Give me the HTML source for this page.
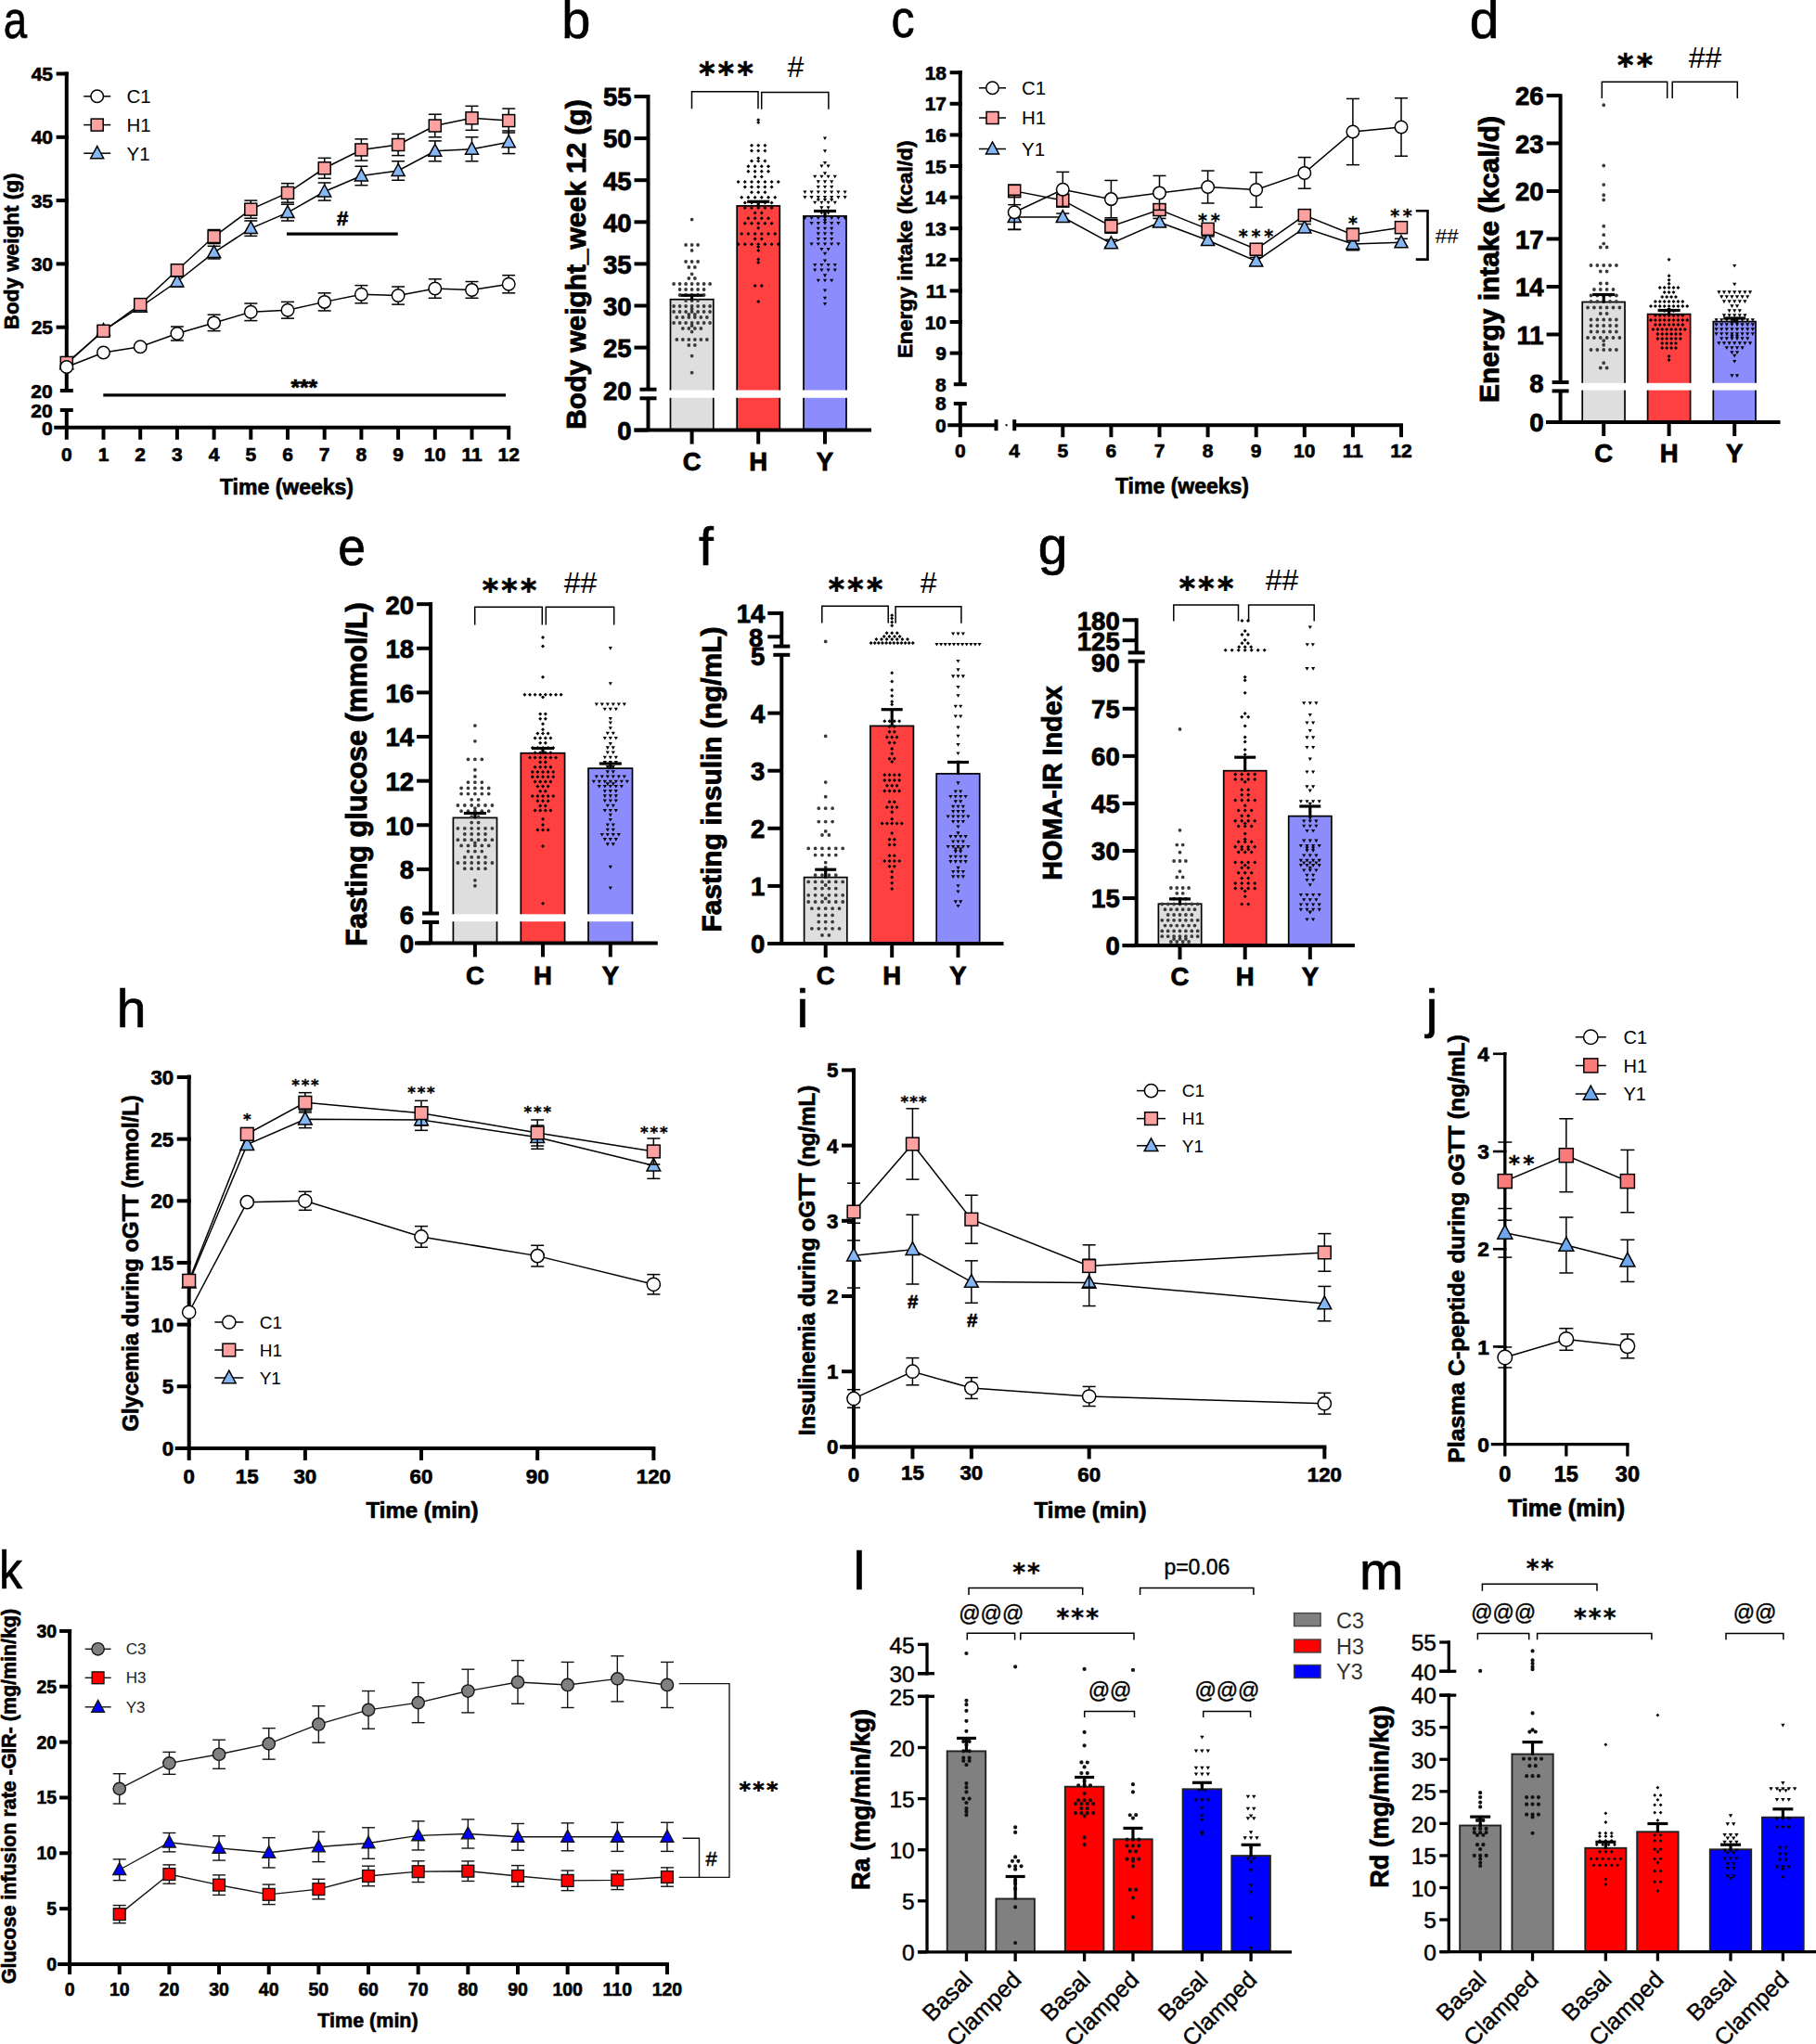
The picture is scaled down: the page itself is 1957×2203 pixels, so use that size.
<!DOCTYPE html>
<html><head><meta charset="utf-8"><title>Figure</title>
<style>html,body{margin:0;padding:0;background:#fff}svg{display:block}text{font-family:"Liberation Sans",sans-serif}</style>
</head><body>
<svg width="1957" height="2203" viewBox="0 0 1957 2203">
<rect width="1957" height="2203" fill="#fff"/>
<g>
<line x1="71.8" y1="77.5" x2="71.8" y2="421" stroke="#000" stroke-width="4"/>
<line x1="60.6" y1="79.5" x2="73.8" y2="79.5" stroke="#000" stroke-width="4"/>
<text x="57" y="87.02" font-size="21" font-weight="bold" stroke="#000" stroke-width="0.63" text-anchor="end">45</text>
<line x1="60.6" y1="147.8" x2="73.8" y2="147.8" stroke="#000" stroke-width="4"/>
<text x="57" y="155.32" font-size="21" font-weight="bold" stroke="#000" stroke-width="0.63" text-anchor="end">40</text>
<line x1="60.6" y1="216.1" x2="73.8" y2="216.1" stroke="#000" stroke-width="4"/>
<text x="57" y="223.62" font-size="21" font-weight="bold" stroke="#000" stroke-width="0.63" text-anchor="end">35</text>
<line x1="60.6" y1="284.4" x2="73.8" y2="284.4" stroke="#000" stroke-width="4"/>
<text x="57" y="291.92" font-size="21" font-weight="bold" stroke="#000" stroke-width="0.63" text-anchor="end">30</text>
<line x1="60.6" y1="352.7" x2="73.8" y2="352.7" stroke="#000" stroke-width="4"/>
<text x="57" y="360.22" font-size="21" font-weight="bold" stroke="#000" stroke-width="0.63" text-anchor="end">25</text>
<line x1="64.8" y1="421" x2="78.8" y2="421" stroke="#000" stroke-width="4"/>
<text x="56.6" y="429.02" font-size="21" font-weight="bold" stroke="#000" stroke-width="0.63" text-anchor="end">20</text>
<line x1="64.8" y1="442" x2="78.8" y2="442" stroke="#000" stroke-width="4"/>
<text x="56.6" y="450.02" font-size="21" font-weight="bold" stroke="#000" stroke-width="0.63" text-anchor="end">20</text>
<line x1="71.8" y1="440" x2="71.8" y2="460.8" stroke="#000" stroke-width="4"/>
<text x="56.6" y="469.32" font-size="21" font-weight="bold" stroke="#000" stroke-width="0.63" text-anchor="end">0</text>
<line x1="58.3" y1="460.8" x2="550.2" y2="460.8" stroke="#000" stroke-width="4"/>
<line x1="71.8" y1="460.8" x2="71.8" y2="473.8" stroke="#000" stroke-width="4"/>
<text x="71.8" y="496.82" font-size="21" font-weight="bold" stroke="#000" stroke-width="0.63" text-anchor="middle">0</text>
<line x1="111.5" y1="460.8" x2="111.5" y2="473.8" stroke="#000" stroke-width="4"/>
<text x="111.5" y="496.82" font-size="21" font-weight="bold" stroke="#000" stroke-width="0.63" text-anchor="middle">1</text>
<line x1="151.2" y1="460.8" x2="151.2" y2="473.8" stroke="#000" stroke-width="4"/>
<text x="151.2" y="496.82" font-size="21" font-weight="bold" stroke="#000" stroke-width="0.63" text-anchor="middle">2</text>
<line x1="190.9" y1="460.8" x2="190.9" y2="473.8" stroke="#000" stroke-width="4"/>
<text x="190.9" y="496.82" font-size="21" font-weight="bold" stroke="#000" stroke-width="0.63" text-anchor="middle">3</text>
<line x1="230.6" y1="460.8" x2="230.6" y2="473.8" stroke="#000" stroke-width="4"/>
<text x="230.6" y="496.82" font-size="21" font-weight="bold" stroke="#000" stroke-width="0.63" text-anchor="middle">4</text>
<line x1="270.3" y1="460.8" x2="270.3" y2="473.8" stroke="#000" stroke-width="4"/>
<text x="270.3" y="496.82" font-size="21" font-weight="bold" stroke="#000" stroke-width="0.63" text-anchor="middle">5</text>
<line x1="310" y1="460.8" x2="310" y2="473.8" stroke="#000" stroke-width="4"/>
<text x="310" y="496.82" font-size="21" font-weight="bold" stroke="#000" stroke-width="0.63" text-anchor="middle">6</text>
<line x1="349.7" y1="460.8" x2="349.7" y2="473.8" stroke="#000" stroke-width="4"/>
<text x="349.7" y="496.82" font-size="21" font-weight="bold" stroke="#000" stroke-width="0.63" text-anchor="middle">7</text>
<line x1="389.4" y1="460.8" x2="389.4" y2="473.8" stroke="#000" stroke-width="4"/>
<text x="389.4" y="496.82" font-size="21" font-weight="bold" stroke="#000" stroke-width="0.63" text-anchor="middle">8</text>
<line x1="429.1" y1="460.8" x2="429.1" y2="473.8" stroke="#000" stroke-width="4"/>
<text x="429.1" y="496.82" font-size="21" font-weight="bold" stroke="#000" stroke-width="0.63" text-anchor="middle">9</text>
<line x1="468.8" y1="460.8" x2="468.8" y2="473.8" stroke="#000" stroke-width="4"/>
<text x="468.8" y="496.82" font-size="21" font-weight="bold" stroke="#000" stroke-width="0.63" text-anchor="middle">10</text>
<line x1="508.5" y1="460.8" x2="508.5" y2="473.8" stroke="#000" stroke-width="4"/>
<text x="508.5" y="496.82" font-size="21" font-weight="bold" stroke="#000" stroke-width="0.63" text-anchor="middle">11</text>
<line x1="548.2" y1="460.8" x2="548.2" y2="473.8" stroke="#000" stroke-width="4"/>
<text x="548.2" y="496.82" font-size="21" font-weight="bold" stroke="#000" stroke-width="0.63" text-anchor="middle">12</text>
<text x="309" y="533.23" font-size="23" font-weight="bold" stroke="#000" stroke-width="0.69" text-anchor="middle">Time (weeks)</text>
<text transform="translate(11.5 271) rotate(-90)" x="0" y="8.05" font-size="22.5" font-weight="bold" stroke="#000" stroke-width="0.67" text-anchor="middle">Body weight (g)</text>
<line x1="111.5" y1="352.02" x2="111.5" y2="360.21" stroke="#000" stroke-width="1.5"/>
<line x1="104.5" y1="352.02" x2="118.5" y2="352.02" stroke="#000" stroke-width="1.5"/>
<line x1="104.5" y1="360.21" x2="118.5" y2="360.21" stroke="#000" stroke-width="1.5"/>
<line x1="151.2" y1="326.06" x2="151.2" y2="335.62" stroke="#000" stroke-width="1.5"/>
<line x1="144.2" y1="326.06" x2="158.2" y2="326.06" stroke="#000" stroke-width="1.5"/>
<line x1="144.2" y1="335.62" x2="158.2" y2="335.62" stroke="#000" stroke-width="1.5"/>
<line x1="190.9" y1="298.06" x2="190.9" y2="308.99" stroke="#000" stroke-width="1.5"/>
<line x1="183.9" y1="298.06" x2="197.9" y2="298.06" stroke="#000" stroke-width="1.5"/>
<line x1="183.9" y1="308.99" x2="197.9" y2="308.99" stroke="#000" stroke-width="1.5"/>
<line x1="230.6" y1="265.28" x2="230.6" y2="278.94" stroke="#000" stroke-width="1.5"/>
<line x1="223.6" y1="265.28" x2="237.6" y2="265.28" stroke="#000" stroke-width="1.5"/>
<line x1="223.6" y1="278.94" x2="237.6" y2="278.94" stroke="#000" stroke-width="1.5"/>
<line x1="270.3" y1="237.96" x2="270.3" y2="254.35" stroke="#000" stroke-width="1.5"/>
<line x1="263.3" y1="237.96" x2="277.3" y2="237.96" stroke="#000" stroke-width="1.5"/>
<line x1="263.3" y1="254.35" x2="277.3" y2="254.35" stroke="#000" stroke-width="1.5"/>
<line x1="310" y1="220.2" x2="310" y2="237.96" stroke="#000" stroke-width="1.5"/>
<line x1="303" y1="220.2" x2="317" y2="220.2" stroke="#000" stroke-width="1.5"/>
<line x1="303" y1="237.96" x2="317" y2="237.96" stroke="#000" stroke-width="1.5"/>
<line x1="349.7" y1="196.98" x2="349.7" y2="216.1" stroke="#000" stroke-width="1.5"/>
<line x1="342.7" y1="196.98" x2="356.7" y2="196.98" stroke="#000" stroke-width="1.5"/>
<line x1="342.7" y1="216.1" x2="356.7" y2="216.1" stroke="#000" stroke-width="1.5"/>
<line x1="389.4" y1="179.22" x2="389.4" y2="199.71" stroke="#000" stroke-width="1.5"/>
<line x1="382.4" y1="179.22" x2="396.4" y2="179.22" stroke="#000" stroke-width="1.5"/>
<line x1="382.4" y1="199.71" x2="396.4" y2="199.71" stroke="#000" stroke-width="1.5"/>
<line x1="429.1" y1="173.75" x2="429.1" y2="194.24" stroke="#000" stroke-width="1.5"/>
<line x1="422.1" y1="173.75" x2="436.1" y2="173.75" stroke="#000" stroke-width="1.5"/>
<line x1="422.1" y1="194.24" x2="436.1" y2="194.24" stroke="#000" stroke-width="1.5"/>
<line x1="468.8" y1="151.9" x2="468.8" y2="173.75" stroke="#000" stroke-width="1.5"/>
<line x1="461.8" y1="151.9" x2="475.8" y2="151.9" stroke="#000" stroke-width="1.5"/>
<line x1="461.8" y1="173.75" x2="475.8" y2="173.75" stroke="#000" stroke-width="1.5"/>
<line x1="508.5" y1="147.8" x2="508.5" y2="173.75" stroke="#000" stroke-width="1.5"/>
<line x1="501.5" y1="147.8" x2="515.5" y2="147.8" stroke="#000" stroke-width="1.5"/>
<line x1="501.5" y1="173.75" x2="515.5" y2="173.75" stroke="#000" stroke-width="1.5"/>
<line x1="548.2" y1="140.97" x2="548.2" y2="165.56" stroke="#000" stroke-width="1.5"/>
<line x1="541.2" y1="140.97" x2="555.2" y2="140.97" stroke="#000" stroke-width="1.5"/>
<line x1="541.2" y1="165.56" x2="555.2" y2="165.56" stroke="#000" stroke-width="1.5"/>
<polyline points="71.8,392.31 111.5,356.12 151.2,330.84 190.9,303.52 230.6,272.11 270.3,246.15 310,229.08 349.7,206.54 389.4,189.46 429.1,184 468.8,162.83 508.5,160.78 548.2,153.26" fill="none" stroke="#000" stroke-width="1.5" stroke-linejoin="miter"/>
<polygon points="71.8,384.77 78.8,397.77 64.8,397.77" fill="#86b7f5" stroke="#000" stroke-width="1.5" stroke-linejoin="miter"/>
<polygon points="111.5,348.57 118.5,361.57 104.5,361.57" fill="#86b7f5" stroke="#000" stroke-width="1.5" stroke-linejoin="miter"/>
<polygon points="151.2,323.3 158.2,336.3 144.2,336.3" fill="#86b7f5" stroke="#000" stroke-width="1.5" stroke-linejoin="miter"/>
<polygon points="190.9,295.98 197.9,308.98 183.9,308.98" fill="#86b7f5" stroke="#000" stroke-width="1.5" stroke-linejoin="miter"/>
<polygon points="230.6,264.57 237.6,277.57 223.6,277.57" fill="#86b7f5" stroke="#000" stroke-width="1.5" stroke-linejoin="miter"/>
<polygon points="270.3,238.61 277.3,251.61 263.3,251.61" fill="#86b7f5" stroke="#000" stroke-width="1.5" stroke-linejoin="miter"/>
<polygon points="310,221.54 317,234.54 303,234.54" fill="#86b7f5" stroke="#000" stroke-width="1.5" stroke-linejoin="miter"/>
<polygon points="349.7,199 356.7,212 342.7,212" fill="#86b7f5" stroke="#000" stroke-width="1.5" stroke-linejoin="miter"/>
<polygon points="389.4,181.92 396.4,194.92 382.4,194.92" fill="#86b7f5" stroke="#000" stroke-width="1.5" stroke-linejoin="miter"/>
<polygon points="429.1,176.46 436.1,189.46 422.1,189.46" fill="#86b7f5" stroke="#000" stroke-width="1.5" stroke-linejoin="miter"/>
<polygon points="468.8,155.29 475.8,168.29 461.8,168.29" fill="#86b7f5" stroke="#000" stroke-width="1.5" stroke-linejoin="miter"/>
<polygon points="508.5,153.24 515.5,166.24 501.5,166.24" fill="#86b7f5" stroke="#000" stroke-width="1.5" stroke-linejoin="miter"/>
<polygon points="548.2,145.72 555.2,158.72 541.2,158.72" fill="#86b7f5" stroke="#000" stroke-width="1.5" stroke-linejoin="miter"/>
<line x1="190.9" y1="285.77" x2="190.9" y2="296.69" stroke="#000" stroke-width="1.5"/>
<line x1="183.9" y1="285.77" x2="197.9" y2="285.77" stroke="#000" stroke-width="1.5"/>
<line x1="183.9" y1="296.69" x2="197.9" y2="296.69" stroke="#000" stroke-width="1.5"/>
<line x1="230.6" y1="247.52" x2="230.6" y2="262.54" stroke="#000" stroke-width="1.5"/>
<line x1="223.6" y1="247.52" x2="237.6" y2="247.52" stroke="#000" stroke-width="1.5"/>
<line x1="223.6" y1="262.54" x2="237.6" y2="262.54" stroke="#000" stroke-width="1.5"/>
<line x1="270.3" y1="216.1" x2="270.3" y2="235.22" stroke="#000" stroke-width="1.5"/>
<line x1="263.3" y1="216.1" x2="277.3" y2="216.1" stroke="#000" stroke-width="1.5"/>
<line x1="263.3" y1="235.22" x2="277.3" y2="235.22" stroke="#000" stroke-width="1.5"/>
<line x1="310" y1="197.66" x2="310" y2="218.15" stroke="#000" stroke-width="1.5"/>
<line x1="303" y1="197.66" x2="317" y2="197.66" stroke="#000" stroke-width="1.5"/>
<line x1="303" y1="218.15" x2="317" y2="218.15" stroke="#000" stroke-width="1.5"/>
<line x1="349.7" y1="170.34" x2="349.7" y2="192.19" stroke="#000" stroke-width="1.5"/>
<line x1="342.7" y1="170.34" x2="356.7" y2="170.34" stroke="#000" stroke-width="1.5"/>
<line x1="342.7" y1="192.19" x2="356.7" y2="192.19" stroke="#000" stroke-width="1.5"/>
<line x1="389.4" y1="149.85" x2="389.4" y2="173.07" stroke="#000" stroke-width="1.5"/>
<line x1="382.4" y1="149.85" x2="396.4" y2="149.85" stroke="#000" stroke-width="1.5"/>
<line x1="382.4" y1="173.07" x2="396.4" y2="173.07" stroke="#000" stroke-width="1.5"/>
<line x1="429.1" y1="144.38" x2="429.1" y2="167.61" stroke="#000" stroke-width="1.5"/>
<line x1="422.1" y1="144.38" x2="436.1" y2="144.38" stroke="#000" stroke-width="1.5"/>
<line x1="422.1" y1="167.61" x2="436.1" y2="167.61" stroke="#000" stroke-width="1.5"/>
<line x1="468.8" y1="123.21" x2="468.8" y2="147.8" stroke="#000" stroke-width="1.5"/>
<line x1="461.8" y1="123.21" x2="475.8" y2="123.21" stroke="#000" stroke-width="1.5"/>
<line x1="461.8" y1="147.8" x2="475.8" y2="147.8" stroke="#000" stroke-width="1.5"/>
<line x1="508.5" y1="114.33" x2="508.5" y2="140.29" stroke="#000" stroke-width="1.5"/>
<line x1="501.5" y1="114.33" x2="515.5" y2="114.33" stroke="#000" stroke-width="1.5"/>
<line x1="501.5" y1="140.29" x2="515.5" y2="140.29" stroke="#000" stroke-width="1.5"/>
<line x1="548.2" y1="117.06" x2="548.2" y2="143.02" stroke="#000" stroke-width="1.5"/>
<line x1="541.2" y1="117.06" x2="555.2" y2="117.06" stroke="#000" stroke-width="1.5"/>
<line x1="541.2" y1="143.02" x2="555.2" y2="143.02" stroke="#000" stroke-width="1.5"/>
<polyline points="71.8,390.95 111.5,356.8 151.2,328.11 190.9,291.23 230.6,255.03 270.3,225.66 310,207.9 349.7,181.27 389.4,161.46 429.1,156 468.8,135.51 508.5,127.31 548.2,130.04" fill="none" stroke="#000" stroke-width="1.5" stroke-linejoin="miter"/>
<rect x="65.3" y="384.45" width="13" height="13" fill="#fca0a0" stroke="#000" stroke-width="1.5"/>
<rect x="105" y="350.3" width="13" height="13" fill="#fca0a0" stroke="#000" stroke-width="1.5"/>
<rect x="144.7" y="321.61" width="13" height="13" fill="#fca0a0" stroke="#000" stroke-width="1.5"/>
<rect x="184.4" y="284.73" width="13" height="13" fill="#fca0a0" stroke="#000" stroke-width="1.5"/>
<rect x="224.1" y="248.53" width="13" height="13" fill="#fca0a0" stroke="#000" stroke-width="1.5"/>
<rect x="263.8" y="219.16" width="13" height="13" fill="#fca0a0" stroke="#000" stroke-width="1.5"/>
<rect x="303.5" y="201.4" width="13" height="13" fill="#fca0a0" stroke="#000" stroke-width="1.5"/>
<rect x="343.2" y="174.77" width="13" height="13" fill="#fca0a0" stroke="#000" stroke-width="1.5"/>
<rect x="382.9" y="154.96" width="13" height="13" fill="#fca0a0" stroke="#000" stroke-width="1.5"/>
<rect x="422.6" y="149.5" width="13" height="13" fill="#fca0a0" stroke="#000" stroke-width="1.5"/>
<rect x="462.3" y="129.01" width="13" height="13" fill="#fca0a0" stroke="#000" stroke-width="1.5"/>
<rect x="502" y="120.81" width="13" height="13" fill="#fca0a0" stroke="#000" stroke-width="1.5"/>
<rect x="541.7" y="123.54" width="13" height="13" fill="#fca0a0" stroke="#000" stroke-width="1.5"/>
<line x1="190.9" y1="352.02" x2="190.9" y2="367.04" stroke="#000" stroke-width="1.5"/>
<line x1="183.9" y1="352.02" x2="197.9" y2="352.02" stroke="#000" stroke-width="1.5"/>
<line x1="183.9" y1="367.04" x2="197.9" y2="367.04" stroke="#000" stroke-width="1.5"/>
<line x1="230.6" y1="339.18" x2="230.6" y2="356.66" stroke="#000" stroke-width="1.5"/>
<line x1="223.6" y1="339.18" x2="237.6" y2="339.18" stroke="#000" stroke-width="1.5"/>
<line x1="223.6" y1="356.66" x2="237.6" y2="356.66" stroke="#000" stroke-width="1.5"/>
<line x1="270.3" y1="327.02" x2="270.3" y2="345.6" stroke="#000" stroke-width="1.5"/>
<line x1="263.3" y1="327.02" x2="277.3" y2="327.02" stroke="#000" stroke-width="1.5"/>
<line x1="263.3" y1="345.6" x2="277.3" y2="345.6" stroke="#000" stroke-width="1.5"/>
<line x1="310" y1="325.38" x2="310" y2="343.14" stroke="#000" stroke-width="1.5"/>
<line x1="303" y1="325.38" x2="317" y2="325.38" stroke="#000" stroke-width="1.5"/>
<line x1="303" y1="343.14" x2="317" y2="343.14" stroke="#000" stroke-width="1.5"/>
<line x1="349.7" y1="315.82" x2="349.7" y2="334.94" stroke="#000" stroke-width="1.5"/>
<line x1="342.7" y1="315.82" x2="356.7" y2="315.82" stroke="#000" stroke-width="1.5"/>
<line x1="342.7" y1="334.94" x2="356.7" y2="334.94" stroke="#000" stroke-width="1.5"/>
<line x1="389.4" y1="307.62" x2="389.4" y2="326.75" stroke="#000" stroke-width="1.5"/>
<line x1="382.4" y1="307.62" x2="396.4" y2="307.62" stroke="#000" stroke-width="1.5"/>
<line x1="382.4" y1="326.75" x2="396.4" y2="326.75" stroke="#000" stroke-width="1.5"/>
<line x1="429.1" y1="308.99" x2="429.1" y2="328.11" stroke="#000" stroke-width="1.5"/>
<line x1="422.1" y1="308.99" x2="436.1" y2="308.99" stroke="#000" stroke-width="1.5"/>
<line x1="422.1" y1="328.11" x2="436.1" y2="328.11" stroke="#000" stroke-width="1.5"/>
<line x1="468.8" y1="300.79" x2="468.8" y2="321.28" stroke="#000" stroke-width="1.5"/>
<line x1="461.8" y1="300.79" x2="475.8" y2="300.79" stroke="#000" stroke-width="1.5"/>
<line x1="461.8" y1="321.28" x2="475.8" y2="321.28" stroke="#000" stroke-width="1.5"/>
<line x1="508.5" y1="303.52" x2="508.5" y2="321.28" stroke="#000" stroke-width="1.5"/>
<line x1="501.5" y1="303.52" x2="515.5" y2="303.52" stroke="#000" stroke-width="1.5"/>
<line x1="501.5" y1="321.28" x2="515.5" y2="321.28" stroke="#000" stroke-width="1.5"/>
<line x1="548.2" y1="296.69" x2="548.2" y2="315.82" stroke="#000" stroke-width="1.5"/>
<line x1="541.2" y1="296.69" x2="555.2" y2="296.69" stroke="#000" stroke-width="1.5"/>
<line x1="541.2" y1="315.82" x2="555.2" y2="315.82" stroke="#000" stroke-width="1.5"/>
<polyline points="71.8,395.46 111.5,380.02 151.2,373.74 190.9,359.53 230.6,347.92 270.3,336.31 310,334.26 349.7,325.38 389.4,317.18 429.1,318.55 468.8,311.04 508.5,312.4 548.2,306.26" fill="none" stroke="#000" stroke-width="1.5" stroke-linejoin="miter"/>
<circle cx="71.8" cy="395.46" r="6.75" fill="#fff" stroke="#000" stroke-width="1.5"/>
<circle cx="111.5" cy="380.02" r="6.75" fill="#fff" stroke="#000" stroke-width="1.5"/>
<circle cx="151.2" cy="373.74" r="6.75" fill="#fff" stroke="#000" stroke-width="1.5"/>
<circle cx="190.9" cy="359.53" r="6.75" fill="#fff" stroke="#000" stroke-width="1.5"/>
<circle cx="230.6" cy="347.92" r="6.75" fill="#fff" stroke="#000" stroke-width="1.5"/>
<circle cx="270.3" cy="336.31" r="6.75" fill="#fff" stroke="#000" stroke-width="1.5"/>
<circle cx="310" cy="334.26" r="6.75" fill="#fff" stroke="#000" stroke-width="1.5"/>
<circle cx="349.7" cy="325.38" r="6.75" fill="#fff" stroke="#000" stroke-width="1.5"/>
<circle cx="389.4" cy="317.18" r="6.75" fill="#fff" stroke="#000" stroke-width="1.5"/>
<circle cx="429.1" cy="318.55" r="6.75" fill="#fff" stroke="#000" stroke-width="1.5"/>
<circle cx="468.8" cy="311.04" r="6.75" fill="#fff" stroke="#000" stroke-width="1.5"/>
<circle cx="508.5" cy="312.4" r="6.75" fill="#fff" stroke="#000" stroke-width="1.5"/>
<circle cx="548.2" cy="306.26" r="6.75" fill="#fff" stroke="#000" stroke-width="1.5"/>
<line x1="90.2" y1="103.8" x2="119.2" y2="103.8" stroke="#000" stroke-width="1.5"/>
<circle cx="104.7" cy="103.8" r="6.75" fill="#fff" stroke="#000" stroke-width="1.5"/>
<text x="136.5" y="111.14" font-size="20.5">C1</text>
<line x1="90.2" y1="134.6" x2="119.2" y2="134.6" stroke="#000" stroke-width="1.5"/>
<rect x="98.2" y="128.1" width="13" height="13" fill="#fca0a0" stroke="#000" stroke-width="1.5"/>
<text x="136.5" y="141.94" font-size="20.5">H1</text>
<line x1="90.2" y1="165.2" x2="119.2" y2="165.2" stroke="#000" stroke-width="1.5"/>
<polygon points="104.7,157.66 111.7,170.66 97.7,170.66" fill="#86b7f5" stroke="#000" stroke-width="1.5" stroke-linejoin="miter"/>
<text x="136.5" y="172.54" font-size="20.5">Y1</text>
<line x1="309" y1="252.2" x2="428.7" y2="252.2" stroke="#000" stroke-width="3.2"/>
<text x="369" y="242.58" font-size="22" font-weight="bold" stroke="#000" stroke-width="0.66" text-anchor="middle">#</text>
<line x1="111.3" y1="425.8" x2="545" y2="425.8" stroke="#000" stroke-width="3.2"/>
<text x="327.7" y="426.27" font-size="24.5" font-weight="bold" stroke="#000" stroke-width="0.73" text-anchor="middle">***</text>
<text transform="translate(3.74 40.5) scale(0.8 1)" font-size="57" stroke="#000" stroke-width="0.7">a</text>
</g>
<g>
<rect x="722.5" y="322.7" width="46.3" height="140.9" fill="#dedede" stroke="#000" stroke-width="1.7"/>
<rect x="794.2" y="221.9" width="46.1" height="241.7" fill="#fe4040" stroke="#000" stroke-width="1.7"/>
<rect x="866" y="232.9" width="46" height="230.7" fill="#8c8cfc" stroke="#000" stroke-width="1.7"/>
<rect x="683.5" y="420.5" width="255.5" height="8.3" fill="#fff" stroke="none" stroke-width="1"/>
<path d="M743.7 236.59a1.9 1.9 0 1 0 3.8 0a1.9 1.9 0 1 0 -3.8 0M737.2 264a1.9 1.9 0 1 0 3.8 0a1.9 1.9 0 1 0 -3.8 0M743.7 264a1.9 1.9 0 1 0 3.8 0a1.9 1.9 0 1 0 -3.8 0M750.2 264a1.9 1.9 0 1 0 3.8 0a1.9 1.9 0 1 0 -3.8 0M743.7 269.97a1.9 1.9 0 1 0 3.8 0a1.9 1.9 0 1 0 -3.8 0M737.2 282a1.9 1.9 0 1 0 3.8 0a1.9 1.9 0 1 0 -3.8 0M743.7 282a1.9 1.9 0 1 0 3.8 0a1.9 1.9 0 1 0 -3.8 0M750.2 282a1.9 1.9 0 1 0 3.8 0a1.9 1.9 0 1 0 -3.8 0M740.45 288a1.9 1.9 0 1 0 3.8 0a1.9 1.9 0 1 0 -3.8 0M746.95 288a1.9 1.9 0 1 0 3.8 0a1.9 1.9 0 1 0 -3.8 0M743.7 295.37a1.9 1.9 0 1 0 3.8 0a1.9 1.9 0 1 0 -3.8 0M740.45 300a1.9 1.9 0 1 0 3.8 0a1.9 1.9 0 1 0 -3.8 0M746.95 300a1.9 1.9 0 1 0 3.8 0a1.9 1.9 0 1 0 -3.8 0M724.2 306a1.9 1.9 0 1 0 3.8 0a1.9 1.9 0 1 0 -3.8 0M730.7 306a1.9 1.9 0 1 0 3.8 0a1.9 1.9 0 1 0 -3.8 0M737.2 306a1.9 1.9 0 1 0 3.8 0a1.9 1.9 0 1 0 -3.8 0M743.7 306a1.9 1.9 0 1 0 3.8 0a1.9 1.9 0 1 0 -3.8 0M750.2 306a1.9 1.9 0 1 0 3.8 0a1.9 1.9 0 1 0 -3.8 0M756.7 306a1.9 1.9 0 1 0 3.8 0a1.9 1.9 0 1 0 -3.8 0M763.2 306a1.9 1.9 0 1 0 3.8 0a1.9 1.9 0 1 0 -3.8 0M730.7 312a1.9 1.9 0 1 0 3.8 0a1.9 1.9 0 1 0 -3.8 0M737.2 312a1.9 1.9 0 1 0 3.8 0a1.9 1.9 0 1 0 -3.8 0M743.7 312a1.9 1.9 0 1 0 3.8 0a1.9 1.9 0 1 0 -3.8 0M750.2 312a1.9 1.9 0 1 0 3.8 0a1.9 1.9 0 1 0 -3.8 0M756.7 312a1.9 1.9 0 1 0 3.8 0a1.9 1.9 0 1 0 -3.8 0M730.7 318a1.9 1.9 0 1 0 3.8 0a1.9 1.9 0 1 0 -3.8 0M737.2 318a1.9 1.9 0 1 0 3.8 0a1.9 1.9 0 1 0 -3.8 0M743.7 318a1.9 1.9 0 1 0 3.8 0a1.9 1.9 0 1 0 -3.8 0M750.2 318a1.9 1.9 0 1 0 3.8 0a1.9 1.9 0 1 0 -3.8 0M756.7 318a1.9 1.9 0 1 0 3.8 0a1.9 1.9 0 1 0 -3.8 0M737.2 324a1.9 1.9 0 1 0 3.8 0a1.9 1.9 0 1 0 -3.8 0M743.7 324a1.9 1.9 0 1 0 3.8 0a1.9 1.9 0 1 0 -3.8 0M750.2 324a1.9 1.9 0 1 0 3.8 0a1.9 1.9 0 1 0 -3.8 0M724.2 330a1.9 1.9 0 1 0 3.8 0a1.9 1.9 0 1 0 -3.8 0M730.7 330a1.9 1.9 0 1 0 3.8 0a1.9 1.9 0 1 0 -3.8 0M737.2 330a1.9 1.9 0 1 0 3.8 0a1.9 1.9 0 1 0 -3.8 0M743.7 330a1.9 1.9 0 1 0 3.8 0a1.9 1.9 0 1 0 -3.8 0M750.2 330a1.9 1.9 0 1 0 3.8 0a1.9 1.9 0 1 0 -3.8 0M756.7 330a1.9 1.9 0 1 0 3.8 0a1.9 1.9 0 1 0 -3.8 0M763.2 330a1.9 1.9 0 1 0 3.8 0a1.9 1.9 0 1 0 -3.8 0M743.7 333a1.9 1.9 0 1 0 3.8 0a1.9 1.9 0 1 0 -3.8 0M724.2 336a1.9 1.9 0 1 0 3.8 0a1.9 1.9 0 1 0 -3.8 0M730.7 336a1.9 1.9 0 1 0 3.8 0a1.9 1.9 0 1 0 -3.8 0M737.2 336a1.9 1.9 0 1 0 3.8 0a1.9 1.9 0 1 0 -3.8 0M743.7 336a1.9 1.9 0 1 0 3.8 0a1.9 1.9 0 1 0 -3.8 0M750.2 336a1.9 1.9 0 1 0 3.8 0a1.9 1.9 0 1 0 -3.8 0M756.7 336a1.9 1.9 0 1 0 3.8 0a1.9 1.9 0 1 0 -3.8 0M763.2 336a1.9 1.9 0 1 0 3.8 0a1.9 1.9 0 1 0 -3.8 0M740.45 339a1.9 1.9 0 1 0 3.8 0a1.9 1.9 0 1 0 -3.8 0M746.95 339a1.9 1.9 0 1 0 3.8 0a1.9 1.9 0 1 0 -3.8 0M727.45 342a1.9 1.9 0 1 0 3.8 0a1.9 1.9 0 1 0 -3.8 0M733.95 342a1.9 1.9 0 1 0 3.8 0a1.9 1.9 0 1 0 -3.8 0M740.45 342a1.9 1.9 0 1 0 3.8 0a1.9 1.9 0 1 0 -3.8 0M746.95 342a1.9 1.9 0 1 0 3.8 0a1.9 1.9 0 1 0 -3.8 0M753.45 342a1.9 1.9 0 1 0 3.8 0a1.9 1.9 0 1 0 -3.8 0M759.95 342a1.9 1.9 0 1 0 3.8 0a1.9 1.9 0 1 0 -3.8 0M724.2 348a1.9 1.9 0 1 0 3.8 0a1.9 1.9 0 1 0 -3.8 0M730.7 348a1.9 1.9 0 1 0 3.8 0a1.9 1.9 0 1 0 -3.8 0M737.2 348a1.9 1.9 0 1 0 3.8 0a1.9 1.9 0 1 0 -3.8 0M743.7 348a1.9 1.9 0 1 0 3.8 0a1.9 1.9 0 1 0 -3.8 0M750.2 348a1.9 1.9 0 1 0 3.8 0a1.9 1.9 0 1 0 -3.8 0M756.7 348a1.9 1.9 0 1 0 3.8 0a1.9 1.9 0 1 0 -3.8 0M763.2 348a1.9 1.9 0 1 0 3.8 0a1.9 1.9 0 1 0 -3.8 0M743.7 351a1.9 1.9 0 1 0 3.8 0a1.9 1.9 0 1 0 -3.8 0M733.95 354a1.9 1.9 0 1 0 3.8 0a1.9 1.9 0 1 0 -3.8 0M740.45 354a1.9 1.9 0 1 0 3.8 0a1.9 1.9 0 1 0 -3.8 0M746.95 354a1.9 1.9 0 1 0 3.8 0a1.9 1.9 0 1 0 -3.8 0M753.45 354a1.9 1.9 0 1 0 3.8 0a1.9 1.9 0 1 0 -3.8 0M743.7 357.57a1.9 1.9 0 1 0 3.8 0a1.9 1.9 0 1 0 -3.8 0M727.45 366a1.9 1.9 0 1 0 3.8 0a1.9 1.9 0 1 0 -3.8 0M733.95 366a1.9 1.9 0 1 0 3.8 0a1.9 1.9 0 1 0 -3.8 0M740.45 366a1.9 1.9 0 1 0 3.8 0a1.9 1.9 0 1 0 -3.8 0M746.95 366a1.9 1.9 0 1 0 3.8 0a1.9 1.9 0 1 0 -3.8 0M753.45 366a1.9 1.9 0 1 0 3.8 0a1.9 1.9 0 1 0 -3.8 0M759.95 366a1.9 1.9 0 1 0 3.8 0a1.9 1.9 0 1 0 -3.8 0M740.45 372a1.9 1.9 0 1 0 3.8 0a1.9 1.9 0 1 0 -3.8 0M746.95 372a1.9 1.9 0 1 0 3.8 0a1.9 1.9 0 1 0 -3.8 0M743.7 383.62a1.9 1.9 0 1 0 3.8 0a1.9 1.9 0 1 0 -3.8 0M743.7 401.66a1.9 1.9 0 1 0 3.8 0a1.9 1.9 0 1 0 -3.8 0" fill="#3a3a3a"/>
<path d="M817.2 127.26l2 2l-2 2l-2 -2zM817.2 129.96l2 2l-2 2l-2 -2zM810 154.8l2 2l-2 2l-2 -2zM817.2 154.8l2 2l-2 2l-2 -2zM824.4 154.8l2 2l-2 2l-2 -2zM810 160.4l2 2l-2 2l-2 -2zM817.2 160.4l2 2l-2 2l-2 -2zM824.4 160.4l2 2l-2 2l-2 -2zM817.2 168.54l2 2l-2 2l-2 -2zM810 171.6l2 2l-2 2l-2 -2zM817.2 171.6l2 2l-2 2l-2 -2zM824.4 171.6l2 2l-2 2l-2 -2zM806.4 177.2l2 2l-2 2l-2 -2zM813.6 177.2l2 2l-2 2l-2 -2zM820.8 177.2l2 2l-2 2l-2 -2zM828 177.2l2 2l-2 2l-2 -2zM806.4 182.8l2 2l-2 2l-2 -2zM813.6 182.8l2 2l-2 2l-2 -2zM820.8 182.8l2 2l-2 2l-2 -2zM828 182.8l2 2l-2 2l-2 -2zM813.6 188.4l2 2l-2 2l-2 -2zM820.8 188.4l2 2l-2 2l-2 -2zM795.6 194l2 2l-2 2l-2 -2zM802.8 194l2 2l-2 2l-2 -2zM810 194l2 2l-2 2l-2 -2zM817.2 194l2 2l-2 2l-2 -2zM824.4 194l2 2l-2 2l-2 -2zM831.6 194l2 2l-2 2l-2 -2zM838.8 194l2 2l-2 2l-2 -2zM802.8 199.6l2 2l-2 2l-2 -2zM810 199.6l2 2l-2 2l-2 -2zM817.2 199.6l2 2l-2 2l-2 -2zM824.4 199.6l2 2l-2 2l-2 -2zM831.6 199.6l2 2l-2 2l-2 -2zM810 205.2l2 2l-2 2l-2 -2zM817.2 205.2l2 2l-2 2l-2 -2zM824.4 205.2l2 2l-2 2l-2 -2zM799.2 210.8l2 2l-2 2l-2 -2zM806.4 210.8l2 2l-2 2l-2 -2zM813.6 210.8l2 2l-2 2l-2 -2zM820.8 210.8l2 2l-2 2l-2 -2zM828 210.8l2 2l-2 2l-2 -2zM835.2 210.8l2 2l-2 2l-2 -2zM802.8 216.4l2 2l-2 2l-2 -2zM810 216.4l2 2l-2 2l-2 -2zM817.2 216.4l2 2l-2 2l-2 -2zM824.4 216.4l2 2l-2 2l-2 -2zM831.6 216.4l2 2l-2 2l-2 -2zM802.8 222l2 2l-2 2l-2 -2zM810 222l2 2l-2 2l-2 -2zM817.2 222l2 2l-2 2l-2 -2zM824.4 222l2 2l-2 2l-2 -2zM831.6 222l2 2l-2 2l-2 -2zM813.6 227.6l2 2l-2 2l-2 -2zM820.8 227.6l2 2l-2 2l-2 -2zM806.4 233.2l2 2l-2 2l-2 -2zM813.6 233.2l2 2l-2 2l-2 -2zM820.8 233.2l2 2l-2 2l-2 -2zM828 233.2l2 2l-2 2l-2 -2zM802.8 238.8l2 2l-2 2l-2 -2zM810 238.8l2 2l-2 2l-2 -2zM817.2 238.8l2 2l-2 2l-2 -2zM824.4 238.8l2 2l-2 2l-2 -2zM831.6 238.8l2 2l-2 2l-2 -2zM817.2 243.7l2 2l-2 2l-2 -2zM799.2 250l2 2l-2 2l-2 -2zM806.4 250l2 2l-2 2l-2 -2zM813.6 250l2 2l-2 2l-2 -2zM820.8 250l2 2l-2 2l-2 -2zM828 250l2 2l-2 2l-2 -2zM835.2 250l2 2l-2 2l-2 -2zM813.6 255.6l2 2l-2 2l-2 -2zM820.8 255.6l2 2l-2 2l-2 -2zM795.6 261.2l2 2l-2 2l-2 -2zM802.8 261.2l2 2l-2 2l-2 -2zM810 261.2l2 2l-2 2l-2 -2zM817.2 261.2l2 2l-2 2l-2 -2zM824.4 261.2l2 2l-2 2l-2 -2zM831.6 261.2l2 2l-2 2l-2 -2zM838.8 261.2l2 2l-2 2l-2 -2zM817.2 264l2 2l-2 2l-2 -2zM817.2 268.01l2 2l-2 2l-2 -2zM817.2 277.46l2 2l-2 2l-2 -2zM817.2 280.89l2 2l-2 2l-2 -2zM813.6 306l2 2l-2 2l-2 -2zM820.8 306l2 2l-2 2l-2 -2zM817.2 322.99l2 2l-2 2l-2 -2z" fill="#000"/>
<path d="M886.9 147.42h4.2l-2.1 3.57zM886.9 161.21h4.2l-2.1 3.57zM886.9 174h4.2l-2.1 3.57zM883.3 177.52h4.2l-2.1 3.57zM890.5 177.52h4.2l-2.1 3.57zM886.9 185.35h4.2l-2.1 3.57zM876.1 188.72h4.2l-2.1 3.57zM883.3 188.72h4.2l-2.1 3.57zM890.5 188.72h4.2l-2.1 3.57zM897.7 188.72h4.2l-2.1 3.57zM879.7 194.32h4.2l-2.1 3.57zM886.9 194.32h4.2l-2.1 3.57zM894.1 194.32h4.2l-2.1 3.57zM879.7 199.92h4.2l-2.1 3.57zM886.9 199.92h4.2l-2.1 3.57zM894.1 199.92h4.2l-2.1 3.57zM865.3 205.52h4.2l-2.1 3.57zM872.5 205.52h4.2l-2.1 3.57zM879.7 205.52h4.2l-2.1 3.57zM886.9 205.52h4.2l-2.1 3.57zM894.1 205.52h4.2l-2.1 3.57zM901.3 205.52h4.2l-2.1 3.57zM908.5 205.52h4.2l-2.1 3.57zM865.3 211.12h4.2l-2.1 3.57zM872.5 211.12h4.2l-2.1 3.57zM879.7 211.12h4.2l-2.1 3.57zM886.9 211.12h4.2l-2.1 3.57zM894.1 211.12h4.2l-2.1 3.57zM901.3 211.12h4.2l-2.1 3.57zM908.5 211.12h4.2l-2.1 3.57zM879.7 213.92h4.2l-2.1 3.57zM886.9 213.92h4.2l-2.1 3.57zM894.1 213.92h4.2l-2.1 3.57zM876.1 216.72h4.2l-2.1 3.57zM883.3 216.72h4.2l-2.1 3.57zM890.5 216.72h4.2l-2.1 3.57zM897.7 216.72h4.2l-2.1 3.57zM883.3 222.32h4.2l-2.1 3.57zM890.5 222.32h4.2l-2.1 3.57zM883.3 227.92h4.2l-2.1 3.57zM890.5 227.92h4.2l-2.1 3.57zM865.3 233.52h4.2l-2.1 3.57zM872.5 233.52h4.2l-2.1 3.57zM879.7 233.52h4.2l-2.1 3.57zM886.9 233.52h4.2l-2.1 3.57zM894.1 233.52h4.2l-2.1 3.57zM901.3 233.52h4.2l-2.1 3.57zM908.5 233.52h4.2l-2.1 3.57zM886.9 236.32h4.2l-2.1 3.57zM872.5 239.12h4.2l-2.1 3.57zM879.7 239.12h4.2l-2.1 3.57zM886.9 239.12h4.2l-2.1 3.57zM894.1 239.12h4.2l-2.1 3.57zM901.3 239.12h4.2l-2.1 3.57zM879.7 244.72h4.2l-2.1 3.57zM886.9 244.72h4.2l-2.1 3.57zM894.1 244.72h4.2l-2.1 3.57zM879.7 250.32h4.2l-2.1 3.57zM886.9 250.32h4.2l-2.1 3.57zM894.1 250.32h4.2l-2.1 3.57zM879.7 255.92h4.2l-2.1 3.57zM886.9 255.92h4.2l-2.1 3.57zM894.1 255.92h4.2l-2.1 3.57zM872.5 261.52h4.2l-2.1 3.57zM879.7 261.52h4.2l-2.1 3.57zM886.9 261.52h4.2l-2.1 3.57zM894.1 261.52h4.2l-2.1 3.57zM901.3 261.52h4.2l-2.1 3.57zM883.3 267.12h4.2l-2.1 3.57zM890.5 267.12h4.2l-2.1 3.57zM886.9 271.83h4.2l-2.1 3.57zM886.9 279.53h4.2l-2.1 3.57zM876.1 283.92h4.2l-2.1 3.57zM883.3 283.92h4.2l-2.1 3.57zM890.5 283.92h4.2l-2.1 3.57zM897.7 283.92h4.2l-2.1 3.57zM876.1 289.52h4.2l-2.1 3.57zM883.3 289.52h4.2l-2.1 3.57zM890.5 289.52h4.2l-2.1 3.57zM897.7 289.52h4.2l-2.1 3.57zM886.9 295.33h4.2l-2.1 3.57zM879.7 300.72h4.2l-2.1 3.57zM886.9 300.72h4.2l-2.1 3.57zM894.1 300.72h4.2l-2.1 3.57zM886.9 311.4h4.2l-2.1 3.57zM886.9 319.7h4.2l-2.1 3.57zM886.9 326.02h4.2l-2.1 3.57z" fill="#000"/>
<line x1="745.6" y1="318.3" x2="745.6" y2="323.7" stroke="#000" stroke-width="3.2"/>
<line x1="733.6" y1="318.3" x2="757.6" y2="318.3" stroke="#000" stroke-width="3.2"/>
<line x1="817.2" y1="217.3" x2="817.2" y2="222.9" stroke="#000" stroke-width="3.2"/>
<line x1="805.2" y1="217.3" x2="829.2" y2="217.3" stroke="#000" stroke-width="3.2"/>
<line x1="889" y1="227.5" x2="889" y2="233.9" stroke="#000" stroke-width="3.2"/>
<line x1="877" y1="227.5" x2="901" y2="227.5" stroke="#000" stroke-width="3.2"/>
<line x1="698.5" y1="102" x2="698.5" y2="419.7" stroke="#000" stroke-width="4"/>
<line x1="698.5" y1="429.3" x2="698.5" y2="463.6" stroke="#000" stroke-width="4"/>
<line x1="683.5" y1="104" x2="698.5" y2="104" stroke="#000" stroke-width="4"/>
<text x="680.5" y="114.34" font-size="27.5" font-weight="bold" stroke="#000" stroke-width="0.82" text-anchor="end">55</text>
<line x1="683.5" y1="149.1" x2="698.5" y2="149.1" stroke="#000" stroke-width="4"/>
<text x="680.5" y="159.45" font-size="27.5" font-weight="bold" stroke="#000" stroke-width="0.82" text-anchor="end">50</text>
<line x1="683.5" y1="194.2" x2="698.5" y2="194.2" stroke="#000" stroke-width="4"/>
<text x="680.5" y="204.54" font-size="27.5" font-weight="bold" stroke="#000" stroke-width="0.82" text-anchor="end">45</text>
<line x1="683.5" y1="239.3" x2="698.5" y2="239.3" stroke="#000" stroke-width="4"/>
<text x="680.5" y="249.65" font-size="27.5" font-weight="bold" stroke="#000" stroke-width="0.82" text-anchor="end">40</text>
<line x1="683.5" y1="284.4" x2="698.5" y2="284.4" stroke="#000" stroke-width="4"/>
<text x="680.5" y="294.75" font-size="27.5" font-weight="bold" stroke="#000" stroke-width="0.82" text-anchor="end">35</text>
<line x1="683.5" y1="329.5" x2="698.5" y2="329.5" stroke="#000" stroke-width="4"/>
<text x="680.5" y="339.85" font-size="27.5" font-weight="bold" stroke="#000" stroke-width="0.82" text-anchor="end">30</text>
<line x1="683.5" y1="374.6" x2="698.5" y2="374.6" stroke="#000" stroke-width="4"/>
<text x="680.5" y="384.95" font-size="27.5" font-weight="bold" stroke="#000" stroke-width="0.82" text-anchor="end">25</text>
<line x1="683.5" y1="463.6" x2="698.5" y2="463.6" stroke="#000" stroke-width="4"/>
<text x="680.5" y="473.95" font-size="27.5" font-weight="bold" stroke="#000" stroke-width="0.82" text-anchor="end">0</text>
<line x1="689.5" y1="419.7" x2="707.5" y2="419.7" stroke="#000" stroke-width="4"/>
<text x="680.5" y="431.04" font-size="27.5" font-weight="bold" stroke="#000" stroke-width="0.82" text-anchor="end">20</text>
<line x1="689.5" y1="429.3" x2="707.5" y2="429.3" stroke="#000" stroke-width="4"/>
<line x1="683.5" y1="463.6" x2="939" y2="463.6" stroke="#000" stroke-width="4"/>
<line x1="745.6" y1="463.6" x2="745.6" y2="478.6" stroke="#000" stroke-width="4"/>
<text x="745.6" y="506.85" font-size="27.5" font-weight="bold" stroke="#000" stroke-width="0.82" text-anchor="middle">C</text>
<line x1="817.2" y1="463.6" x2="817.2" y2="478.6" stroke="#000" stroke-width="4"/>
<text x="817.2" y="506.85" font-size="27.5" font-weight="bold" stroke="#000" stroke-width="0.82" text-anchor="middle">H</text>
<line x1="889" y1="463.6" x2="889" y2="478.6" stroke="#000" stroke-width="4"/>
<text x="889" y="506.85" font-size="27.5" font-weight="bold" stroke="#000" stroke-width="0.82" text-anchor="middle">Y</text>
<text transform="translate(620.5 285) rotate(-90)" x="0" y="10.7" font-size="29.9" font-weight="bold" stroke="#000" stroke-width="0.9" text-anchor="middle">Body weight_week 12 (g)</text>
<polyline points="745.5,117.3 745.5,98.8 817,98.8 817,117.3" fill="none" stroke="#000" stroke-width="1.5" stroke-linejoin="miter"/>
<polyline points="820.7,117.8 820.7,99.5 892.9,99.5 892.9,117.8" fill="none" stroke="#000" stroke-width="1.5" stroke-linejoin="miter"/>
<text x="784.18" y="91.39" font-size="33.05" font-weight="bold" text-anchor="middle" letter-spacing="3.37" stroke="#000" stroke-width="0.7" style="font-family:'DejaVu Sans',sans-serif">***</text>
<text x="857.5" y="83.46" font-size="32" text-anchor="middle">#</text>
<text transform="translate(605.37 40.5) scale(0.98 1)" font-size="57" stroke="#000" stroke-width="0.7">b</text>
</g>
<g>
<line x1="1034.8" y1="76" x2="1034.8" y2="414.2" stroke="#000" stroke-width="4"/>
<line x1="1023.6" y1="78.2" x2="1036.8" y2="78.2" stroke="#000" stroke-width="4"/>
<text x="1020" y="85.72" font-size="21" font-weight="bold" stroke="#000" stroke-width="0.63" text-anchor="end">18</text>
<line x1="1023.6" y1="111.8" x2="1036.8" y2="111.8" stroke="#000" stroke-width="4"/>
<text x="1020" y="119.32" font-size="21" font-weight="bold" stroke="#000" stroke-width="0.63" text-anchor="end">17</text>
<line x1="1023.6" y1="145.4" x2="1036.8" y2="145.4" stroke="#000" stroke-width="4"/>
<text x="1020" y="152.92" font-size="21" font-weight="bold" stroke="#000" stroke-width="0.63" text-anchor="end">16</text>
<line x1="1023.6" y1="179" x2="1036.8" y2="179" stroke="#000" stroke-width="4"/>
<text x="1020" y="186.52" font-size="21" font-weight="bold" stroke="#000" stroke-width="0.63" text-anchor="end">15</text>
<line x1="1023.6" y1="212.6" x2="1036.8" y2="212.6" stroke="#000" stroke-width="4"/>
<text x="1020" y="220.12" font-size="21" font-weight="bold" stroke="#000" stroke-width="0.63" text-anchor="end">14</text>
<line x1="1023.6" y1="246.2" x2="1036.8" y2="246.2" stroke="#000" stroke-width="4"/>
<text x="1020" y="253.72" font-size="21" font-weight="bold" stroke="#000" stroke-width="0.63" text-anchor="end">13</text>
<line x1="1023.6" y1="279.8" x2="1036.8" y2="279.8" stroke="#000" stroke-width="4"/>
<text x="1020" y="287.32" font-size="21" font-weight="bold" stroke="#000" stroke-width="0.63" text-anchor="end">12</text>
<line x1="1023.6" y1="313.4" x2="1036.8" y2="313.4" stroke="#000" stroke-width="4"/>
<text x="1020" y="320.92" font-size="21" font-weight="bold" stroke="#000" stroke-width="0.63" text-anchor="end">11</text>
<line x1="1023.6" y1="347" x2="1036.8" y2="347" stroke="#000" stroke-width="4"/>
<text x="1020" y="354.52" font-size="21" font-weight="bold" stroke="#000" stroke-width="0.63" text-anchor="end">10</text>
<line x1="1023.6" y1="380.6" x2="1036.8" y2="380.6" stroke="#000" stroke-width="4"/>
<text x="1020" y="388.12" font-size="21" font-weight="bold" stroke="#000" stroke-width="0.63" text-anchor="end">9</text>
<line x1="1027.8" y1="414.2" x2="1041.8" y2="414.2" stroke="#000" stroke-width="4"/>
<text x="1019.6" y="422.22" font-size="21" font-weight="bold" stroke="#000" stroke-width="0.63" text-anchor="end">8</text>
<line x1="1027.8" y1="435" x2="1041.8" y2="435" stroke="#000" stroke-width="4"/>
<text x="1019.6" y="441.92" font-size="21" font-weight="bold" stroke="#000" stroke-width="0.63" text-anchor="end">8</text>
<line x1="1034.8" y1="433" x2="1034.8" y2="458.2" stroke="#000" stroke-width="4"/>
<text x="1019.6" y="465.72" font-size="21" font-weight="bold" stroke="#000" stroke-width="0.63" text-anchor="end">0</text>
<line x1="1021.3" y1="458.2" x2="1073.5" y2="458.2" stroke="#000" stroke-width="4"/>
<line x1="1073.5" y1="452.2" x2="1073.5" y2="464.2" stroke="#000" stroke-width="4"/>
<rect x="1083.6" y="457.2" width="2" height="2" fill="#000" stroke="none" stroke-width="1"/>
<line x1="1093.2" y1="452.2" x2="1093.2" y2="464.2" stroke="#000" stroke-width="4"/>
<line x1="1093.2" y1="458.2" x2="1512" y2="458.2" stroke="#000" stroke-width="4"/>
<line x1="1034.8" y1="458.2" x2="1034.8" y2="471.2" stroke="#000" stroke-width="4"/>
<text x="1034.8" y="493.32" font-size="21" font-weight="bold" stroke="#000" stroke-width="0.63" text-anchor="middle">0</text>
<line x1="1145.3" y1="458.2" x2="1145.3" y2="471.2" stroke="#000" stroke-width="4"/>
<text x="1145.3" y="493.32" font-size="21" font-weight="bold" stroke="#000" stroke-width="0.63" text-anchor="middle">5</text>
<line x1="1197.4" y1="458.2" x2="1197.4" y2="471.2" stroke="#000" stroke-width="4"/>
<text x="1197.4" y="493.32" font-size="21" font-weight="bold" stroke="#000" stroke-width="0.63" text-anchor="middle">6</text>
<line x1="1249.5" y1="458.2" x2="1249.5" y2="471.2" stroke="#000" stroke-width="4"/>
<text x="1249.5" y="493.32" font-size="21" font-weight="bold" stroke="#000" stroke-width="0.63" text-anchor="middle">7</text>
<line x1="1301.6" y1="458.2" x2="1301.6" y2="471.2" stroke="#000" stroke-width="4"/>
<text x="1301.6" y="493.32" font-size="21" font-weight="bold" stroke="#000" stroke-width="0.63" text-anchor="middle">8</text>
<line x1="1353.7" y1="458.2" x2="1353.7" y2="471.2" stroke="#000" stroke-width="4"/>
<text x="1353.7" y="493.32" font-size="21" font-weight="bold" stroke="#000" stroke-width="0.63" text-anchor="middle">9</text>
<line x1="1405.8" y1="458.2" x2="1405.8" y2="471.2" stroke="#000" stroke-width="4"/>
<text x="1405.8" y="493.32" font-size="21" font-weight="bold" stroke="#000" stroke-width="0.63" text-anchor="middle">10</text>
<line x1="1457.9" y1="458.2" x2="1457.9" y2="471.2" stroke="#000" stroke-width="4"/>
<text x="1457.9" y="493.32" font-size="21" font-weight="bold" stroke="#000" stroke-width="0.63" text-anchor="middle">11</text>
<line x1="1510" y1="458.2" x2="1510" y2="471.2" stroke="#000" stroke-width="4"/>
<text x="1510" y="493.32" font-size="21" font-weight="bold" stroke="#000" stroke-width="0.63" text-anchor="middle">12</text>
<text x="1093.2" y="493.32" font-size="21" font-weight="bold" stroke="#000" stroke-width="0.63" text-anchor="middle">4</text>
<text x="1274" y="531.63" font-size="23" font-weight="bold" stroke="#000" stroke-width="0.69" text-anchor="middle">Time (weeks)</text>
<text transform="translate(974.8 268.8) rotate(-90)" x="0" y="8.13" font-size="22.7" font-weight="bold" stroke="#000" stroke-width="0.68" text-anchor="middle">Energy intake (kcal/d)</text>
<line x1="1093.2" y1="220.66" x2="1093.2" y2="247.54" stroke="#000" stroke-width="1.5"/>
<line x1="1086.2" y1="220.66" x2="1100.2" y2="220.66" stroke="#000" stroke-width="1.5"/>
<line x1="1086.2" y1="247.54" x2="1100.2" y2="247.54" stroke="#000" stroke-width="1.5"/>
<line x1="1145.3" y1="230.07" x2="1145.3" y2="238.14" stroke="#000" stroke-width="1.5"/>
<line x1="1138.3" y1="230.07" x2="1152.3" y2="230.07" stroke="#000" stroke-width="1.5"/>
<line x1="1138.3" y1="238.14" x2="1152.3" y2="238.14" stroke="#000" stroke-width="1.5"/>
<line x1="1197.4" y1="258.3" x2="1197.4" y2="266.36" stroke="#000" stroke-width="1.5"/>
<line x1="1190.4" y1="258.3" x2="1204.4" y2="258.3" stroke="#000" stroke-width="1.5"/>
<line x1="1190.4" y1="266.36" x2="1204.4" y2="266.36" stroke="#000" stroke-width="1.5"/>
<line x1="1249.5" y1="235.45" x2="1249.5" y2="243.51" stroke="#000" stroke-width="1.5"/>
<line x1="1242.5" y1="235.45" x2="1256.5" y2="235.45" stroke="#000" stroke-width="1.5"/>
<line x1="1242.5" y1="243.51" x2="1256.5" y2="243.51" stroke="#000" stroke-width="1.5"/>
<line x1="1301.6" y1="254.94" x2="1301.6" y2="263" stroke="#000" stroke-width="1.5"/>
<line x1="1294.6" y1="254.94" x2="1308.6" y2="254.94" stroke="#000" stroke-width="1.5"/>
<line x1="1294.6" y1="263" x2="1308.6" y2="263" stroke="#000" stroke-width="1.5"/>
<line x1="1353.7" y1="277.45" x2="1353.7" y2="285.51" stroke="#000" stroke-width="1.5"/>
<line x1="1346.7" y1="277.45" x2="1360.7" y2="277.45" stroke="#000" stroke-width="1.5"/>
<line x1="1346.7" y1="285.51" x2="1360.7" y2="285.51" stroke="#000" stroke-width="1.5"/>
<line x1="1405.8" y1="241.5" x2="1405.8" y2="249.56" stroke="#000" stroke-width="1.5"/>
<line x1="1398.8" y1="241.5" x2="1412.8" y2="241.5" stroke="#000" stroke-width="1.5"/>
<line x1="1398.8" y1="249.56" x2="1412.8" y2="249.56" stroke="#000" stroke-width="1.5"/>
<line x1="1457.9" y1="256.28" x2="1457.9" y2="269.72" stroke="#000" stroke-width="1.5"/>
<line x1="1450.9" y1="256.28" x2="1464.9" y2="256.28" stroke="#000" stroke-width="1.5"/>
<line x1="1450.9" y1="269.72" x2="1464.9" y2="269.72" stroke="#000" stroke-width="1.5"/>
<line x1="1510" y1="257.29" x2="1510" y2="265.35" stroke="#000" stroke-width="1.5"/>
<line x1="1503" y1="257.29" x2="1517" y2="257.29" stroke="#000" stroke-width="1.5"/>
<line x1="1503" y1="265.35" x2="1517" y2="265.35" stroke="#000" stroke-width="1.5"/>
<polyline points="1093.2,234.1 1145.3,234.1 1197.4,262.33 1249.5,239.48 1301.6,258.97 1353.7,281.48 1405.8,245.53 1457.9,263 1510,261.32" fill="none" stroke="#000" stroke-width="1.5" stroke-linejoin="miter"/>
<polygon points="1093.2,226.56 1100.2,239.56 1086.2,239.56" fill="#86b7f5" stroke="#000" stroke-width="1.5" stroke-linejoin="miter"/>
<polygon points="1145.3,226.56 1152.3,239.56 1138.3,239.56" fill="#86b7f5" stroke="#000" stroke-width="1.5" stroke-linejoin="miter"/>
<polygon points="1197.4,254.79 1204.4,267.79 1190.4,267.79" fill="#86b7f5" stroke="#000" stroke-width="1.5" stroke-linejoin="miter"/>
<polygon points="1249.5,231.94 1256.5,244.94 1242.5,244.94" fill="#86b7f5" stroke="#000" stroke-width="1.5" stroke-linejoin="miter"/>
<polygon points="1301.6,251.43 1308.6,264.43 1294.6,264.43" fill="#86b7f5" stroke="#000" stroke-width="1.5" stroke-linejoin="miter"/>
<polygon points="1353.7,273.94 1360.7,286.94 1346.7,286.94" fill="#86b7f5" stroke="#000" stroke-width="1.5" stroke-linejoin="miter"/>
<polygon points="1405.8,237.99 1412.8,250.99 1398.8,250.99" fill="#86b7f5" stroke="#000" stroke-width="1.5" stroke-linejoin="miter"/>
<polygon points="1457.9,255.46 1464.9,268.46 1450.9,268.46" fill="#86b7f5" stroke="#000" stroke-width="1.5" stroke-linejoin="miter"/>
<polygon points="1510,253.78 1517,266.78 1503,266.78" fill="#86b7f5" stroke="#000" stroke-width="1.5" stroke-linejoin="miter"/>
<line x1="1093.2" y1="199.16" x2="1093.2" y2="212.6" stroke="#000" stroke-width="1.5"/>
<line x1="1086.2" y1="199.16" x2="1100.2" y2="199.16" stroke="#000" stroke-width="1.5"/>
<line x1="1086.2" y1="212.6" x2="1100.2" y2="212.6" stroke="#000" stroke-width="1.5"/>
<line x1="1145.3" y1="209.24" x2="1145.3" y2="222.68" stroke="#000" stroke-width="1.5"/>
<line x1="1138.3" y1="209.24" x2="1152.3" y2="209.24" stroke="#000" stroke-width="1.5"/>
<line x1="1138.3" y1="222.68" x2="1152.3" y2="222.68" stroke="#000" stroke-width="1.5"/>
<line x1="1197.4" y1="236.46" x2="1197.4" y2="251.24" stroke="#000" stroke-width="1.5"/>
<line x1="1190.4" y1="236.46" x2="1204.4" y2="236.46" stroke="#000" stroke-width="1.5"/>
<line x1="1190.4" y1="251.24" x2="1204.4" y2="251.24" stroke="#000" stroke-width="1.5"/>
<line x1="1249.5" y1="219.99" x2="1249.5" y2="232.09" stroke="#000" stroke-width="1.5"/>
<line x1="1242.5" y1="219.99" x2="1256.5" y2="219.99" stroke="#000" stroke-width="1.5"/>
<line x1="1242.5" y1="232.09" x2="1256.5" y2="232.09" stroke="#000" stroke-width="1.5"/>
<line x1="1301.6" y1="242.84" x2="1301.6" y2="250.9" stroke="#000" stroke-width="1.5"/>
<line x1="1294.6" y1="242.84" x2="1308.6" y2="242.84" stroke="#000" stroke-width="1.5"/>
<line x1="1294.6" y1="250.9" x2="1308.6" y2="250.9" stroke="#000" stroke-width="1.5"/>
<line x1="1353.7" y1="264.68" x2="1353.7" y2="272.74" stroke="#000" stroke-width="1.5"/>
<line x1="1346.7" y1="264.68" x2="1360.7" y2="264.68" stroke="#000" stroke-width="1.5"/>
<line x1="1346.7" y1="272.74" x2="1360.7" y2="272.74" stroke="#000" stroke-width="1.5"/>
<line x1="1405.8" y1="228.06" x2="1405.8" y2="236.12" stroke="#000" stroke-width="1.5"/>
<line x1="1398.8" y1="228.06" x2="1412.8" y2="228.06" stroke="#000" stroke-width="1.5"/>
<line x1="1398.8" y1="236.12" x2="1412.8" y2="236.12" stroke="#000" stroke-width="1.5"/>
<line x1="1457.9" y1="246.2" x2="1457.9" y2="259.64" stroke="#000" stroke-width="1.5"/>
<line x1="1450.9" y1="246.2" x2="1464.9" y2="246.2" stroke="#000" stroke-width="1.5"/>
<line x1="1450.9" y1="259.64" x2="1464.9" y2="259.64" stroke="#000" stroke-width="1.5"/>
<line x1="1510" y1="241.16" x2="1510" y2="249.22" stroke="#000" stroke-width="1.5"/>
<line x1="1503" y1="241.16" x2="1517" y2="241.16" stroke="#000" stroke-width="1.5"/>
<line x1="1503" y1="249.22" x2="1517" y2="249.22" stroke="#000" stroke-width="1.5"/>
<polyline points="1093.2,205.88 1145.3,215.96 1197.4,243.85 1249.5,226.04 1301.6,246.87 1353.7,268.71 1405.8,232.09 1457.9,252.92 1510,245.19" fill="none" stroke="#000" stroke-width="1.5" stroke-linejoin="miter"/>
<rect x="1086.7" y="199.38" width="13" height="13" fill="#fca0a0" stroke="#000" stroke-width="1.5"/>
<rect x="1138.8" y="209.46" width="13" height="13" fill="#fca0a0" stroke="#000" stroke-width="1.5"/>
<rect x="1190.9" y="237.35" width="13" height="13" fill="#fca0a0" stroke="#000" stroke-width="1.5"/>
<rect x="1243" y="219.54" width="13" height="13" fill="#fca0a0" stroke="#000" stroke-width="1.5"/>
<rect x="1295.1" y="240.37" width="13" height="13" fill="#fca0a0" stroke="#000" stroke-width="1.5"/>
<rect x="1347.2" y="262.21" width="13" height="13" fill="#fca0a0" stroke="#000" stroke-width="1.5"/>
<rect x="1399.3" y="225.59" width="13" height="13" fill="#fca0a0" stroke="#000" stroke-width="1.5"/>
<rect x="1451.4" y="246.42" width="13" height="13" fill="#fca0a0" stroke="#000" stroke-width="1.5"/>
<rect x="1503.5" y="238.69" width="13" height="13" fill="#fca0a0" stroke="#000" stroke-width="1.5"/>
<line x1="1093.2" y1="210.25" x2="1093.2" y2="247.21" stroke="#000" stroke-width="1.5"/>
<line x1="1086.2" y1="210.25" x2="1100.2" y2="210.25" stroke="#000" stroke-width="1.5"/>
<line x1="1086.2" y1="247.21" x2="1100.2" y2="247.21" stroke="#000" stroke-width="1.5"/>
<line x1="1145.3" y1="185.38" x2="1145.3" y2="223.02" stroke="#000" stroke-width="1.5"/>
<line x1="1138.3" y1="185.38" x2="1152.3" y2="185.38" stroke="#000" stroke-width="1.5"/>
<line x1="1138.3" y1="223.02" x2="1152.3" y2="223.02" stroke="#000" stroke-width="1.5"/>
<line x1="1197.4" y1="194.46" x2="1197.4" y2="234.78" stroke="#000" stroke-width="1.5"/>
<line x1="1190.4" y1="194.46" x2="1204.4" y2="194.46" stroke="#000" stroke-width="1.5"/>
<line x1="1190.4" y1="234.78" x2="1204.4" y2="234.78" stroke="#000" stroke-width="1.5"/>
<line x1="1249.5" y1="189.42" x2="1249.5" y2="226.38" stroke="#000" stroke-width="1.5"/>
<line x1="1242.5" y1="189.42" x2="1256.5" y2="189.42" stroke="#000" stroke-width="1.5"/>
<line x1="1242.5" y1="226.38" x2="1256.5" y2="226.38" stroke="#000" stroke-width="1.5"/>
<line x1="1301.6" y1="184.04" x2="1301.6" y2="218.98" stroke="#000" stroke-width="1.5"/>
<line x1="1294.6" y1="184.04" x2="1308.6" y2="184.04" stroke="#000" stroke-width="1.5"/>
<line x1="1294.6" y1="218.98" x2="1308.6" y2="218.98" stroke="#000" stroke-width="1.5"/>
<line x1="1353.7" y1="185.72" x2="1353.7" y2="223.35" stroke="#000" stroke-width="1.5"/>
<line x1="1346.7" y1="185.72" x2="1360.7" y2="185.72" stroke="#000" stroke-width="1.5"/>
<line x1="1346.7" y1="223.35" x2="1360.7" y2="223.35" stroke="#000" stroke-width="1.5"/>
<line x1="1405.8" y1="169.59" x2="1405.8" y2="203.19" stroke="#000" stroke-width="1.5"/>
<line x1="1398.8" y1="169.59" x2="1412.8" y2="169.59" stroke="#000" stroke-width="1.5"/>
<line x1="1398.8" y1="203.19" x2="1412.8" y2="203.19" stroke="#000" stroke-width="1.5"/>
<line x1="1457.9" y1="106.42" x2="1457.9" y2="177.66" stroke="#000" stroke-width="1.5"/>
<line x1="1450.9" y1="106.42" x2="1464.9" y2="106.42" stroke="#000" stroke-width="1.5"/>
<line x1="1450.9" y1="177.66" x2="1464.9" y2="177.66" stroke="#000" stroke-width="1.5"/>
<line x1="1510" y1="105.75" x2="1510" y2="168.25" stroke="#000" stroke-width="1.5"/>
<line x1="1503" y1="105.75" x2="1517" y2="105.75" stroke="#000" stroke-width="1.5"/>
<line x1="1503" y1="168.25" x2="1517" y2="168.25" stroke="#000" stroke-width="1.5"/>
<polyline points="1093.2,228.73 1145.3,204.2 1197.4,214.62 1249.5,207.9 1301.6,201.51 1353.7,204.54 1405.8,186.39 1457.9,142.04 1510,137" fill="none" stroke="#000" stroke-width="1.5" stroke-linejoin="miter"/>
<circle cx="1093.2" cy="228.73" r="6.75" fill="#fff" stroke="#000" stroke-width="1.5"/>
<circle cx="1145.3" cy="204.2" r="6.75" fill="#fff" stroke="#000" stroke-width="1.5"/>
<circle cx="1197.4" cy="214.62" r="6.75" fill="#fff" stroke="#000" stroke-width="1.5"/>
<circle cx="1249.5" cy="207.9" r="6.75" fill="#fff" stroke="#000" stroke-width="1.5"/>
<circle cx="1301.6" cy="201.51" r="6.75" fill="#fff" stroke="#000" stroke-width="1.5"/>
<circle cx="1353.7" cy="204.54" r="6.75" fill="#fff" stroke="#000" stroke-width="1.5"/>
<circle cx="1405.8" cy="186.39" r="6.75" fill="#fff" stroke="#000" stroke-width="1.5"/>
<circle cx="1457.9" cy="142.04" r="6.75" fill="#fff" stroke="#000" stroke-width="1.5"/>
<circle cx="1510" cy="137" r="6.75" fill="#fff" stroke="#000" stroke-width="1.5"/>
<line x1="1055" y1="94.8" x2="1084" y2="94.8" stroke="#000" stroke-width="1.5"/>
<circle cx="1069.5" cy="94.8" r="6.75" fill="#fff" stroke="#000" stroke-width="1.5"/>
<text x="1101" y="102.14" font-size="20.5">C1</text>
<line x1="1055" y1="127" x2="1084" y2="127" stroke="#000" stroke-width="1.5"/>
<rect x="1063" y="120.5" width="13" height="13" fill="#fca0a0" stroke="#000" stroke-width="1.5"/>
<text x="1101" y="134.34" font-size="20.5">H1</text>
<line x1="1055" y1="160.5" x2="1084" y2="160.5" stroke="#000" stroke-width="1.5"/>
<polygon points="1069.5,152.96 1076.5,165.96 1062.5,165.96" fill="#86b7f5" stroke="#000" stroke-width="1.5" stroke-linejoin="miter"/>
<text x="1101" y="167.84" font-size="20.5">Y1</text>
<text x="1304.78" y="243.51" font-size="19.01" font-weight="bold" text-anchor="middle" letter-spacing="3.76" stroke="#000" stroke-width="0.35" style="font-family:'DejaVu Sans',sans-serif">**</text>
<text x="1355.38" y="260.81" font-size="19.01" font-weight="bold" text-anchor="middle" letter-spacing="3.76" stroke="#000" stroke-width="0.35" style="font-family:'DejaVu Sans',sans-serif">***</text>
<text x="1459.88" y="246.71" font-size="19.01" font-weight="bold" text-anchor="middle" letter-spacing="3.76" stroke="#000" stroke-width="0.35" style="font-family:'DejaVu Sans',sans-serif">*</text>
<text x="1511.88" y="239.11" font-size="19.01" font-weight="bold" text-anchor="middle" letter-spacing="3.76" stroke="#000" stroke-width="0.35" style="font-family:'DejaVu Sans',sans-serif">**</text>
<polyline points="1525.8,227.3 1538.5,227.3 1538.5,279.6 1525.8,279.6" fill="none" stroke="#000" stroke-width="2.6" stroke-linejoin="miter"/>
<text x="1559.3" y="261.75" font-size="22.5" text-anchor="middle">##</text>
<text transform="translate(960.4 39.6) scale(0.88 1)" font-size="57" stroke="#000" stroke-width="0.7">c</text>
</g>
<g>
<rect x="1705.2" y="325.5" width="45.8" height="129.5" fill="#dedede" stroke="#000" stroke-width="1.7"/>
<rect x="1775.6" y="338.6" width="46" height="116.4" fill="#fe4040" stroke="#000" stroke-width="1.7"/>
<rect x="1846.3" y="346.6" width="45.7" height="108.4" fill="#8c8cfc" stroke="#000" stroke-width="1.7"/>
<rect x="1666" y="412.8" width="252.5" height="7.8" fill="#fff" stroke="none" stroke-width="1"/>
<path d="M1726.3 113.24a1.9 1.9 0 1 0 3.8 0a1.9 1.9 0 1 0 -3.8 0M1726.3 178.49a1.9 1.9 0 1 0 3.8 0a1.9 1.9 0 1 0 -3.8 0M1726.3 199.09a1.9 1.9 0 1 0 3.8 0a1.9 1.9 0 1 0 -3.8 0M1726.3 210.25a1.9 1.9 0 1 0 3.8 0a1.9 1.9 0 1 0 -3.8 0M1726.3 215.4a1.9 1.9 0 1 0 3.8 0a1.9 1.9 0 1 0 -3.8 0M1726.3 243.73a1.9 1.9 0 1 0 3.8 0a1.9 1.9 0 1 0 -3.8 0M1726.3 253.18a1.9 1.9 0 1 0 3.8 0a1.9 1.9 0 1 0 -3.8 0M1726.3 262.62a1.9 1.9 0 1 0 3.8 0a1.9 1.9 0 1 0 -3.8 0M1722.88 266.5a1.9 1.9 0 1 0 3.8 0a1.9 1.9 0 1 0 -3.8 0M1729.72 266.5a1.9 1.9 0 1 0 3.8 0a1.9 1.9 0 1 0 -3.8 0M1712.6 286a1.9 1.9 0 1 0 3.8 0a1.9 1.9 0 1 0 -3.8 0M1719.45 286a1.9 1.9 0 1 0 3.8 0a1.9 1.9 0 1 0 -3.8 0M1726.3 286a1.9 1.9 0 1 0 3.8 0a1.9 1.9 0 1 0 -3.8 0M1733.15 286a1.9 1.9 0 1 0 3.8 0a1.9 1.9 0 1 0 -3.8 0M1740 286a1.9 1.9 0 1 0 3.8 0a1.9 1.9 0 1 0 -3.8 0M1722.88 292.5a1.9 1.9 0 1 0 3.8 0a1.9 1.9 0 1 0 -3.8 0M1729.72 292.5a1.9 1.9 0 1 0 3.8 0a1.9 1.9 0 1 0 -3.8 0M1722.88 305.5a1.9 1.9 0 1 0 3.8 0a1.9 1.9 0 1 0 -3.8 0M1729.72 305.5a1.9 1.9 0 1 0 3.8 0a1.9 1.9 0 1 0 -3.8 0M1716.02 312a1.9 1.9 0 1 0 3.8 0a1.9 1.9 0 1 0 -3.8 0M1722.88 312a1.9 1.9 0 1 0 3.8 0a1.9 1.9 0 1 0 -3.8 0M1729.72 312a1.9 1.9 0 1 0 3.8 0a1.9 1.9 0 1 0 -3.8 0M1736.58 312a1.9 1.9 0 1 0 3.8 0a1.9 1.9 0 1 0 -3.8 0M1712.6 318.5a1.9 1.9 0 1 0 3.8 0a1.9 1.9 0 1 0 -3.8 0M1719.45 318.5a1.9 1.9 0 1 0 3.8 0a1.9 1.9 0 1 0 -3.8 0M1726.3 318.5a1.9 1.9 0 1 0 3.8 0a1.9 1.9 0 1 0 -3.8 0M1733.15 318.5a1.9 1.9 0 1 0 3.8 0a1.9 1.9 0 1 0 -3.8 0M1740 318.5a1.9 1.9 0 1 0 3.8 0a1.9 1.9 0 1 0 -3.8 0M1712.6 325a1.9 1.9 0 1 0 3.8 0a1.9 1.9 0 1 0 -3.8 0M1719.45 325a1.9 1.9 0 1 0 3.8 0a1.9 1.9 0 1 0 -3.8 0M1726.3 325a1.9 1.9 0 1 0 3.8 0a1.9 1.9 0 1 0 -3.8 0M1733.15 325a1.9 1.9 0 1 0 3.8 0a1.9 1.9 0 1 0 -3.8 0M1740 325a1.9 1.9 0 1 0 3.8 0a1.9 1.9 0 1 0 -3.8 0M1709.17 331.5a1.9 1.9 0 1 0 3.8 0a1.9 1.9 0 1 0 -3.8 0M1716.02 331.5a1.9 1.9 0 1 0 3.8 0a1.9 1.9 0 1 0 -3.8 0M1722.88 331.5a1.9 1.9 0 1 0 3.8 0a1.9 1.9 0 1 0 -3.8 0M1729.72 331.5a1.9 1.9 0 1 0 3.8 0a1.9 1.9 0 1 0 -3.8 0M1736.58 331.5a1.9 1.9 0 1 0 3.8 0a1.9 1.9 0 1 0 -3.8 0M1743.42 331.5a1.9 1.9 0 1 0 3.8 0a1.9 1.9 0 1 0 -3.8 0M1722.88 338a1.9 1.9 0 1 0 3.8 0a1.9 1.9 0 1 0 -3.8 0M1729.72 338a1.9 1.9 0 1 0 3.8 0a1.9 1.9 0 1 0 -3.8 0M1712.6 344.5a1.9 1.9 0 1 0 3.8 0a1.9 1.9 0 1 0 -3.8 0M1719.45 344.5a1.9 1.9 0 1 0 3.8 0a1.9 1.9 0 1 0 -3.8 0M1726.3 344.5a1.9 1.9 0 1 0 3.8 0a1.9 1.9 0 1 0 -3.8 0M1733.15 344.5a1.9 1.9 0 1 0 3.8 0a1.9 1.9 0 1 0 -3.8 0M1740 344.5a1.9 1.9 0 1 0 3.8 0a1.9 1.9 0 1 0 -3.8 0M1712.6 351a1.9 1.9 0 1 0 3.8 0a1.9 1.9 0 1 0 -3.8 0M1719.45 351a1.9 1.9 0 1 0 3.8 0a1.9 1.9 0 1 0 -3.8 0M1726.3 351a1.9 1.9 0 1 0 3.8 0a1.9 1.9 0 1 0 -3.8 0M1733.15 351a1.9 1.9 0 1 0 3.8 0a1.9 1.9 0 1 0 -3.8 0M1740 351a1.9 1.9 0 1 0 3.8 0a1.9 1.9 0 1 0 -3.8 0M1712.6 357.5a1.9 1.9 0 1 0 3.8 0a1.9 1.9 0 1 0 -3.8 0M1719.45 357.5a1.9 1.9 0 1 0 3.8 0a1.9 1.9 0 1 0 -3.8 0M1726.3 357.5a1.9 1.9 0 1 0 3.8 0a1.9 1.9 0 1 0 -3.8 0M1733.15 357.5a1.9 1.9 0 1 0 3.8 0a1.9 1.9 0 1 0 -3.8 0M1740 357.5a1.9 1.9 0 1 0 3.8 0a1.9 1.9 0 1 0 -3.8 0M1709.17 364a1.9 1.9 0 1 0 3.8 0a1.9 1.9 0 1 0 -3.8 0M1716.02 364a1.9 1.9 0 1 0 3.8 0a1.9 1.9 0 1 0 -3.8 0M1722.88 364a1.9 1.9 0 1 0 3.8 0a1.9 1.9 0 1 0 -3.8 0M1729.72 364a1.9 1.9 0 1 0 3.8 0a1.9 1.9 0 1 0 -3.8 0M1736.58 364a1.9 1.9 0 1 0 3.8 0a1.9 1.9 0 1 0 -3.8 0M1743.42 364a1.9 1.9 0 1 0 3.8 0a1.9 1.9 0 1 0 -3.8 0M1726.3 367.25a1.9 1.9 0 1 0 3.8 0a1.9 1.9 0 1 0 -3.8 0M1726.3 371.76a1.9 1.9 0 1 0 3.8 0a1.9 1.9 0 1 0 -3.8 0M1712.6 377a1.9 1.9 0 1 0 3.8 0a1.9 1.9 0 1 0 -3.8 0M1719.45 377a1.9 1.9 0 1 0 3.8 0a1.9 1.9 0 1 0 -3.8 0M1726.3 377a1.9 1.9 0 1 0 3.8 0a1.9 1.9 0 1 0 -3.8 0M1733.15 377a1.9 1.9 0 1 0 3.8 0a1.9 1.9 0 1 0 -3.8 0M1740 377a1.9 1.9 0 1 0 3.8 0a1.9 1.9 0 1 0 -3.8 0M1726.3 391.17a1.9 1.9 0 1 0 3.8 0a1.9 1.9 0 1 0 -3.8 0M1722.88 396.5a1.9 1.9 0 1 0 3.8 0a1.9 1.9 0 1 0 -3.8 0M1729.72 396.5a1.9 1.9 0 1 0 3.8 0a1.9 1.9 0 1 0 -3.8 0" fill="#3a3a3a"/>
<path d="M1798.6 277.79l2 2l-2 2l-2 -2zM1798.6 295.25l2 2l-2 2l-2 -2zM1798.6 299.72l2 2l-2 2l-2 -2zM1798.6 303.68l2 2l-2 2l-2 -2zM1788.8 308l2 2l-2 2l-2 -2zM1793.7 308l2 2l-2 2l-2 -2zM1798.6 308l2 2l-2 2l-2 -2zM1803.5 308l2 2l-2 2l-2 -2zM1808.4 308l2 2l-2 2l-2 -2zM1793.7 313l2 2l-2 2l-2 -2zM1798.6 313l2 2l-2 2l-2 -2zM1803.5 313l2 2l-2 2l-2 -2zM1791.25 318l2 2l-2 2l-2 -2zM1796.15 318l2 2l-2 2l-2 -2zM1801.05 318l2 2l-2 2l-2 -2zM1805.95 318l2 2l-2 2l-2 -2zM1783.9 323l2 2l-2 2l-2 -2zM1788.8 323l2 2l-2 2l-2 -2zM1793.7 323l2 2l-2 2l-2 -2zM1798.6 323l2 2l-2 2l-2 -2zM1803.5 323l2 2l-2 2l-2 -2zM1808.4 323l2 2l-2 2l-2 -2zM1813.3 323l2 2l-2 2l-2 -2zM1779 328l2 2l-2 2l-2 -2zM1783.9 328l2 2l-2 2l-2 -2zM1788.8 328l2 2l-2 2l-2 -2zM1793.7 328l2 2l-2 2l-2 -2zM1798.6 328l2 2l-2 2l-2 -2zM1803.5 328l2 2l-2 2l-2 -2zM1808.4 328l2 2l-2 2l-2 -2zM1813.3 328l2 2l-2 2l-2 -2zM1818.2 328l2 2l-2 2l-2 -2zM1798.6 330.5l2 2l-2 2l-2 -2zM1793.7 333l2 2l-2 2l-2 -2zM1798.6 333l2 2l-2 2l-2 -2zM1803.5 333l2 2l-2 2l-2 -2zM1783.9 338l2 2l-2 2l-2 -2zM1788.8 338l2 2l-2 2l-2 -2zM1793.7 338l2 2l-2 2l-2 -2zM1798.6 338l2 2l-2 2l-2 -2zM1803.5 338l2 2l-2 2l-2 -2zM1808.4 338l2 2l-2 2l-2 -2zM1813.3 338l2 2l-2 2l-2 -2zM1779 343l2 2l-2 2l-2 -2zM1783.9 343l2 2l-2 2l-2 -2zM1788.8 343l2 2l-2 2l-2 -2zM1793.7 343l2 2l-2 2l-2 -2zM1798.6 343l2 2l-2 2l-2 -2zM1803.5 343l2 2l-2 2l-2 -2zM1808.4 343l2 2l-2 2l-2 -2zM1813.3 343l2 2l-2 2l-2 -2zM1818.2 343l2 2l-2 2l-2 -2zM1783.9 348l2 2l-2 2l-2 -2zM1788.8 348l2 2l-2 2l-2 -2zM1793.7 348l2 2l-2 2l-2 -2zM1798.6 348l2 2l-2 2l-2 -2zM1803.5 348l2 2l-2 2l-2 -2zM1808.4 348l2 2l-2 2l-2 -2zM1813.3 348l2 2l-2 2l-2 -2zM1781.45 353l2 2l-2 2l-2 -2zM1786.35 353l2 2l-2 2l-2 -2zM1791.25 353l2 2l-2 2l-2 -2zM1796.15 353l2 2l-2 2l-2 -2zM1801.05 353l2 2l-2 2l-2 -2zM1805.95 353l2 2l-2 2l-2 -2zM1810.85 353l2 2l-2 2l-2 -2zM1815.75 353l2 2l-2 2l-2 -2zM1786.35 358l2 2l-2 2l-2 -2zM1791.25 358l2 2l-2 2l-2 -2zM1796.15 358l2 2l-2 2l-2 -2zM1801.05 358l2 2l-2 2l-2 -2zM1805.95 358l2 2l-2 2l-2 -2zM1810.85 358l2 2l-2 2l-2 -2zM1786.35 363l2 2l-2 2l-2 -2zM1791.25 363l2 2l-2 2l-2 -2zM1796.15 363l2 2l-2 2l-2 -2zM1801.05 363l2 2l-2 2l-2 -2zM1805.95 363l2 2l-2 2l-2 -2zM1810.85 363l2 2l-2 2l-2 -2zM1791.25 368l2 2l-2 2l-2 -2zM1796.15 368l2 2l-2 2l-2 -2zM1801.05 368l2 2l-2 2l-2 -2zM1805.95 368l2 2l-2 2l-2 -2zM1791.25 373l2 2l-2 2l-2 -2zM1796.15 373l2 2l-2 2l-2 -2zM1801.05 373l2 2l-2 2l-2 -2zM1805.95 373l2 2l-2 2l-2 -2zM1798.6 381.99l2 2l-2 2l-2 -2zM1798.6 386l2 2l-2 2l-2 -2z" fill="#000"/>
<path d="M1867.1 284.98h4.2l-2.1 3.57zM1867.1 304.83h4.2l-2.1 3.57zM1850.3 313.32h4.2l-2.1 3.57zM1855.9 313.32h4.2l-2.1 3.57zM1861.5 313.32h4.2l-2.1 3.57zM1867.1 313.32h4.2l-2.1 3.57zM1872.7 313.32h4.2l-2.1 3.57zM1878.3 313.32h4.2l-2.1 3.57zM1883.9 313.32h4.2l-2.1 3.57zM1853.1 318.32h4.2l-2.1 3.57zM1858.7 318.32h4.2l-2.1 3.57zM1864.3 318.32h4.2l-2.1 3.57zM1869.9 318.32h4.2l-2.1 3.57zM1875.5 318.32h4.2l-2.1 3.57zM1881.1 318.32h4.2l-2.1 3.57zM1855.9 323.32h4.2l-2.1 3.57zM1861.5 323.32h4.2l-2.1 3.57zM1867.1 323.32h4.2l-2.1 3.57zM1872.7 323.32h4.2l-2.1 3.57zM1878.3 323.32h4.2l-2.1 3.57zM1864.3 328.32h4.2l-2.1 3.57zM1869.9 328.32h4.2l-2.1 3.57zM1861.5 333.32h4.2l-2.1 3.57zM1867.1 333.32h4.2l-2.1 3.57zM1872.7 333.32h4.2l-2.1 3.57zM1855.9 338.32h4.2l-2.1 3.57zM1861.5 338.32h4.2l-2.1 3.57zM1867.1 338.32h4.2l-2.1 3.57zM1872.7 338.32h4.2l-2.1 3.57zM1878.3 338.32h4.2l-2.1 3.57zM1847.5 343.32h4.2l-2.1 3.57zM1853.1 343.32h4.2l-2.1 3.57zM1858.7 343.32h4.2l-2.1 3.57zM1864.3 343.32h4.2l-2.1 3.57zM1869.9 343.32h4.2l-2.1 3.57zM1875.5 343.32h4.2l-2.1 3.57zM1881.1 343.32h4.2l-2.1 3.57zM1886.7 343.32h4.2l-2.1 3.57zM1864.3 345.82h4.2l-2.1 3.57zM1869.9 345.82h4.2l-2.1 3.57zM1847.5 348.32h4.2l-2.1 3.57zM1853.1 348.32h4.2l-2.1 3.57zM1858.7 348.32h4.2l-2.1 3.57zM1864.3 348.32h4.2l-2.1 3.57zM1869.9 348.32h4.2l-2.1 3.57zM1875.5 348.32h4.2l-2.1 3.57zM1881.1 348.32h4.2l-2.1 3.57zM1886.7 348.32h4.2l-2.1 3.57zM1847.5 353.32h4.2l-2.1 3.57zM1853.1 353.32h4.2l-2.1 3.57zM1858.7 353.32h4.2l-2.1 3.57zM1864.3 353.32h4.2l-2.1 3.57zM1869.9 353.32h4.2l-2.1 3.57zM1875.5 353.32h4.2l-2.1 3.57zM1881.1 353.32h4.2l-2.1 3.57zM1886.7 353.32h4.2l-2.1 3.57zM1847.5 358.32h4.2l-2.1 3.57zM1853.1 358.32h4.2l-2.1 3.57zM1858.7 358.32h4.2l-2.1 3.57zM1864.3 358.32h4.2l-2.1 3.57zM1869.9 358.32h4.2l-2.1 3.57zM1875.5 358.32h4.2l-2.1 3.57zM1881.1 358.32h4.2l-2.1 3.57zM1886.7 358.32h4.2l-2.1 3.57zM1864.3 360.82h4.2l-2.1 3.57zM1869.9 360.82h4.2l-2.1 3.57zM1853.1 363.32h4.2l-2.1 3.57zM1858.7 363.32h4.2l-2.1 3.57zM1864.3 363.32h4.2l-2.1 3.57zM1869.9 363.32h4.2l-2.1 3.57zM1875.5 363.32h4.2l-2.1 3.57zM1881.1 363.32h4.2l-2.1 3.57zM1850.3 368.32h4.2l-2.1 3.57zM1855.9 368.32h4.2l-2.1 3.57zM1861.5 368.32h4.2l-2.1 3.57zM1867.1 368.32h4.2l-2.1 3.57zM1872.7 368.32h4.2l-2.1 3.57zM1878.3 368.32h4.2l-2.1 3.57zM1883.9 368.32h4.2l-2.1 3.57zM1858.7 373.32h4.2l-2.1 3.57zM1864.3 373.32h4.2l-2.1 3.57zM1869.9 373.32h4.2l-2.1 3.57zM1875.5 373.32h4.2l-2.1 3.57zM1864.3 378.32h4.2l-2.1 3.57zM1869.9 378.32h4.2l-2.1 3.57zM1867.1 381.81h4.2l-2.1 3.57zM1867.1 387.96h4.2l-2.1 3.57zM1864.3 403.32h4.2l-2.1 3.57zM1869.9 403.32h4.2l-2.1 3.57z" fill="#000"/>
<line x1="1728.2" y1="317.5" x2="1728.2" y2="326.5" stroke="#000" stroke-width="3.2"/>
<line x1="1716.2" y1="317.5" x2="1740.2" y2="317.5" stroke="#000" stroke-width="3.2"/>
<line x1="1798.6" y1="334.5" x2="1798.6" y2="339.6" stroke="#000" stroke-width="3.2"/>
<line x1="1786.6" y1="334.5" x2="1810.6" y2="334.5" stroke="#000" stroke-width="3.2"/>
<line x1="1869.2" y1="343" x2="1869.2" y2="347.6" stroke="#000" stroke-width="3.2"/>
<line x1="1857.2" y1="343" x2="1881.2" y2="343" stroke="#000" stroke-width="3.2"/>
<line x1="1681.6" y1="101.3" x2="1681.6" y2="412" stroke="#000" stroke-width="4"/>
<line x1="1681.6" y1="421.4" x2="1681.6" y2="455" stroke="#000" stroke-width="4"/>
<line x1="1666.6" y1="102.94" x2="1681.6" y2="102.94" stroke="#000" stroke-width="4"/>
<text x="1663.6" y="113.28" font-size="27.5" font-weight="bold" stroke="#000" stroke-width="0.82" text-anchor="end">26</text>
<line x1="1666.6" y1="154.45" x2="1681.6" y2="154.45" stroke="#000" stroke-width="4"/>
<text x="1663.6" y="164.79" font-size="27.5" font-weight="bold" stroke="#000" stroke-width="0.82" text-anchor="end">23</text>
<line x1="1666.6" y1="205.96" x2="1681.6" y2="205.96" stroke="#000" stroke-width="4"/>
<text x="1663.6" y="216.3" font-size="27.5" font-weight="bold" stroke="#000" stroke-width="0.82" text-anchor="end">20</text>
<line x1="1666.6" y1="257.47" x2="1681.6" y2="257.47" stroke="#000" stroke-width="4"/>
<text x="1663.6" y="267.81" font-size="27.5" font-weight="bold" stroke="#000" stroke-width="0.82" text-anchor="end">17</text>
<line x1="1666.6" y1="308.98" x2="1681.6" y2="308.98" stroke="#000" stroke-width="4"/>
<text x="1663.6" y="319.33" font-size="27.5" font-weight="bold" stroke="#000" stroke-width="0.82" text-anchor="end">14</text>
<line x1="1666.6" y1="360.49" x2="1681.6" y2="360.49" stroke="#000" stroke-width="4"/>
<text x="1663.6" y="370.84" font-size="27.5" font-weight="bold" stroke="#000" stroke-width="0.82" text-anchor="end">11</text>
<line x1="1666.6" y1="455" x2="1681.6" y2="455" stroke="#000" stroke-width="4"/>
<text x="1663.6" y="465.35" font-size="27.5" font-weight="bold" stroke="#000" stroke-width="0.82" text-anchor="end">0</text>
<line x1="1672.6" y1="412" x2="1690.6" y2="412" stroke="#000" stroke-width="4"/>
<text x="1663.6" y="423.35" font-size="27.5" font-weight="bold" stroke="#000" stroke-width="0.82" text-anchor="end">8</text>
<line x1="1672.6" y1="421.4" x2="1690.6" y2="421.4" stroke="#000" stroke-width="4"/>
<line x1="1666" y1="455" x2="1918.5" y2="455" stroke="#000" stroke-width="4"/>
<line x1="1728.2" y1="455" x2="1728.2" y2="470" stroke="#000" stroke-width="4"/>
<text x="1728.2" y="498.35" font-size="27.5" font-weight="bold" stroke="#000" stroke-width="0.82" text-anchor="middle">C</text>
<line x1="1798.6" y1="455" x2="1798.6" y2="470" stroke="#000" stroke-width="4"/>
<text x="1798.6" y="498.35" font-size="27.5" font-weight="bold" stroke="#000" stroke-width="0.82" text-anchor="middle">H</text>
<line x1="1869.2" y1="455" x2="1869.2" y2="470" stroke="#000" stroke-width="4"/>
<text x="1869.2" y="498.35" font-size="27.5" font-weight="bold" stroke="#000" stroke-width="0.82" text-anchor="middle">Y</text>
<text transform="translate(1604.5 279.5) rotate(-90)" x="0" y="10.7" font-size="29.9" font-weight="bold" stroke="#000" stroke-width="0.9" text-anchor="middle">Energy intake (kcal/d)</text>
<polyline points="1726.3,106 1726.3,88.2 1796.7,88.2 1796.7,106" fill="none" stroke="#000" stroke-width="1.5" stroke-linejoin="miter"/>
<polyline points="1802.2,106 1802.2,88.2 1872.3,88.2 1872.3,106" fill="none" stroke="#000" stroke-width="1.5" stroke-linejoin="miter"/>
<text x="1763.68" y="82.39" font-size="33.05" font-weight="bold" text-anchor="middle" letter-spacing="3.37" stroke="#000" stroke-width="0.7" style="font-family:'DejaVu Sans',sans-serif">**</text>
<text x="1837.5" y="73.46" font-size="32" text-anchor="middle">##</text>
<text transform="translate(1583.71 40.8) scale(1 1)" font-size="57" stroke="#000" stroke-width="0.7">d</text>
</g>
<g>
<rect x="488.4" y="881.4" width="47.1" height="135" fill="#dedede" stroke="#000" stroke-width="1.7"/>
<rect x="561.3" y="811.7" width="47.3" height="204.7" fill="#fe4040" stroke="#000" stroke-width="1.7"/>
<rect x="634" y="828.1" width="47.5" height="188.3" fill="#8c8cfc" stroke="#000" stroke-width="1.7"/>
<rect x="447" y="985.3" width="261.8" height="7.9" fill="#fff" stroke="none" stroke-width="1"/>
<path d="M510 782.12a1.9 1.9 0 1 0 3.8 0a1.9 1.9 0 1 0 -3.8 0M510 798.78a1.9 1.9 0 1 0 3.8 0a1.9 1.9 0 1 0 -3.8 0M502.6 818.4a1.9 1.9 0 1 0 3.8 0a1.9 1.9 0 1 0 -3.8 0M510 818.4a1.9 1.9 0 1 0 3.8 0a1.9 1.9 0 1 0 -3.8 0M517.4 818.4a1.9 1.9 0 1 0 3.8 0a1.9 1.9 0 1 0 -3.8 0M510 829.74a1.9 1.9 0 1 0 3.8 0a1.9 1.9 0 1 0 -3.8 0M510 836.88a1.9 1.9 0 1 0 3.8 0a1.9 1.9 0 1 0 -3.8 0M502.6 843.2a1.9 1.9 0 1 0 3.8 0a1.9 1.9 0 1 0 -3.8 0M510 843.2a1.9 1.9 0 1 0 3.8 0a1.9 1.9 0 1 0 -3.8 0M517.4 843.2a1.9 1.9 0 1 0 3.8 0a1.9 1.9 0 1 0 -3.8 0M495.2 849.4a1.9 1.9 0 1 0 3.8 0a1.9 1.9 0 1 0 -3.8 0M502.6 849.4a1.9 1.9 0 1 0 3.8 0a1.9 1.9 0 1 0 -3.8 0M510 849.4a1.9 1.9 0 1 0 3.8 0a1.9 1.9 0 1 0 -3.8 0M517.4 849.4a1.9 1.9 0 1 0 3.8 0a1.9 1.9 0 1 0 -3.8 0M524.8 849.4a1.9 1.9 0 1 0 3.8 0a1.9 1.9 0 1 0 -3.8 0M495.2 855.6a1.9 1.9 0 1 0 3.8 0a1.9 1.9 0 1 0 -3.8 0M502.6 855.6a1.9 1.9 0 1 0 3.8 0a1.9 1.9 0 1 0 -3.8 0M510 855.6a1.9 1.9 0 1 0 3.8 0a1.9 1.9 0 1 0 -3.8 0M517.4 855.6a1.9 1.9 0 1 0 3.8 0a1.9 1.9 0 1 0 -3.8 0M524.8 855.6a1.9 1.9 0 1 0 3.8 0a1.9 1.9 0 1 0 -3.8 0M506.3 861.8a1.9 1.9 0 1 0 3.8 0a1.9 1.9 0 1 0 -3.8 0M513.7 861.8a1.9 1.9 0 1 0 3.8 0a1.9 1.9 0 1 0 -3.8 0M491.5 868a1.9 1.9 0 1 0 3.8 0a1.9 1.9 0 1 0 -3.8 0M498.9 868a1.9 1.9 0 1 0 3.8 0a1.9 1.9 0 1 0 -3.8 0M506.3 868a1.9 1.9 0 1 0 3.8 0a1.9 1.9 0 1 0 -3.8 0M513.7 868a1.9 1.9 0 1 0 3.8 0a1.9 1.9 0 1 0 -3.8 0M521.1 868a1.9 1.9 0 1 0 3.8 0a1.9 1.9 0 1 0 -3.8 0M528.5 868a1.9 1.9 0 1 0 3.8 0a1.9 1.9 0 1 0 -3.8 0M510 871.1a1.9 1.9 0 1 0 3.8 0a1.9 1.9 0 1 0 -3.8 0M495.2 874.2a1.9 1.9 0 1 0 3.8 0a1.9 1.9 0 1 0 -3.8 0M502.6 874.2a1.9 1.9 0 1 0 3.8 0a1.9 1.9 0 1 0 -3.8 0M510 874.2a1.9 1.9 0 1 0 3.8 0a1.9 1.9 0 1 0 -3.8 0M517.4 874.2a1.9 1.9 0 1 0 3.8 0a1.9 1.9 0 1 0 -3.8 0M524.8 874.2a1.9 1.9 0 1 0 3.8 0a1.9 1.9 0 1 0 -3.8 0M506.3 880.4a1.9 1.9 0 1 0 3.8 0a1.9 1.9 0 1 0 -3.8 0M513.7 880.4a1.9 1.9 0 1 0 3.8 0a1.9 1.9 0 1 0 -3.8 0M506.3 886.6a1.9 1.9 0 1 0 3.8 0a1.9 1.9 0 1 0 -3.8 0M513.7 886.6a1.9 1.9 0 1 0 3.8 0a1.9 1.9 0 1 0 -3.8 0M491.5 892.8a1.9 1.9 0 1 0 3.8 0a1.9 1.9 0 1 0 -3.8 0M498.9 892.8a1.9 1.9 0 1 0 3.8 0a1.9 1.9 0 1 0 -3.8 0M506.3 892.8a1.9 1.9 0 1 0 3.8 0a1.9 1.9 0 1 0 -3.8 0M513.7 892.8a1.9 1.9 0 1 0 3.8 0a1.9 1.9 0 1 0 -3.8 0M521.1 892.8a1.9 1.9 0 1 0 3.8 0a1.9 1.9 0 1 0 -3.8 0M528.5 892.8a1.9 1.9 0 1 0 3.8 0a1.9 1.9 0 1 0 -3.8 0M498.9 899a1.9 1.9 0 1 0 3.8 0a1.9 1.9 0 1 0 -3.8 0M506.3 899a1.9 1.9 0 1 0 3.8 0a1.9 1.9 0 1 0 -3.8 0M513.7 899a1.9 1.9 0 1 0 3.8 0a1.9 1.9 0 1 0 -3.8 0M521.1 899a1.9 1.9 0 1 0 3.8 0a1.9 1.9 0 1 0 -3.8 0M491.5 905.2a1.9 1.9 0 1 0 3.8 0a1.9 1.9 0 1 0 -3.8 0M498.9 905.2a1.9 1.9 0 1 0 3.8 0a1.9 1.9 0 1 0 -3.8 0M506.3 905.2a1.9 1.9 0 1 0 3.8 0a1.9 1.9 0 1 0 -3.8 0M513.7 905.2a1.9 1.9 0 1 0 3.8 0a1.9 1.9 0 1 0 -3.8 0M521.1 905.2a1.9 1.9 0 1 0 3.8 0a1.9 1.9 0 1 0 -3.8 0M528.5 905.2a1.9 1.9 0 1 0 3.8 0a1.9 1.9 0 1 0 -3.8 0M510 908.3a1.9 1.9 0 1 0 3.8 0a1.9 1.9 0 1 0 -3.8 0M495.2 911.4a1.9 1.9 0 1 0 3.8 0a1.9 1.9 0 1 0 -3.8 0M502.6 911.4a1.9 1.9 0 1 0 3.8 0a1.9 1.9 0 1 0 -3.8 0M510 911.4a1.9 1.9 0 1 0 3.8 0a1.9 1.9 0 1 0 -3.8 0M517.4 911.4a1.9 1.9 0 1 0 3.8 0a1.9 1.9 0 1 0 -3.8 0M524.8 911.4a1.9 1.9 0 1 0 3.8 0a1.9 1.9 0 1 0 -3.8 0M502.6 917.6a1.9 1.9 0 1 0 3.8 0a1.9 1.9 0 1 0 -3.8 0M510 917.6a1.9 1.9 0 1 0 3.8 0a1.9 1.9 0 1 0 -3.8 0M517.4 917.6a1.9 1.9 0 1 0 3.8 0a1.9 1.9 0 1 0 -3.8 0M498.9 923.8a1.9 1.9 0 1 0 3.8 0a1.9 1.9 0 1 0 -3.8 0M506.3 923.8a1.9 1.9 0 1 0 3.8 0a1.9 1.9 0 1 0 -3.8 0M513.7 923.8a1.9 1.9 0 1 0 3.8 0a1.9 1.9 0 1 0 -3.8 0M521.1 923.8a1.9 1.9 0 1 0 3.8 0a1.9 1.9 0 1 0 -3.8 0M491.5 930a1.9 1.9 0 1 0 3.8 0a1.9 1.9 0 1 0 -3.8 0M498.9 930a1.9 1.9 0 1 0 3.8 0a1.9 1.9 0 1 0 -3.8 0M506.3 930a1.9 1.9 0 1 0 3.8 0a1.9 1.9 0 1 0 -3.8 0M513.7 930a1.9 1.9 0 1 0 3.8 0a1.9 1.9 0 1 0 -3.8 0M521.1 930a1.9 1.9 0 1 0 3.8 0a1.9 1.9 0 1 0 -3.8 0M528.5 930a1.9 1.9 0 1 0 3.8 0a1.9 1.9 0 1 0 -3.8 0M498.9 936.2a1.9 1.9 0 1 0 3.8 0a1.9 1.9 0 1 0 -3.8 0M506.3 936.2a1.9 1.9 0 1 0 3.8 0a1.9 1.9 0 1 0 -3.8 0M513.7 936.2a1.9 1.9 0 1 0 3.8 0a1.9 1.9 0 1 0 -3.8 0M521.1 936.2a1.9 1.9 0 1 0 3.8 0a1.9 1.9 0 1 0 -3.8 0M510 948.78a1.9 1.9 0 1 0 3.8 0a1.9 1.9 0 1 0 -3.8 0M510 954.74a1.9 1.9 0 1 0 3.8 0a1.9 1.9 0 1 0 -3.8 0" fill="#3a3a3a"/>
<path d="M585 684.88l2 2l-2 2l-2 -2zM585 694.4l2 2l-2 2l-2 -2zM585 727.73l2 2l-2 2l-2 -2zM565.4 746.8l2 2l-2 2l-2 -2zM571 746.8l2 2l-2 2l-2 -2zM576.6 746.8l2 2l-2 2l-2 -2zM582.2 746.8l2 2l-2 2l-2 -2zM587.8 746.8l2 2l-2 2l-2 -2zM593.4 746.8l2 2l-2 2l-2 -2zM599 746.8l2 2l-2 2l-2 -2zM604.6 746.8l2 2l-2 2l-2 -2zM585 749.4l2 2l-2 2l-2 -2zM582.2 767.6l2 2l-2 2l-2 -2zM587.8 767.6l2 2l-2 2l-2 -2zM582.2 772.8l2 2l-2 2l-2 -2zM587.8 772.8l2 2l-2 2l-2 -2zM585 778.17l2 2l-2 2l-2 -2zM585 784.2l2 2l-2 2l-2 -2zM579.4 788.4l2 2l-2 2l-2 -2zM585 788.4l2 2l-2 2l-2 -2zM590.6 788.4l2 2l-2 2l-2 -2zM576.6 793.6l2 2l-2 2l-2 -2zM582.2 793.6l2 2l-2 2l-2 -2zM587.8 793.6l2 2l-2 2l-2 -2zM593.4 793.6l2 2l-2 2l-2 -2zM582.2 798.8l2 2l-2 2l-2 -2zM587.8 798.8l2 2l-2 2l-2 -2zM573.8 804l2 2l-2 2l-2 -2zM579.4 804l2 2l-2 2l-2 -2zM585 804l2 2l-2 2l-2 -2zM590.6 804l2 2l-2 2l-2 -2zM596.2 804l2 2l-2 2l-2 -2zM576.6 809.2l2 2l-2 2l-2 -2zM582.2 809.2l2 2l-2 2l-2 -2zM587.8 809.2l2 2l-2 2l-2 -2zM593.4 809.2l2 2l-2 2l-2 -2zM571 814.4l2 2l-2 2l-2 -2zM576.6 814.4l2 2l-2 2l-2 -2zM582.2 814.4l2 2l-2 2l-2 -2zM587.8 814.4l2 2l-2 2l-2 -2zM593.4 814.4l2 2l-2 2l-2 -2zM599 814.4l2 2l-2 2l-2 -2zM582.2 819.6l2 2l-2 2l-2 -2zM587.8 819.6l2 2l-2 2l-2 -2zM576.6 824.8l2 2l-2 2l-2 -2zM582.2 824.8l2 2l-2 2l-2 -2zM587.8 824.8l2 2l-2 2l-2 -2zM593.4 824.8l2 2l-2 2l-2 -2zM573.8 830l2 2l-2 2l-2 -2zM579.4 830l2 2l-2 2l-2 -2zM585 830l2 2l-2 2l-2 -2zM590.6 830l2 2l-2 2l-2 -2zM596.2 830l2 2l-2 2l-2 -2zM573.8 835.2l2 2l-2 2l-2 -2zM579.4 835.2l2 2l-2 2l-2 -2zM585 835.2l2 2l-2 2l-2 -2zM590.6 835.2l2 2l-2 2l-2 -2zM596.2 835.2l2 2l-2 2l-2 -2zM576.6 840.4l2 2l-2 2l-2 -2zM582.2 840.4l2 2l-2 2l-2 -2zM587.8 840.4l2 2l-2 2l-2 -2zM593.4 840.4l2 2l-2 2l-2 -2zM579.4 845.6l2 2l-2 2l-2 -2zM585 845.6l2 2l-2 2l-2 -2zM590.6 845.6l2 2l-2 2l-2 -2zM582.2 850.8l2 2l-2 2l-2 -2zM587.8 850.8l2 2l-2 2l-2 -2zM573.8 856l2 2l-2 2l-2 -2zM579.4 856l2 2l-2 2l-2 -2zM585 856l2 2l-2 2l-2 -2zM590.6 856l2 2l-2 2l-2 -2zM596.2 856l2 2l-2 2l-2 -2zM579.4 861.2l2 2l-2 2l-2 -2zM585 861.2l2 2l-2 2l-2 -2zM590.6 861.2l2 2l-2 2l-2 -2zM582.2 866.4l2 2l-2 2l-2 -2zM587.8 866.4l2 2l-2 2l-2 -2zM576.6 871.6l2 2l-2 2l-2 -2zM582.2 871.6l2 2l-2 2l-2 -2zM587.8 871.6l2 2l-2 2l-2 -2zM593.4 871.6l2 2l-2 2l-2 -2zM585 880.78l2 2l-2 2l-2 -2zM585 887.03l2 2l-2 2l-2 -2zM579.4 892.4l2 2l-2 2l-2 -2zM585 892.4l2 2l-2 2l-2 -2zM590.6 892.4l2 2l-2 2l-2 -2zM585 909.88l2 2l-2 2l-2 -2zM585 971.79l2 2l-2 2l-2 -2z" fill="#000"/>
<path d="M655.7 697.1h4.2l-2.1 3.57zM655.7 735.2h4.2l-2.1 3.57zM640.7 757.52h4.2l-2.1 3.57zM646.7 757.52h4.2l-2.1 3.57zM652.7 757.52h4.2l-2.1 3.57zM658.7 757.52h4.2l-2.1 3.57zM664.7 757.52h4.2l-2.1 3.57zM670.7 757.52h4.2l-2.1 3.57zM649.7 762.72h4.2l-2.1 3.57zM655.7 762.72h4.2l-2.1 3.57zM661.7 762.72h4.2l-2.1 3.57zM655.7 772.97h4.2l-2.1 3.57zM655.7 777.47h4.2l-2.1 3.57zM655.7 783.14h4.2l-2.1 3.57zM652.7 788.72h4.2l-2.1 3.57zM658.7 788.72h4.2l-2.1 3.57zM649.7 793.92h4.2l-2.1 3.57zM655.7 793.92h4.2l-2.1 3.57zM661.7 793.92h4.2l-2.1 3.57zM655.7 800.11h4.2l-2.1 3.57zM652.7 804.32h4.2l-2.1 3.57zM658.7 804.32h4.2l-2.1 3.57zM652.7 809.52h4.2l-2.1 3.57zM658.7 809.52h4.2l-2.1 3.57zM649.7 814.72h4.2l-2.1 3.57zM655.7 814.72h4.2l-2.1 3.57zM661.7 814.72h4.2l-2.1 3.57zM649.7 819.92h4.2l-2.1 3.57zM655.7 819.92h4.2l-2.1 3.57zM661.7 819.92h4.2l-2.1 3.57zM652.7 825.12h4.2l-2.1 3.57zM658.7 825.12h4.2l-2.1 3.57zM652.7 830.32h4.2l-2.1 3.57zM658.7 830.32h4.2l-2.1 3.57zM640.7 835.52h4.2l-2.1 3.57zM646.7 835.52h4.2l-2.1 3.57zM652.7 835.52h4.2l-2.1 3.57zM658.7 835.52h4.2l-2.1 3.57zM664.7 835.52h4.2l-2.1 3.57zM670.7 835.52h4.2l-2.1 3.57zM637.7 840.72h4.2l-2.1 3.57zM643.7 840.72h4.2l-2.1 3.57zM649.7 840.72h4.2l-2.1 3.57zM655.7 840.72h4.2l-2.1 3.57zM661.7 840.72h4.2l-2.1 3.57zM667.7 840.72h4.2l-2.1 3.57zM673.7 840.72h4.2l-2.1 3.57zM652.7 843.32h4.2l-2.1 3.57zM658.7 843.32h4.2l-2.1 3.57zM643.7 845.92h4.2l-2.1 3.57zM649.7 845.92h4.2l-2.1 3.57zM655.7 845.92h4.2l-2.1 3.57zM661.7 845.92h4.2l-2.1 3.57zM667.7 845.92h4.2l-2.1 3.57zM649.7 851.12h4.2l-2.1 3.57zM655.7 851.12h4.2l-2.1 3.57zM661.7 851.12h4.2l-2.1 3.57zM649.7 856.32h4.2l-2.1 3.57zM655.7 856.32h4.2l-2.1 3.57zM661.7 856.32h4.2l-2.1 3.57zM649.7 861.52h4.2l-2.1 3.57zM655.7 861.52h4.2l-2.1 3.57zM661.7 861.52h4.2l-2.1 3.57zM652.7 866.72h4.2l-2.1 3.57zM658.7 866.72h4.2l-2.1 3.57zM649.7 871.92h4.2l-2.1 3.57zM655.7 871.92h4.2l-2.1 3.57zM661.7 871.92h4.2l-2.1 3.57zM655.7 876.86h4.2l-2.1 3.57zM655.7 881.98h4.2l-2.1 3.57zM652.7 887.52h4.2l-2.1 3.57zM658.7 887.52h4.2l-2.1 3.57zM652.7 892.72h4.2l-2.1 3.57zM658.7 892.72h4.2l-2.1 3.57zM646.7 897.92h4.2l-2.1 3.57zM652.7 897.92h4.2l-2.1 3.57zM658.7 897.92h4.2l-2.1 3.57zM664.7 897.92h4.2l-2.1 3.57zM649.7 903.12h4.2l-2.1 3.57zM655.7 903.12h4.2l-2.1 3.57zM661.7 903.12h4.2l-2.1 3.57zM652.7 908.32h4.2l-2.1 3.57zM658.7 908.32h4.2l-2.1 3.57zM655.7 932.82h4.2l-2.1 3.57zM655.7 955.44h4.2l-2.1 3.57z" fill="#000"/>
<line x1="511.9" y1="876.5" x2="511.9" y2="882.4" stroke="#000" stroke-width="3.2"/>
<line x1="499.9" y1="876.5" x2="523.9" y2="876.5" stroke="#000" stroke-width="3.2"/>
<line x1="585" y1="806.5" x2="585" y2="812.7" stroke="#000" stroke-width="3.2"/>
<line x1="573" y1="806.5" x2="597" y2="806.5" stroke="#000" stroke-width="3.2"/>
<line x1="657.8" y1="823" x2="657.8" y2="829.1" stroke="#000" stroke-width="3.2"/>
<line x1="645.8" y1="823" x2="669.8" y2="823" stroke="#000" stroke-width="3.2"/>
<line x1="464.1" y1="649.1" x2="464.1" y2="984.5" stroke="#000" stroke-width="4"/>
<line x1="464.1" y1="994" x2="464.1" y2="1016.4" stroke="#000" stroke-width="4"/>
<line x1="449.1" y1="651.16" x2="464.1" y2="651.16" stroke="#000" stroke-width="4"/>
<text x="446.1" y="661.51" font-size="27.5" font-weight="bold" stroke="#000" stroke-width="0.82" text-anchor="end">20</text>
<line x1="449.1" y1="698.78" x2="464.1" y2="698.78" stroke="#000" stroke-width="4"/>
<text x="446.1" y="709.12" font-size="27.5" font-weight="bold" stroke="#000" stroke-width="0.82" text-anchor="end">18</text>
<line x1="449.1" y1="746.4" x2="464.1" y2="746.4" stroke="#000" stroke-width="4"/>
<text x="446.1" y="756.75" font-size="27.5" font-weight="bold" stroke="#000" stroke-width="0.82" text-anchor="end">16</text>
<line x1="449.1" y1="794.02" x2="464.1" y2="794.02" stroke="#000" stroke-width="4"/>
<text x="446.1" y="804.37" font-size="27.5" font-weight="bold" stroke="#000" stroke-width="0.82" text-anchor="end">14</text>
<line x1="449.1" y1="841.64" x2="464.1" y2="841.64" stroke="#000" stroke-width="4"/>
<text x="446.1" y="851.99" font-size="27.5" font-weight="bold" stroke="#000" stroke-width="0.82" text-anchor="end">12</text>
<line x1="449.1" y1="889.26" x2="464.1" y2="889.26" stroke="#000" stroke-width="4"/>
<text x="446.1" y="899.61" font-size="27.5" font-weight="bold" stroke="#000" stroke-width="0.82" text-anchor="end">10</text>
<line x1="449.1" y1="936.88" x2="464.1" y2="936.88" stroke="#000" stroke-width="4"/>
<text x="446.1" y="947.23" font-size="27.5" font-weight="bold" stroke="#000" stroke-width="0.82" text-anchor="end">8</text>
<line x1="449.1" y1="1016.4" x2="464.1" y2="1016.4" stroke="#000" stroke-width="4"/>
<text x="446.1" y="1026.74" font-size="27.5" font-weight="bold" stroke="#000" stroke-width="0.82" text-anchor="end">0</text>
<line x1="455.1" y1="984.5" x2="473.1" y2="984.5" stroke="#000" stroke-width="4"/>
<text x="446.1" y="995.85" font-size="27.5" font-weight="bold" stroke="#000" stroke-width="0.82" text-anchor="end">6</text>
<line x1="455.1" y1="994" x2="473.1" y2="994" stroke="#000" stroke-width="4"/>
<line x1="447" y1="1016.4" x2="708.8" y2="1016.4" stroke="#000" stroke-width="4"/>
<line x1="511.9" y1="1016.4" x2="511.9" y2="1031.4" stroke="#000" stroke-width="4"/>
<text x="511.9" y="1060.85" font-size="27.5" font-weight="bold" stroke="#000" stroke-width="0.82" text-anchor="middle">C</text>
<line x1="585" y1="1016.4" x2="585" y2="1031.4" stroke="#000" stroke-width="4"/>
<text x="585" y="1060.85" font-size="27.5" font-weight="bold" stroke="#000" stroke-width="0.82" text-anchor="middle">H</text>
<line x1="657.8" y1="1016.4" x2="657.8" y2="1031.4" stroke="#000" stroke-width="4"/>
<text x="657.8" y="1060.85" font-size="27.5" font-weight="bold" stroke="#000" stroke-width="0.82" text-anchor="middle">Y</text>
<text transform="translate(384 834.5) rotate(-90)" x="0" y="10.95" font-size="30.6" font-weight="bold" stroke="#000" stroke-width="0.92" text-anchor="middle">Fasting glucose (mmol/L)</text>
<polyline points="511.7,673.6 511.7,654.3 584.3,654.3 584.3,673.6" fill="none" stroke="#000" stroke-width="1.5" stroke-linejoin="miter"/>
<polyline points="588.3,673.6 588.3,654.3 661.7,654.3 661.7,673.6" fill="none" stroke="#000" stroke-width="1.5" stroke-linejoin="miter"/>
<text x="550.68" y="647.89" font-size="33.05" font-weight="bold" text-anchor="middle" letter-spacing="3.37" stroke="#000" stroke-width="0.7" style="font-family:'DejaVu Sans',sans-serif">***</text>
<text x="625.5" y="638.96" font-size="32" text-anchor="middle">##</text>
<text transform="translate(364.15 608.9) scale(0.94 1)" font-size="57" stroke="#000" stroke-width="0.7">e</text>
</g>
<g>
<rect x="866.6" y="945.6" width="46.2" height="71.4" fill="#dedede" stroke="#000" stroke-width="1.7"/>
<rect x="937.9" y="782.4" width="46.5" height="234.6" fill="#fe4040" stroke="#000" stroke-width="1.7"/>
<rect x="1009.2" y="833.9" width="46.5" height="183.1" fill="#8c8cfc" stroke="#000" stroke-width="1.7"/>
<path d="M887.8 793.44a1.9 1.9 0 1 0 3.8 0a1.9 1.9 0 1 0 -3.8 0M887.8 843.12a1.9 1.9 0 1 0 3.8 0a1.9 1.9 0 1 0 -3.8 0M887.8 858.64a1.9 1.9 0 1 0 3.8 0a1.9 1.9 0 1 0 -3.8 0M880.4 871.2a1.9 1.9 0 1 0 3.8 0a1.9 1.9 0 1 0 -3.8 0M887.8 871.2a1.9 1.9 0 1 0 3.8 0a1.9 1.9 0 1 0 -3.8 0M895.2 871.2a1.9 1.9 0 1 0 3.8 0a1.9 1.9 0 1 0 -3.8 0M880.4 885.6a1.9 1.9 0 1 0 3.8 0a1.9 1.9 0 1 0 -3.8 0M887.8 885.6a1.9 1.9 0 1 0 3.8 0a1.9 1.9 0 1 0 -3.8 0M895.2 885.6a1.9 1.9 0 1 0 3.8 0a1.9 1.9 0 1 0 -3.8 0M887.8 895.9a1.9 1.9 0 1 0 3.8 0a1.9 1.9 0 1 0 -3.8 0M884.1 900a1.9 1.9 0 1 0 3.8 0a1.9 1.9 0 1 0 -3.8 0M891.5 900a1.9 1.9 0 1 0 3.8 0a1.9 1.9 0 1 0 -3.8 0M869.3 914.4a1.9 1.9 0 1 0 3.8 0a1.9 1.9 0 1 0 -3.8 0M876.7 914.4a1.9 1.9 0 1 0 3.8 0a1.9 1.9 0 1 0 -3.8 0M884.1 914.4a1.9 1.9 0 1 0 3.8 0a1.9 1.9 0 1 0 -3.8 0M891.5 914.4a1.9 1.9 0 1 0 3.8 0a1.9 1.9 0 1 0 -3.8 0M898.9 914.4a1.9 1.9 0 1 0 3.8 0a1.9 1.9 0 1 0 -3.8 0M906.3 914.4a1.9 1.9 0 1 0 3.8 0a1.9 1.9 0 1 0 -3.8 0M876.7 921.6a1.9 1.9 0 1 0 3.8 0a1.9 1.9 0 1 0 -3.8 0M884.1 921.6a1.9 1.9 0 1 0 3.8 0a1.9 1.9 0 1 0 -3.8 0M891.5 921.6a1.9 1.9 0 1 0 3.8 0a1.9 1.9 0 1 0 -3.8 0M898.9 921.6a1.9 1.9 0 1 0 3.8 0a1.9 1.9 0 1 0 -3.8 0M887.8 929.57a1.9 1.9 0 1 0 3.8 0a1.9 1.9 0 1 0 -3.8 0M887.8 934.82a1.9 1.9 0 1 0 3.8 0a1.9 1.9 0 1 0 -3.8 0M876.7 943.2a1.9 1.9 0 1 0 3.8 0a1.9 1.9 0 1 0 -3.8 0M884.1 943.2a1.9 1.9 0 1 0 3.8 0a1.9 1.9 0 1 0 -3.8 0M891.5 943.2a1.9 1.9 0 1 0 3.8 0a1.9 1.9 0 1 0 -3.8 0M898.9 943.2a1.9 1.9 0 1 0 3.8 0a1.9 1.9 0 1 0 -3.8 0M869.3 950.4a1.9 1.9 0 1 0 3.8 0a1.9 1.9 0 1 0 -3.8 0M876.7 950.4a1.9 1.9 0 1 0 3.8 0a1.9 1.9 0 1 0 -3.8 0M884.1 950.4a1.9 1.9 0 1 0 3.8 0a1.9 1.9 0 1 0 -3.8 0M891.5 950.4a1.9 1.9 0 1 0 3.8 0a1.9 1.9 0 1 0 -3.8 0M898.9 950.4a1.9 1.9 0 1 0 3.8 0a1.9 1.9 0 1 0 -3.8 0M906.3 950.4a1.9 1.9 0 1 0 3.8 0a1.9 1.9 0 1 0 -3.8 0M887.8 954a1.9 1.9 0 1 0 3.8 0a1.9 1.9 0 1 0 -3.8 0M876.7 957.6a1.9 1.9 0 1 0 3.8 0a1.9 1.9 0 1 0 -3.8 0M884.1 957.6a1.9 1.9 0 1 0 3.8 0a1.9 1.9 0 1 0 -3.8 0M891.5 957.6a1.9 1.9 0 1 0 3.8 0a1.9 1.9 0 1 0 -3.8 0M898.9 957.6a1.9 1.9 0 1 0 3.8 0a1.9 1.9 0 1 0 -3.8 0M869.3 964.8a1.9 1.9 0 1 0 3.8 0a1.9 1.9 0 1 0 -3.8 0M876.7 964.8a1.9 1.9 0 1 0 3.8 0a1.9 1.9 0 1 0 -3.8 0M884.1 964.8a1.9 1.9 0 1 0 3.8 0a1.9 1.9 0 1 0 -3.8 0M891.5 964.8a1.9 1.9 0 1 0 3.8 0a1.9 1.9 0 1 0 -3.8 0M898.9 964.8a1.9 1.9 0 1 0 3.8 0a1.9 1.9 0 1 0 -3.8 0M906.3 964.8a1.9 1.9 0 1 0 3.8 0a1.9 1.9 0 1 0 -3.8 0M887.8 968.4a1.9 1.9 0 1 0 3.8 0a1.9 1.9 0 1 0 -3.8 0M869.3 972a1.9 1.9 0 1 0 3.8 0a1.9 1.9 0 1 0 -3.8 0M876.7 972a1.9 1.9 0 1 0 3.8 0a1.9 1.9 0 1 0 -3.8 0M884.1 972a1.9 1.9 0 1 0 3.8 0a1.9 1.9 0 1 0 -3.8 0M891.5 972a1.9 1.9 0 1 0 3.8 0a1.9 1.9 0 1 0 -3.8 0M898.9 972a1.9 1.9 0 1 0 3.8 0a1.9 1.9 0 1 0 -3.8 0M906.3 972a1.9 1.9 0 1 0 3.8 0a1.9 1.9 0 1 0 -3.8 0M873 979.2a1.9 1.9 0 1 0 3.8 0a1.9 1.9 0 1 0 -3.8 0M880.4 979.2a1.9 1.9 0 1 0 3.8 0a1.9 1.9 0 1 0 -3.8 0M887.8 979.2a1.9 1.9 0 1 0 3.8 0a1.9 1.9 0 1 0 -3.8 0M895.2 979.2a1.9 1.9 0 1 0 3.8 0a1.9 1.9 0 1 0 -3.8 0M902.6 979.2a1.9 1.9 0 1 0 3.8 0a1.9 1.9 0 1 0 -3.8 0M880.4 986.4a1.9 1.9 0 1 0 3.8 0a1.9 1.9 0 1 0 -3.8 0M887.8 986.4a1.9 1.9 0 1 0 3.8 0a1.9 1.9 0 1 0 -3.8 0M895.2 986.4a1.9 1.9 0 1 0 3.8 0a1.9 1.9 0 1 0 -3.8 0M880.4 993.6a1.9 1.9 0 1 0 3.8 0a1.9 1.9 0 1 0 -3.8 0M887.8 993.6a1.9 1.9 0 1 0 3.8 0a1.9 1.9 0 1 0 -3.8 0M895.2 993.6a1.9 1.9 0 1 0 3.8 0a1.9 1.9 0 1 0 -3.8 0M873 1000.8a1.9 1.9 0 1 0 3.8 0a1.9 1.9 0 1 0 -3.8 0M880.4 1000.8a1.9 1.9 0 1 0 3.8 0a1.9 1.9 0 1 0 -3.8 0M887.8 1000.8a1.9 1.9 0 1 0 3.8 0a1.9 1.9 0 1 0 -3.8 0M895.2 1000.8a1.9 1.9 0 1 0 3.8 0a1.9 1.9 0 1 0 -3.8 0M902.6 1000.8a1.9 1.9 0 1 0 3.8 0a1.9 1.9 0 1 0 -3.8 0M884.1 1008a1.9 1.9 0 1 0 3.8 0a1.9 1.9 0 1 0 -3.8 0M891.5 1008a1.9 1.9 0 1 0 3.8 0a1.9 1.9 0 1 0 -3.8 0M887.8 691.44a1.9 1.9 0 1 0 3.8 0a1.9 1.9 0 1 0 -3.8 0" fill="#3a3a3a"/>
<path d="M961.2 723.13l2 2l-2 2l-2 -2zM961.2 732.44l2 2l-2 2l-2 -2zM961.2 741.76l2 2l-2 2l-2 -2zM961.2 747.97l2 2l-2 2l-2 -2zM961.2 754.18l2 2l-2 2l-2 -2zM961.2 757.28l2 2l-2 2l-2 -2zM961.2 763.5l2 2l-2 2l-2 -2zM953.25 775.2l2 2l-2 2l-2 -2zM958.55 775.2l2 2l-2 2l-2 -2zM963.85 775.2l2 2l-2 2l-2 -2zM969.15 775.2l2 2l-2 2l-2 -2zM958.55 781l2 2l-2 2l-2 -2zM963.85 781l2 2l-2 2l-2 -2zM958.55 786.8l2 2l-2 2l-2 -2zM963.85 786.8l2 2l-2 2l-2 -2zM955.9 792.6l2 2l-2 2l-2 -2zM961.2 792.6l2 2l-2 2l-2 -2zM966.5 792.6l2 2l-2 2l-2 -2zM958.55 798.4l2 2l-2 2l-2 -2zM963.85 798.4l2 2l-2 2l-2 -2zM961.2 805.01l2 2l-2 2l-2 -2zM961.2 810.14l2 2l-2 2l-2 -2zM958.55 815.8l2 2l-2 2l-2 -2zM963.85 815.8l2 2l-2 2l-2 -2zM961.2 819.02l2 2l-2 2l-2 -2zM953.25 833.2l2 2l-2 2l-2 -2zM958.55 833.2l2 2l-2 2l-2 -2zM963.85 833.2l2 2l-2 2l-2 -2zM969.15 833.2l2 2l-2 2l-2 -2zM953.25 839l2 2l-2 2l-2 -2zM958.55 839l2 2l-2 2l-2 -2zM963.85 839l2 2l-2 2l-2 -2zM969.15 839l2 2l-2 2l-2 -2zM955.9 844.8l2 2l-2 2l-2 -2zM961.2 844.8l2 2l-2 2l-2 -2zM966.5 844.8l2 2l-2 2l-2 -2zM953.25 850.6l2 2l-2 2l-2 -2zM958.55 850.6l2 2l-2 2l-2 -2zM963.85 850.6l2 2l-2 2l-2 -2zM969.15 850.6l2 2l-2 2l-2 -2zM958.55 862.2l2 2l-2 2l-2 -2zM963.85 862.2l2 2l-2 2l-2 -2zM955.9 868l2 2l-2 2l-2 -2zM961.2 868l2 2l-2 2l-2 -2zM966.5 868l2 2l-2 2l-2 -2zM961.2 873.27l2 2l-2 2l-2 -2zM961.2 880.83l2 2l-2 2l-2 -2zM950.6 885.4l2 2l-2 2l-2 -2zM955.9 885.4l2 2l-2 2l-2 -2zM961.2 885.4l2 2l-2 2l-2 -2zM966.5 885.4l2 2l-2 2l-2 -2zM971.8 885.4l2 2l-2 2l-2 -2zM961.2 895.9l2 2l-2 2l-2 -2zM958.55 902.8l2 2l-2 2l-2 -2zM963.85 902.8l2 2l-2 2l-2 -2zM958.55 908.6l2 2l-2 2l-2 -2zM963.85 908.6l2 2l-2 2l-2 -2zM958.55 920.2l2 2l-2 2l-2 -2zM963.85 920.2l2 2l-2 2l-2 -2zM953.25 926l2 2l-2 2l-2 -2zM958.55 926l2 2l-2 2l-2 -2zM963.85 926l2 2l-2 2l-2 -2zM969.15 926l2 2l-2 2l-2 -2zM958.55 931.8l2 2l-2 2l-2 -2zM963.85 931.8l2 2l-2 2l-2 -2zM961.2 937.38l2 2l-2 2l-2 -2zM961.2 943.59l2 2l-2 2l-2 -2zM961.2 949.79l2 2l-2 2l-2 -2zM961.2 956l2 2l-2 2l-2 -2zM961.2 661.25l2 2l-2 2l-2 -2zM961.2 664.43l2 2l-2 2l-2 -2zM961.2 668.4l2 2l-2 2l-2 -2zM961.2 672.37l2 2l-2 2l-2 -2zM955.6 680.31l2 2l-2 2l-2 -2zM961.2 680.31l2 2l-2 2l-2 -2zM966.8 680.31l2 2l-2 2l-2 -2zM952.8 683.88l2 2l-2 2l-2 -2zM958.4 683.88l2 2l-2 2l-2 -2zM964 683.88l2 2l-2 2l-2 -2zM969.6 683.88l2 2l-2 2l-2 -2zM944.4 687.06l2 2l-2 2l-2 -2zM950 687.06l2 2l-2 2l-2 -2zM955.6 687.06l2 2l-2 2l-2 -2zM961.2 687.06l2 2l-2 2l-2 -2zM966.8 687.06l2 2l-2 2l-2 -2zM972.4 687.06l2 2l-2 2l-2 -2zM978 687.06l2 2l-2 2l-2 -2zM938.65 691.03l2 2l-2 2l-2 -2zM942.75 691.03l2 2l-2 2l-2 -2zM946.85 691.03l2 2l-2 2l-2 -2zM950.95 691.03l2 2l-2 2l-2 -2zM955.05 691.03l2 2l-2 2l-2 -2zM959.15 691.03l2 2l-2 2l-2 -2zM963.25 691.03l2 2l-2 2l-2 -2zM967.35 691.03l2 2l-2 2l-2 -2zM971.45 691.03l2 2l-2 2l-2 -2zM975.55 691.03l2 2l-2 2l-2 -2zM979.65 691.03l2 2l-2 2l-2 -2zM983.75 691.03l2 2l-2 2l-2 -2z" fill="#000"/>
<path d="M1030.4 711.03h4.2l-2.1 3.57zM1030.4 720.35h4.2l-2.1 3.57zM1025 727.32h4.2l-2.1 3.57zM1030.4 727.32h4.2l-2.1 3.57zM1035.8 727.32h4.2l-2.1 3.57zM1030.4 738.98h4.2l-2.1 3.57zM1030.4 748.29h4.2l-2.1 3.57zM1027.7 759.72h4.2l-2.1 3.57zM1033.1 759.72h4.2l-2.1 3.57zM1027.7 770.52h4.2l-2.1 3.57zM1033.1 770.52h4.2l-2.1 3.57zM1030.4 782.45h4.2l-2.1 3.57zM1030.4 791.76h4.2l-2.1 3.57zM1030.4 801.08h4.2l-2.1 3.57zM1030.4 810.39h4.2l-2.1 3.57zM1030.4 819.71h4.2l-2.1 3.57zM1030.4 842.32h4.2l-2.1 3.57zM1027.7 851.52h4.2l-2.1 3.57zM1033.1 851.52h4.2l-2.1 3.57zM1022.3 856.92h4.2l-2.1 3.57zM1027.7 856.92h4.2l-2.1 3.57zM1033.1 856.92h4.2l-2.1 3.57zM1038.5 856.92h4.2l-2.1 3.57zM1027.7 862.32h4.2l-2.1 3.57zM1033.1 862.32h4.2l-2.1 3.57zM1025 867.72h4.2l-2.1 3.57zM1030.4 867.72h4.2l-2.1 3.57zM1035.8 867.72h4.2l-2.1 3.57zM1025 873.12h4.2l-2.1 3.57zM1030.4 873.12h4.2l-2.1 3.57zM1035.8 873.12h4.2l-2.1 3.57zM1019.6 878.52h4.2l-2.1 3.57zM1025 878.52h4.2l-2.1 3.57zM1030.4 878.52h4.2l-2.1 3.57zM1035.8 878.52h4.2l-2.1 3.57zM1041.2 878.52h4.2l-2.1 3.57zM1025 883.92h4.2l-2.1 3.57zM1030.4 883.92h4.2l-2.1 3.57zM1035.8 883.92h4.2l-2.1 3.57zM1030.4 889.45h4.2l-2.1 3.57zM1030.4 896.34h4.2l-2.1 3.57zM1022.3 900.12h4.2l-2.1 3.57zM1027.7 900.12h4.2l-2.1 3.57zM1033.1 900.12h4.2l-2.1 3.57zM1038.5 900.12h4.2l-2.1 3.57zM1025 905.52h4.2l-2.1 3.57zM1030.4 905.52h4.2l-2.1 3.57zM1035.8 905.52h4.2l-2.1 3.57zM1019.6 910.92h4.2l-2.1 3.57zM1025 910.92h4.2l-2.1 3.57zM1030.4 910.92h4.2l-2.1 3.57zM1035.8 910.92h4.2l-2.1 3.57zM1041.2 910.92h4.2l-2.1 3.57zM1027.7 913.62h4.2l-2.1 3.57zM1033.1 913.62h4.2l-2.1 3.57zM1027.7 916.32h4.2l-2.1 3.57zM1033.1 916.32h4.2l-2.1 3.57zM1022.3 921.72h4.2l-2.1 3.57zM1027.7 921.72h4.2l-2.1 3.57zM1033.1 921.72h4.2l-2.1 3.57zM1038.5 921.72h4.2l-2.1 3.57zM1022.3 927.12h4.2l-2.1 3.57zM1027.7 927.12h4.2l-2.1 3.57zM1033.1 927.12h4.2l-2.1 3.57zM1038.5 927.12h4.2l-2.1 3.57zM1030.4 933.87h4.2l-2.1 3.57zM1025 937.92h4.2l-2.1 3.57zM1030.4 937.92h4.2l-2.1 3.57zM1035.8 937.92h4.2l-2.1 3.57zM1025 943.32h4.2l-2.1 3.57zM1030.4 943.32h4.2l-2.1 3.57zM1035.8 943.32h4.2l-2.1 3.57zM1030.4 953.22h4.2l-2.1 3.57zM1030.4 959.43h4.2l-2.1 3.57zM1027.7 970.32h4.2l-2.1 3.57zM1033.1 970.32h4.2l-2.1 3.57zM1030.4 974.96h4.2l-2.1 3.57zM1025 681.42h4.2l-2.1 3.57zM1030.4 681.42h4.2l-2.1 3.57zM1035.8 681.42h4.2l-2.1 3.57zM1007.4 692.94h4.2l-2.1 3.57zM1012 692.94h4.2l-2.1 3.57zM1016.6 692.94h4.2l-2.1 3.57zM1021.2 692.94h4.2l-2.1 3.57zM1025.8 692.94h4.2l-2.1 3.57zM1030.4 692.94h4.2l-2.1 3.57zM1035 692.94h4.2l-2.1 3.57zM1039.6 692.94h4.2l-2.1 3.57zM1044.2 692.94h4.2l-2.1 3.57zM1048.8 692.94h4.2l-2.1 3.57zM1053.4 692.94h4.2l-2.1 3.57z" fill="#000"/>
<line x1="889.7" y1="937.2" x2="889.7" y2="946.6" stroke="#000" stroke-width="3.2"/>
<line x1="878.2" y1="937.2" x2="901.2" y2="937.2" stroke="#000" stroke-width="3.2"/>
<line x1="961.2" y1="764.7" x2="961.2" y2="783.4" stroke="#000" stroke-width="3.2"/>
<line x1="949.7" y1="764.7" x2="972.7" y2="764.7" stroke="#000" stroke-width="3.2"/>
<line x1="1032.5" y1="821.5" x2="1032.5" y2="834.9" stroke="#000" stroke-width="3.2"/>
<line x1="1021" y1="821.5" x2="1044" y2="821.5" stroke="#000" stroke-width="3.2"/>
<line x1="842.3" y1="658.9" x2="842.3" y2="696.6" stroke="#000" stroke-width="4"/>
<line x1="842.3" y1="705.8" x2="842.3" y2="1017" stroke="#000" stroke-width="4"/>
<line x1="827.3" y1="768.6" x2="842.3" y2="768.6" stroke="#000" stroke-width="4"/>
<text x="824.3" y="778.95" font-size="27.5" font-weight="bold" stroke="#000" stroke-width="0.82" text-anchor="end">4</text>
<line x1="827.3" y1="830.7" x2="842.3" y2="830.7" stroke="#000" stroke-width="4"/>
<text x="824.3" y="841.05" font-size="27.5" font-weight="bold" stroke="#000" stroke-width="0.82" text-anchor="end">3</text>
<line x1="827.3" y1="892.8" x2="842.3" y2="892.8" stroke="#000" stroke-width="4"/>
<text x="824.3" y="903.14" font-size="27.5" font-weight="bold" stroke="#000" stroke-width="0.82" text-anchor="end">2</text>
<line x1="827.3" y1="954.9" x2="842.3" y2="954.9" stroke="#000" stroke-width="4"/>
<text x="824.3" y="965.25" font-size="27.5" font-weight="bold" stroke="#000" stroke-width="0.82" text-anchor="end">1</text>
<line x1="827.3" y1="1017" x2="842.3" y2="1017" stroke="#000" stroke-width="4"/>
<text x="824.3" y="1027.35" font-size="27.5" font-weight="bold" stroke="#000" stroke-width="0.82" text-anchor="end">0</text>
<line x1="827.3" y1="660.9" x2="842.3" y2="660.9" stroke="#000" stroke-width="4"/>
<text x="824.3" y="671.25" font-size="27.5" font-weight="bold" stroke="#000" stroke-width="0.82" text-anchor="end">14</text>
<line x1="827.3" y1="686.3" x2="842.3" y2="686.3" stroke="#000" stroke-width="4"/>
<line x1="833.3" y1="696.6" x2="851.3" y2="696.6" stroke="#000" stroke-width="4"/>
<line x1="833.3" y1="705.8" x2="851.3" y2="705.8" stroke="#000" stroke-width="4"/>
<text x="824.3" y="717.14" font-size="27.5" font-weight="bold" stroke="#000" stroke-width="0.82" text-anchor="end">5</text>
<line x1="827.2" y1="1017" x2="1081.5" y2="1017" stroke="#000" stroke-width="4"/>
<line x1="889.7" y1="1017" x2="889.7" y2="1032" stroke="#000" stroke-width="4"/>
<text x="889.7" y="1060.85" font-size="27.5" font-weight="bold" stroke="#000" stroke-width="0.82" text-anchor="middle">C</text>
<line x1="961.2" y1="1017" x2="961.2" y2="1032" stroke="#000" stroke-width="4"/>
<text x="961.2" y="1060.85" font-size="27.5" font-weight="bold" stroke="#000" stroke-width="0.82" text-anchor="middle">H</text>
<line x1="1032.5" y1="1017" x2="1032.5" y2="1032" stroke="#000" stroke-width="4"/>
<text x="1032.5" y="1060.85" font-size="27.5" font-weight="bold" stroke="#000" stroke-width="0.82" text-anchor="middle">Y</text>
<text transform="translate(766 840) rotate(-90)" x="0" y="10.7" font-size="29.9" font-weight="bold" stroke="#000" stroke-width="0.9" text-anchor="middle">Fasting insulin (ng/mL)</text>
<polyline points="885.8,671.5 885.8,653.2 957.2,653.2 957.2,671.5" fill="none" stroke="#000" stroke-width="1.5" stroke-linejoin="miter"/>
<polyline points="965.1,671.8 965.1,653.8 1035.9,653.8 1035.9,671.8" fill="none" stroke="#000" stroke-width="1.5" stroke-linejoin="miter"/>
<text x="923.68" y="646.89" font-size="33.05" font-weight="bold" text-anchor="middle" letter-spacing="3.37" stroke="#000" stroke-width="0.7" style="font-family:'DejaVu Sans',sans-serif">***</text>
<text x="1000.7" y="638.96" font-size="32" text-anchor="middle">#</text>
<text x="822.3" y="697.35" font-size="27.5" font-weight="bold" stroke="#000" stroke-width="0.82" text-anchor="end">8</text>
<text transform="translate(753.08 608.9) scale(1 1)" font-size="57" stroke="#000" stroke-width="0.7">f</text>
</g>
<g>
<rect x="1248.4" y="974.2" width="46.3" height="44.9" fill="#dedede" stroke="#000" stroke-width="1.7"/>
<rect x="1318.7" y="830.7" width="46" height="188.4" fill="#fe4040" stroke="#000" stroke-width="1.7"/>
<rect x="1388.7" y="879.6" width="46.2" height="139.5" fill="#8c8cfc" stroke="#000" stroke-width="1.7"/>
<path d="M1269.6 785.93a1.9 1.9 0 1 0 3.8 0a1.9 1.9 0 1 0 -3.8 0M1269.6 894.85a1.9 1.9 0 1 0 3.8 0a1.9 1.9 0 1 0 -3.8 0M1266.4 910.6a1.9 1.9 0 1 0 3.8 0a1.9 1.9 0 1 0 -3.8 0M1272.8 910.6a1.9 1.9 0 1 0 3.8 0a1.9 1.9 0 1 0 -3.8 0M1269.6 918.68a1.9 1.9 0 1 0 3.8 0a1.9 1.9 0 1 0 -3.8 0M1263.2 928a1.9 1.9 0 1 0 3.8 0a1.9 1.9 0 1 0 -3.8 0M1269.6 928a1.9 1.9 0 1 0 3.8 0a1.9 1.9 0 1 0 -3.8 0M1276 928a1.9 1.9 0 1 0 3.8 0a1.9 1.9 0 1 0 -3.8 0M1269.6 939.11a1.9 1.9 0 1 0 3.8 0a1.9 1.9 0 1 0 -3.8 0M1266.4 945.4a1.9 1.9 0 1 0 3.8 0a1.9 1.9 0 1 0 -3.8 0M1272.8 945.4a1.9 1.9 0 1 0 3.8 0a1.9 1.9 0 1 0 -3.8 0M1260 957a1.9 1.9 0 1 0 3.8 0a1.9 1.9 0 1 0 -3.8 0M1266.4 957a1.9 1.9 0 1 0 3.8 0a1.9 1.9 0 1 0 -3.8 0M1272.8 957a1.9 1.9 0 1 0 3.8 0a1.9 1.9 0 1 0 -3.8 0M1279.2 957a1.9 1.9 0 1 0 3.8 0a1.9 1.9 0 1 0 -3.8 0M1266.4 962.8a1.9 1.9 0 1 0 3.8 0a1.9 1.9 0 1 0 -3.8 0M1272.8 962.8a1.9 1.9 0 1 0 3.8 0a1.9 1.9 0 1 0 -3.8 0M1263.2 968.6a1.9 1.9 0 1 0 3.8 0a1.9 1.9 0 1 0 -3.8 0M1269.6 968.6a1.9 1.9 0 1 0 3.8 0a1.9 1.9 0 1 0 -3.8 0M1276 968.6a1.9 1.9 0 1 0 3.8 0a1.9 1.9 0 1 0 -3.8 0M1250.4 974.4a1.9 1.9 0 1 0 3.8 0a1.9 1.9 0 1 0 -3.8 0M1256.8 974.4a1.9 1.9 0 1 0 3.8 0a1.9 1.9 0 1 0 -3.8 0M1263.2 974.4a1.9 1.9 0 1 0 3.8 0a1.9 1.9 0 1 0 -3.8 0M1269.6 974.4a1.9 1.9 0 1 0 3.8 0a1.9 1.9 0 1 0 -3.8 0M1276 974.4a1.9 1.9 0 1 0 3.8 0a1.9 1.9 0 1 0 -3.8 0M1282.4 974.4a1.9 1.9 0 1 0 3.8 0a1.9 1.9 0 1 0 -3.8 0M1288.8 974.4a1.9 1.9 0 1 0 3.8 0a1.9 1.9 0 1 0 -3.8 0M1253.6 980.2a1.9 1.9 0 1 0 3.8 0a1.9 1.9 0 1 0 -3.8 0M1260 980.2a1.9 1.9 0 1 0 3.8 0a1.9 1.9 0 1 0 -3.8 0M1266.4 980.2a1.9 1.9 0 1 0 3.8 0a1.9 1.9 0 1 0 -3.8 0M1272.8 980.2a1.9 1.9 0 1 0 3.8 0a1.9 1.9 0 1 0 -3.8 0M1279.2 980.2a1.9 1.9 0 1 0 3.8 0a1.9 1.9 0 1 0 -3.8 0M1285.6 980.2a1.9 1.9 0 1 0 3.8 0a1.9 1.9 0 1 0 -3.8 0M1256.8 986a1.9 1.9 0 1 0 3.8 0a1.9 1.9 0 1 0 -3.8 0M1263.2 986a1.9 1.9 0 1 0 3.8 0a1.9 1.9 0 1 0 -3.8 0M1269.6 986a1.9 1.9 0 1 0 3.8 0a1.9 1.9 0 1 0 -3.8 0M1276 986a1.9 1.9 0 1 0 3.8 0a1.9 1.9 0 1 0 -3.8 0M1282.4 986a1.9 1.9 0 1 0 3.8 0a1.9 1.9 0 1 0 -3.8 0M1250.4 991.8a1.9 1.9 0 1 0 3.8 0a1.9 1.9 0 1 0 -3.8 0M1256.8 991.8a1.9 1.9 0 1 0 3.8 0a1.9 1.9 0 1 0 -3.8 0M1263.2 991.8a1.9 1.9 0 1 0 3.8 0a1.9 1.9 0 1 0 -3.8 0M1269.6 991.8a1.9 1.9 0 1 0 3.8 0a1.9 1.9 0 1 0 -3.8 0M1276 991.8a1.9 1.9 0 1 0 3.8 0a1.9 1.9 0 1 0 -3.8 0M1282.4 991.8a1.9 1.9 0 1 0 3.8 0a1.9 1.9 0 1 0 -3.8 0M1288.8 991.8a1.9 1.9 0 1 0 3.8 0a1.9 1.9 0 1 0 -3.8 0M1253.6 997.6a1.9 1.9 0 1 0 3.8 0a1.9 1.9 0 1 0 -3.8 0M1260 997.6a1.9 1.9 0 1 0 3.8 0a1.9 1.9 0 1 0 -3.8 0M1266.4 997.6a1.9 1.9 0 1 0 3.8 0a1.9 1.9 0 1 0 -3.8 0M1272.8 997.6a1.9 1.9 0 1 0 3.8 0a1.9 1.9 0 1 0 -3.8 0M1279.2 997.6a1.9 1.9 0 1 0 3.8 0a1.9 1.9 0 1 0 -3.8 0M1285.6 997.6a1.9 1.9 0 1 0 3.8 0a1.9 1.9 0 1 0 -3.8 0M1250.4 1003.4a1.9 1.9 0 1 0 3.8 0a1.9 1.9 0 1 0 -3.8 0M1256.8 1003.4a1.9 1.9 0 1 0 3.8 0a1.9 1.9 0 1 0 -3.8 0M1263.2 1003.4a1.9 1.9 0 1 0 3.8 0a1.9 1.9 0 1 0 -3.8 0M1269.6 1003.4a1.9 1.9 0 1 0 3.8 0a1.9 1.9 0 1 0 -3.8 0M1276 1003.4a1.9 1.9 0 1 0 3.8 0a1.9 1.9 0 1 0 -3.8 0M1282.4 1003.4a1.9 1.9 0 1 0 3.8 0a1.9 1.9 0 1 0 -3.8 0M1288.8 1003.4a1.9 1.9 0 1 0 3.8 0a1.9 1.9 0 1 0 -3.8 0M1250.4 1009.2a1.9 1.9 0 1 0 3.8 0a1.9 1.9 0 1 0 -3.8 0M1256.8 1009.2a1.9 1.9 0 1 0 3.8 0a1.9 1.9 0 1 0 -3.8 0M1263.2 1009.2a1.9 1.9 0 1 0 3.8 0a1.9 1.9 0 1 0 -3.8 0M1269.6 1009.2a1.9 1.9 0 1 0 3.8 0a1.9 1.9 0 1 0 -3.8 0M1276 1009.2a1.9 1.9 0 1 0 3.8 0a1.9 1.9 0 1 0 -3.8 0M1282.4 1009.2a1.9 1.9 0 1 0 3.8 0a1.9 1.9 0 1 0 -3.8 0M1288.8 1009.2a1.9 1.9 0 1 0 3.8 0a1.9 1.9 0 1 0 -3.8 0M1263.2 1012.1a1.9 1.9 0 1 0 3.8 0a1.9 1.9 0 1 0 -3.8 0M1269.6 1012.1a1.9 1.9 0 1 0 3.8 0a1.9 1.9 0 1 0 -3.8 0M1276 1012.1a1.9 1.9 0 1 0 3.8 0a1.9 1.9 0 1 0 -3.8 0M1260 1015a1.9 1.9 0 1 0 3.8 0a1.9 1.9 0 1 0 -3.8 0M1266.4 1015a1.9 1.9 0 1 0 3.8 0a1.9 1.9 0 1 0 -3.8 0M1272.8 1015a1.9 1.9 0 1 0 3.8 0a1.9 1.9 0 1 0 -3.8 0M1279.2 1015a1.9 1.9 0 1 0 3.8 0a1.9 1.9 0 1 0 -3.8 0" fill="#3a3a3a"/>
<path d="M1341.7 727.76l2 2l-2 2l-2 -2zM1341.7 731.16l2 2l-2 2l-2 -2zM1341.7 744.78l2 2l-2 2l-2 -2zM1341.7 766.91l2 2l-2 2l-2 -2zM1338.2 770.8l2 2l-2 2l-2 -2zM1345.2 770.8l2 2l-2 2l-2 -2zM1341.7 780.52l2 2l-2 2l-2 -2zM1341.7 792.44l2 2l-2 2l-2 -2zM1341.7 797.54l2 2l-2 2l-2 -2zM1341.7 806.05l2 2l-2 2l-2 -2zM1341.7 811.16l2 2l-2 2l-2 -2zM1331.2 832.4l2 2l-2 2l-2 -2zM1338.2 832.4l2 2l-2 2l-2 -2zM1345.2 832.4l2 2l-2 2l-2 -2zM1352.2 832.4l2 2l-2 2l-2 -2zM1331.2 838l2 2l-2 2l-2 -2zM1338.2 838l2 2l-2 2l-2 -2zM1345.2 838l2 2l-2 2l-2 -2zM1352.2 838l2 2l-2 2l-2 -2zM1341.7 840.8l2 2l-2 2l-2 -2zM1338.2 849.2l2 2l-2 2l-2 -2zM1345.2 849.2l2 2l-2 2l-2 -2zM1338.2 854.8l2 2l-2 2l-2 -2zM1345.2 854.8l2 2l-2 2l-2 -2zM1331.2 860.4l2 2l-2 2l-2 -2zM1338.2 860.4l2 2l-2 2l-2 -2zM1345.2 860.4l2 2l-2 2l-2 -2zM1352.2 860.4l2 2l-2 2l-2 -2zM1341.7 866.33l2 2l-2 2l-2 -2zM1334.7 871.6l2 2l-2 2l-2 -2zM1341.7 871.6l2 2l-2 2l-2 -2zM1348.7 871.6l2 2l-2 2l-2 -2zM1338.2 877.2l2 2l-2 2l-2 -2zM1345.2 877.2l2 2l-2 2l-2 -2zM1331.2 882.8l2 2l-2 2l-2 -2zM1338.2 882.8l2 2l-2 2l-2 -2zM1345.2 882.8l2 2l-2 2l-2 -2zM1352.2 882.8l2 2l-2 2l-2 -2zM1341.7 885.6l2 2l-2 2l-2 -2zM1334.7 888.4l2 2l-2 2l-2 -2zM1341.7 888.4l2 2l-2 2l-2 -2zM1348.7 888.4l2 2l-2 2l-2 -2zM1341.7 896.59l2 2l-2 2l-2 -2zM1341.7 902.39l2 2l-2 2l-2 -2zM1334.7 905.2l2 2l-2 2l-2 -2zM1341.7 905.2l2 2l-2 2l-2 -2zM1348.7 905.2l2 2l-2 2l-2 -2zM1331.2 910.8l2 2l-2 2l-2 -2zM1338.2 910.8l2 2l-2 2l-2 -2zM1345.2 910.8l2 2l-2 2l-2 -2zM1352.2 910.8l2 2l-2 2l-2 -2zM1338.2 913.6l2 2l-2 2l-2 -2zM1345.2 913.6l2 2l-2 2l-2 -2zM1334.7 916.4l2 2l-2 2l-2 -2zM1341.7 916.4l2 2l-2 2l-2 -2zM1348.7 916.4l2 2l-2 2l-2 -2zM1331.2 927.6l2 2l-2 2l-2 -2zM1338.2 927.6l2 2l-2 2l-2 -2zM1345.2 927.6l2 2l-2 2l-2 -2zM1352.2 927.6l2 2l-2 2l-2 -2zM1341.7 930.4l2 2l-2 2l-2 -2zM1338.2 933.2l2 2l-2 2l-2 -2zM1345.2 933.2l2 2l-2 2l-2 -2zM1334.7 938.8l2 2l-2 2l-2 -2zM1341.7 938.8l2 2l-2 2l-2 -2zM1348.7 938.8l2 2l-2 2l-2 -2zM1338.2 944.4l2 2l-2 2l-2 -2zM1345.2 944.4l2 2l-2 2l-2 -2zM1331.2 950l2 2l-2 2l-2 -2zM1338.2 950l2 2l-2 2l-2 -2zM1345.2 950l2 2l-2 2l-2 -2zM1352.2 950l2 2l-2 2l-2 -2zM1331.2 955.6l2 2l-2 2l-2 -2zM1338.2 955.6l2 2l-2 2l-2 -2zM1345.2 955.6l2 2l-2 2l-2 -2zM1352.2 955.6l2 2l-2 2l-2 -2zM1341.7 958.4l2 2l-2 2l-2 -2zM1341.7 964.34l2 2l-2 2l-2 -2zM1338.2 972.4l2 2l-2 2l-2 -2zM1345.2 972.4l2 2l-2 2l-2 -2zM1338.45 667.08l2 2l-2 2l-2 -2zM1344.95 667.08l2 2l-2 2l-2 -2zM1341.7 678l2 2l-2 2l-2 -2zM1338.45 681.9l2 2l-2 2l-2 -2zM1344.95 681.9l2 2l-2 2l-2 -2zM1341.7 687.75l2 2l-2 2l-2 -2zM1338.45 691.26l2 2l-2 2l-2 -2zM1344.95 691.26l2 2l-2 2l-2 -2zM1335.2 695.16l2 2l-2 2l-2 -2zM1341.7 695.16l2 2l-2 2l-2 -2zM1348.2 695.16l2 2l-2 2l-2 -2zM1320.7 698.67l2 2l-2 2l-2 -2zM1327.7 698.67l2 2l-2 2l-2 -2zM1334.7 698.67l2 2l-2 2l-2 -2zM1341.7 698.67l2 2l-2 2l-2 -2zM1348.7 698.67l2 2l-2 2l-2 -2zM1355.7 698.67l2 2l-2 2l-2 -2zM1362.7 698.67l2 2l-2 2l-2 -2z" fill="#000"/>
<path d="M1406.4 719.12h4.2l-2.1 3.57zM1413 719.12h4.2l-2.1 3.57zM1403.1 756.22h4.2l-2.1 3.57zM1409.7 756.22h4.2l-2.1 3.57zM1416.3 756.22h4.2l-2.1 3.57zM1409.7 768.93h4.2l-2.1 3.57zM1406.4 777.42h4.2l-2.1 3.57zM1413 777.42h4.2l-2.1 3.57zM1409.7 785.95h4.2l-2.1 3.57zM1406.4 793.32h4.2l-2.1 3.57zM1413 793.32h4.2l-2.1 3.57zM1406.4 803.92h4.2l-2.1 3.57zM1413 803.92h4.2l-2.1 3.57zM1409.7 816.58h4.2l-2.1 3.57zM1406.4 830.42h4.2l-2.1 3.57zM1413 830.42h4.2l-2.1 3.57zM1406.4 846.32h4.2l-2.1 3.57zM1413 846.32h4.2l-2.1 3.57zM1409.7 850.62h4.2l-2.1 3.57zM1399.8 862.22h4.2l-2.1 3.57zM1406.4 862.22h4.2l-2.1 3.57zM1413 862.22h4.2l-2.1 3.57zM1419.6 862.22h4.2l-2.1 3.57zM1409.7 864.87h4.2l-2.1 3.57zM1409.7 880.27h4.2l-2.1 3.57zM1403.1 883.42h4.2l-2.1 3.57zM1409.7 883.42h4.2l-2.1 3.57zM1416.3 883.42h4.2l-2.1 3.57zM1403.1 888.72h4.2l-2.1 3.57zM1409.7 888.72h4.2l-2.1 3.57zM1416.3 888.72h4.2l-2.1 3.57zM1406.4 894.02h4.2l-2.1 3.57zM1413 894.02h4.2l-2.1 3.57zM1403.1 904.62h4.2l-2.1 3.57zM1409.7 904.62h4.2l-2.1 3.57zM1416.3 904.62h4.2l-2.1 3.57zM1399.8 909.92h4.2l-2.1 3.57zM1406.4 909.92h4.2l-2.1 3.57zM1413 909.92h4.2l-2.1 3.57zM1419.6 909.92h4.2l-2.1 3.57zM1406.4 912.57h4.2l-2.1 3.57zM1413 912.57h4.2l-2.1 3.57zM1406.4 915.22h4.2l-2.1 3.57zM1413 915.22h4.2l-2.1 3.57zM1403.1 920.52h4.2l-2.1 3.57zM1409.7 920.52h4.2l-2.1 3.57zM1416.3 920.52h4.2l-2.1 3.57zM1399.8 925.82h4.2l-2.1 3.57zM1406.4 925.82h4.2l-2.1 3.57zM1413 925.82h4.2l-2.1 3.57zM1419.6 925.82h4.2l-2.1 3.57zM1403.1 928.47h4.2l-2.1 3.57zM1409.7 928.47h4.2l-2.1 3.57zM1416.3 928.47h4.2l-2.1 3.57zM1399.8 931.12h4.2l-2.1 3.57zM1406.4 931.12h4.2l-2.1 3.57zM1413 931.12h4.2l-2.1 3.57zM1419.6 931.12h4.2l-2.1 3.57zM1409.7 933.77h4.2l-2.1 3.57zM1403.1 936.42h4.2l-2.1 3.57zM1409.7 936.42h4.2l-2.1 3.57zM1416.3 936.42h4.2l-2.1 3.57zM1406.4 941.72h4.2l-2.1 3.57zM1413 941.72h4.2l-2.1 3.57zM1406.4 947.02h4.2l-2.1 3.57zM1413 947.02h4.2l-2.1 3.57zM1409.7 952.2h4.2l-2.1 3.57zM1399.8 962.92h4.2l-2.1 3.57zM1406.4 962.92h4.2l-2.1 3.57zM1413 962.92h4.2l-2.1 3.57zM1419.6 962.92h4.2l-2.1 3.57zM1403.1 968.22h4.2l-2.1 3.57zM1409.7 968.22h4.2l-2.1 3.57zM1416.3 968.22h4.2l-2.1 3.57zM1399.8 973.52h4.2l-2.1 3.57zM1406.4 973.52h4.2l-2.1 3.57zM1413 973.52h4.2l-2.1 3.57zM1419.6 973.52h4.2l-2.1 3.57zM1399.8 978.82h4.2l-2.1 3.57zM1406.4 978.82h4.2l-2.1 3.57zM1413 978.82h4.2l-2.1 3.57zM1419.6 978.82h4.2l-2.1 3.57zM1409.7 981.47h4.2l-2.1 3.57zM1409.7 982.03h4.2l-2.1 3.57zM1406.4 989.42h4.2l-2.1 3.57zM1413 989.42h4.2l-2.1 3.57zM1409.7 674.42h4.2l-2.1 3.57zM1406.7 693.14h4.2l-2.1 3.57zM1412.7 693.14h4.2l-2.1 3.57z" fill="#000"/>
<line x1="1271.5" y1="968.9" x2="1271.5" y2="975.2" stroke="#000" stroke-width="3.2"/>
<line x1="1260" y1="968.9" x2="1283" y2="968.9" stroke="#000" stroke-width="3.2"/>
<line x1="1341.7" y1="816.2" x2="1341.7" y2="831.7" stroke="#000" stroke-width="3.2"/>
<line x1="1330.2" y1="816.2" x2="1353.2" y2="816.2" stroke="#000" stroke-width="3.2"/>
<line x1="1411.8" y1="869" x2="1411.8" y2="880.6" stroke="#000" stroke-width="3.2"/>
<line x1="1400.3" y1="869" x2="1423.3" y2="869" stroke="#000" stroke-width="3.2"/>
<line x1="1224.7" y1="666.3" x2="1224.7" y2="703.4" stroke="#000" stroke-width="4"/>
<line x1="1224.7" y1="712.6" x2="1224.7" y2="1019.1" stroke="#000" stroke-width="4"/>
<line x1="1209.7" y1="763.8" x2="1224.7" y2="763.8" stroke="#000" stroke-width="4"/>
<text x="1206.7" y="774.15" font-size="27.5" font-weight="bold" stroke="#000" stroke-width="0.82" text-anchor="end">75</text>
<line x1="1209.7" y1="814.86" x2="1224.7" y2="814.86" stroke="#000" stroke-width="4"/>
<text x="1206.7" y="825.21" font-size="27.5" font-weight="bold" stroke="#000" stroke-width="0.82" text-anchor="end">60</text>
<line x1="1209.7" y1="865.92" x2="1224.7" y2="865.92" stroke="#000" stroke-width="4"/>
<text x="1206.7" y="876.27" font-size="27.5" font-weight="bold" stroke="#000" stroke-width="0.82" text-anchor="end">45</text>
<line x1="1209.7" y1="916.98" x2="1224.7" y2="916.98" stroke="#000" stroke-width="4"/>
<text x="1206.7" y="927.33" font-size="27.5" font-weight="bold" stroke="#000" stroke-width="0.82" text-anchor="end">30</text>
<line x1="1209.7" y1="968.04" x2="1224.7" y2="968.04" stroke="#000" stroke-width="4"/>
<text x="1206.7" y="978.38" font-size="27.5" font-weight="bold" stroke="#000" stroke-width="0.82" text-anchor="end">15</text>
<line x1="1209.7" y1="1019.1" x2="1224.7" y2="1019.1" stroke="#000" stroke-width="4"/>
<text x="1206.7" y="1029.44" font-size="27.5" font-weight="bold" stroke="#000" stroke-width="0.82" text-anchor="end">0</text>
<line x1="1209.7" y1="668.3" x2="1224.7" y2="668.3" stroke="#000" stroke-width="4"/>
<text x="1206.7" y="678.64" font-size="27.5" font-weight="bold" stroke="#000" stroke-width="0.82" text-anchor="end">180</text>
<line x1="1209.7" y1="690.2" x2="1224.7" y2="690.2" stroke="#000" stroke-width="4"/>
<text x="1206.7" y="700.55" font-size="27.5" font-weight="bold" stroke="#000" stroke-width="0.82" text-anchor="end">125</text>
<line x1="1215.7" y1="703.4" x2="1233.7" y2="703.4" stroke="#000" stroke-width="4"/>
<line x1="1215.7" y1="712.6" x2="1233.7" y2="712.6" stroke="#000" stroke-width="4"/>
<text x="1206.7" y="723.95" font-size="27.5" font-weight="bold" stroke="#000" stroke-width="0.82" text-anchor="end">90</text>
<line x1="1209.6" y1="1019.1" x2="1459.9" y2="1019.1" stroke="#000" stroke-width="4"/>
<line x1="1271.5" y1="1019.1" x2="1271.5" y2="1034.1" stroke="#000" stroke-width="4"/>
<text x="1271.5" y="1061.55" font-size="27.5" font-weight="bold" stroke="#000" stroke-width="0.82" text-anchor="middle">C</text>
<line x1="1341.7" y1="1019.1" x2="1341.7" y2="1034.1" stroke="#000" stroke-width="4"/>
<text x="1341.7" y="1061.55" font-size="27.5" font-weight="bold" stroke="#000" stroke-width="0.82" text-anchor="middle">H</text>
<line x1="1411.8" y1="1019.1" x2="1411.8" y2="1034.1" stroke="#000" stroke-width="4"/>
<text x="1411.8" y="1061.55" font-size="27.5" font-weight="bold" stroke="#000" stroke-width="0.82" text-anchor="middle">Y</text>
<text transform="translate(1134 844) rotate(-90)" x="0" y="10.31" font-size="28.8" font-weight="bold" stroke="#000" stroke-width="0.86" text-anchor="middle">HOMA-IR Index</text>
<polyline points="1264.8,669.6 1264.8,651.9 1334.5,651.9 1334.5,669.6" fill="none" stroke="#000" stroke-width="1.5" stroke-linejoin="miter"/>
<polyline points="1345.6,669.6 1345.6,651.9 1416.2,651.9 1416.2,669.6" fill="none" stroke="#000" stroke-width="1.5" stroke-linejoin="miter"/>
<text x="1301.68" y="645.89" font-size="33.05" font-weight="bold" text-anchor="middle" letter-spacing="3.37" stroke="#000" stroke-width="0.7" style="font-family:'DejaVu Sans',sans-serif">***</text>
<text x="1381.5" y="636.46" font-size="32" text-anchor="middle">##</text>
<text transform="translate(1118.81 608) scale(1 1)" font-size="57" stroke="#000" stroke-width="0.7">g</text>
</g>
<g>
<line x1="203.7" y1="1158.4" x2="203.7" y2="1560.9" stroke="#000" stroke-width="4"/>
<line x1="190.7" y1="1161" x2="205.7" y2="1161" stroke="#000" stroke-width="4"/>
<text x="187.2" y="1168.98" font-size="22.3" font-weight="bold" stroke="#000" stroke-width="0.67" text-anchor="end">30</text>
<line x1="190.7" y1="1227.65" x2="205.7" y2="1227.65" stroke="#000" stroke-width="4"/>
<text x="187.2" y="1235.63" font-size="22.3" font-weight="bold" stroke="#000" stroke-width="0.67" text-anchor="end">25</text>
<line x1="190.7" y1="1294.3" x2="205.7" y2="1294.3" stroke="#000" stroke-width="4"/>
<text x="187.2" y="1302.28" font-size="22.3" font-weight="bold" stroke="#000" stroke-width="0.67" text-anchor="end">20</text>
<line x1="190.7" y1="1360.95" x2="205.7" y2="1360.95" stroke="#000" stroke-width="4"/>
<text x="187.2" y="1368.93" font-size="22.3" font-weight="bold" stroke="#000" stroke-width="0.67" text-anchor="end">15</text>
<line x1="190.7" y1="1427.6" x2="205.7" y2="1427.6" stroke="#000" stroke-width="4"/>
<text x="187.2" y="1435.58" font-size="22.3" font-weight="bold" stroke="#000" stroke-width="0.67" text-anchor="end">10</text>
<line x1="190.7" y1="1494.25" x2="205.7" y2="1494.25" stroke="#000" stroke-width="4"/>
<text x="187.2" y="1502.23" font-size="22.3" font-weight="bold" stroke="#000" stroke-width="0.67" text-anchor="end">5</text>
<line x1="190.7" y1="1560.9" x2="205.7" y2="1560.9" stroke="#000" stroke-width="4"/>
<text x="187.2" y="1568.88" font-size="22.3" font-weight="bold" stroke="#000" stroke-width="0.67" text-anchor="end">0</text>
<line x1="188.7" y1="1560.9" x2="706.34" y2="1560.9" stroke="#000" stroke-width="4"/>
<line x1="203.7" y1="1560.9" x2="203.7" y2="1573.9" stroke="#000" stroke-width="4"/>
<text x="203.7" y="1598.98" font-size="22.3" font-weight="bold" stroke="#000" stroke-width="0.67" text-anchor="middle">0</text>
<line x1="266.28" y1="1560.9" x2="266.28" y2="1573.9" stroke="#000" stroke-width="4"/>
<text x="266.28" y="1598.98" font-size="22.3" font-weight="bold" stroke="#000" stroke-width="0.67" text-anchor="middle">15</text>
<line x1="328.86" y1="1560.9" x2="328.86" y2="1573.9" stroke="#000" stroke-width="4"/>
<text x="328.86" y="1598.98" font-size="22.3" font-weight="bold" stroke="#000" stroke-width="0.67" text-anchor="middle">30</text>
<line x1="454.02" y1="1560.9" x2="454.02" y2="1573.9" stroke="#000" stroke-width="4"/>
<text x="454.02" y="1598.98" font-size="22.3" font-weight="bold" stroke="#000" stroke-width="0.67" text-anchor="middle">60</text>
<line x1="579.18" y1="1560.9" x2="579.18" y2="1573.9" stroke="#000" stroke-width="4"/>
<text x="579.18" y="1598.98" font-size="22.3" font-weight="bold" stroke="#000" stroke-width="0.67" text-anchor="middle">90</text>
<line x1="704.34" y1="1560.9" x2="704.34" y2="1573.9" stroke="#000" stroke-width="4"/>
<text x="704.34" y="1598.98" font-size="22.3" font-weight="bold" stroke="#000" stroke-width="0.67" text-anchor="middle">120</text>
<text x="455" y="1636.09" font-size="24" font-weight="bold" stroke="#000" stroke-width="0.72" text-anchor="middle">Time (min)</text>
<text transform="translate(140.5 1361.5) rotate(-90)" x="0" y="8.52" font-size="23.8" font-weight="bold" stroke="#000" stroke-width="0.71" text-anchor="middle">Glycemia during oGTT (mmol/L)</text>
<line x1="266.28" y1="1228.32" x2="266.28" y2="1238.98" stroke="#000" stroke-width="1.5"/>
<line x1="259.28" y1="1228.32" x2="273.28" y2="1228.32" stroke="#000" stroke-width="1.5"/>
<line x1="259.28" y1="1238.98" x2="273.28" y2="1238.98" stroke="#000" stroke-width="1.5"/>
<line x1="328.86" y1="1196.99" x2="328.86" y2="1215.65" stroke="#000" stroke-width="1.5"/>
<line x1="321.86" y1="1196.99" x2="335.86" y2="1196.99" stroke="#000" stroke-width="1.5"/>
<line x1="321.86" y1="1215.65" x2="335.86" y2="1215.65" stroke="#000" stroke-width="1.5"/>
<line x1="454.02" y1="1195.66" x2="454.02" y2="1218.32" stroke="#000" stroke-width="1.5"/>
<line x1="447.02" y1="1195.66" x2="461.02" y2="1195.66" stroke="#000" stroke-width="1.5"/>
<line x1="447.02" y1="1218.32" x2="461.02" y2="1218.32" stroke="#000" stroke-width="1.5"/>
<line x1="579.18" y1="1212.99" x2="579.18" y2="1238.31" stroke="#000" stroke-width="1.5"/>
<line x1="572.18" y1="1212.99" x2="586.18" y2="1212.99" stroke="#000" stroke-width="1.5"/>
<line x1="572.18" y1="1238.31" x2="586.18" y2="1238.31" stroke="#000" stroke-width="1.5"/>
<line x1="704.34" y1="1242.31" x2="704.34" y2="1270.31" stroke="#000" stroke-width="1.5"/>
<line x1="697.34" y1="1242.31" x2="711.34" y2="1242.31" stroke="#000" stroke-width="1.5"/>
<line x1="697.34" y1="1270.31" x2="711.34" y2="1270.31" stroke="#000" stroke-width="1.5"/>
<polyline points="203.7,1382.28 266.28,1233.65 328.86,1206.32 454.02,1206.99 579.18,1225.65 704.34,1256.31" fill="none" stroke="#000" stroke-width="1.5" stroke-linejoin="miter"/>
<polygon points="203.7,1374.33 211.05,1388.03 196.35,1388.03" fill="#86b7f5" stroke="#000" stroke-width="1.5" stroke-linejoin="miter"/>
<polygon points="266.28,1225.7 273.63,1239.4 258.93,1239.4" fill="#86b7f5" stroke="#000" stroke-width="1.5" stroke-linejoin="miter"/>
<polygon points="328.86,1198.38 336.21,1212.08 321.51,1212.08" fill="#86b7f5" stroke="#000" stroke-width="1.5" stroke-linejoin="miter"/>
<polygon points="454.02,1199.04 461.37,1212.74 446.67,1212.74" fill="#86b7f5" stroke="#000" stroke-width="1.5" stroke-linejoin="miter"/>
<polygon points="579.18,1217.7 586.53,1231.4 571.83,1231.4" fill="#86b7f5" stroke="#000" stroke-width="1.5" stroke-linejoin="miter"/>
<polygon points="704.34,1248.36 711.69,1262.06 696.99,1262.06" fill="#86b7f5" stroke="#000" stroke-width="1.5" stroke-linejoin="miter"/>
<line x1="266.28" y1="1215.65" x2="266.28" y2="1228.98" stroke="#000" stroke-width="1.5"/>
<line x1="259.28" y1="1215.65" x2="273.28" y2="1215.65" stroke="#000" stroke-width="1.5"/>
<line x1="259.28" y1="1228.98" x2="273.28" y2="1228.98" stroke="#000" stroke-width="1.5"/>
<line x1="328.86" y1="1177.66" x2="328.86" y2="1198.99" stroke="#000" stroke-width="1.5"/>
<line x1="321.86" y1="1177.66" x2="335.86" y2="1177.66" stroke="#000" stroke-width="1.5"/>
<line x1="321.86" y1="1198.99" x2="335.86" y2="1198.99" stroke="#000" stroke-width="1.5"/>
<line x1="454.02" y1="1186.33" x2="454.02" y2="1212.99" stroke="#000" stroke-width="1.5"/>
<line x1="447.02" y1="1186.33" x2="461.02" y2="1186.33" stroke="#000" stroke-width="1.5"/>
<line x1="447.02" y1="1212.99" x2="461.02" y2="1212.99" stroke="#000" stroke-width="1.5"/>
<line x1="579.18" y1="1206.99" x2="579.18" y2="1234.98" stroke="#000" stroke-width="1.5"/>
<line x1="572.18" y1="1206.99" x2="586.18" y2="1206.99" stroke="#000" stroke-width="1.5"/>
<line x1="572.18" y1="1234.98" x2="586.18" y2="1234.98" stroke="#000" stroke-width="1.5"/>
<line x1="704.34" y1="1226.98" x2="704.34" y2="1254.98" stroke="#000" stroke-width="1.5"/>
<line x1="697.34" y1="1226.98" x2="711.34" y2="1226.98" stroke="#000" stroke-width="1.5"/>
<line x1="697.34" y1="1254.98" x2="711.34" y2="1254.98" stroke="#000" stroke-width="1.5"/>
<polyline points="203.7,1380.28 266.28,1222.32 328.86,1188.33 454.02,1199.66 579.18,1220.99 704.34,1240.98" fill="none" stroke="#000" stroke-width="1.5" stroke-linejoin="miter"/>
<rect x="196.85" y="1373.43" width="13.7" height="13.7" fill="#fca0a0" stroke="#000" stroke-width="1.5"/>
<rect x="259.43" y="1215.47" width="13.7" height="13.7" fill="#fca0a0" stroke="#000" stroke-width="1.5"/>
<rect x="322.01" y="1181.48" width="13.7" height="13.7" fill="#fca0a0" stroke="#000" stroke-width="1.5"/>
<rect x="447.17" y="1192.81" width="13.7" height="13.7" fill="#fca0a0" stroke="#000" stroke-width="1.5"/>
<rect x="572.33" y="1214.14" width="13.7" height="13.7" fill="#fca0a0" stroke="#000" stroke-width="1.5"/>
<rect x="697.49" y="1234.13" width="13.7" height="13.7" fill="#fca0a0" stroke="#000" stroke-width="1.5"/>
<line x1="328.86" y1="1284.3" x2="328.86" y2="1304.3" stroke="#000" stroke-width="1.5"/>
<line x1="321.86" y1="1284.3" x2="335.86" y2="1284.3" stroke="#000" stroke-width="1.5"/>
<line x1="321.86" y1="1304.3" x2="335.86" y2="1304.3" stroke="#000" stroke-width="1.5"/>
<line x1="454.02" y1="1321.63" x2="454.02" y2="1344.29" stroke="#000" stroke-width="1.5"/>
<line x1="447.02" y1="1321.63" x2="461.02" y2="1321.63" stroke="#000" stroke-width="1.5"/>
<line x1="447.02" y1="1344.29" x2="461.02" y2="1344.29" stroke="#000" stroke-width="1.5"/>
<line x1="579.18" y1="1342.29" x2="579.18" y2="1364.95" stroke="#000" stroke-width="1.5"/>
<line x1="572.18" y1="1342.29" x2="586.18" y2="1342.29" stroke="#000" stroke-width="1.5"/>
<line x1="572.18" y1="1364.95" x2="586.18" y2="1364.95" stroke="#000" stroke-width="1.5"/>
<line x1="704.34" y1="1373.61" x2="704.34" y2="1394.94" stroke="#000" stroke-width="1.5"/>
<line x1="697.34" y1="1373.61" x2="711.34" y2="1373.61" stroke="#000" stroke-width="1.5"/>
<line x1="697.34" y1="1394.94" x2="711.34" y2="1394.94" stroke="#000" stroke-width="1.5"/>
<polyline points="203.7,1414.27 266.28,1295.63 328.86,1294.3 454.02,1332.96 579.18,1353.62 704.34,1384.28" fill="none" stroke="#000" stroke-width="1.5" stroke-linejoin="miter"/>
<circle cx="203.7" cy="1414.27" r="7.1" fill="#fff" stroke="#000" stroke-width="1.5"/>
<circle cx="266.28" cy="1295.63" r="7.1" fill="#fff" stroke="#000" stroke-width="1.5"/>
<circle cx="328.86" cy="1294.3" r="7.1" fill="#fff" stroke="#000" stroke-width="1.5"/>
<circle cx="454.02" cy="1332.96" r="7.1" fill="#fff" stroke="#000" stroke-width="1.5"/>
<circle cx="579.18" cy="1353.62" r="7.1" fill="#fff" stroke="#000" stroke-width="1.5"/>
<circle cx="704.34" cy="1384.28" r="7.1" fill="#fff" stroke="#000" stroke-width="1.5"/>
<line x1="231.3" y1="1425" x2="262.3" y2="1425" stroke="#000" stroke-width="1.5"/>
<circle cx="246.8" cy="1425" r="7.1" fill="#fff" stroke="#000" stroke-width="1.5"/>
<text x="279.7" y="1431.8" font-size="19">C1</text>
<line x1="231.3" y1="1455" x2="262.3" y2="1455" stroke="#000" stroke-width="1.5"/>
<rect x="239.95" y="1448.15" width="13.7" height="13.7" fill="#fca0a0" stroke="#000" stroke-width="1.5"/>
<text x="279.7" y="1461.8" font-size="19">H1</text>
<line x1="231.3" y1="1485" x2="262.3" y2="1485" stroke="#000" stroke-width="1.5"/>
<polygon points="246.8,1477.05 254.15,1490.75 239.45,1490.75" fill="#86b7f5" stroke="#000" stroke-width="1.5" stroke-linejoin="miter"/>
<text x="279.7" y="1491.8" font-size="19">Y1</text>
<text x="267.31" y="1211.89" font-size="16.41" font-weight="bold" text-anchor="middle" letter-spacing="1.82" stroke="#000" stroke-width="0.35" style="font-family:'DejaVu Sans',sans-serif">*</text>
<text x="329.91" y="1174.59" font-size="16.41" font-weight="bold" text-anchor="middle" letter-spacing="1.82" stroke="#000" stroke-width="0.35" style="font-family:'DejaVu Sans',sans-serif">***</text>
<text x="454.91" y="1183.39" font-size="16.41" font-weight="bold" text-anchor="middle" letter-spacing="1.82" stroke="#000" stroke-width="0.35" style="font-family:'DejaVu Sans',sans-serif">***</text>
<text x="580.21" y="1204.39" font-size="16.41" font-weight="bold" text-anchor="middle" letter-spacing="1.82" stroke="#000" stroke-width="0.35" style="font-family:'DejaVu Sans',sans-serif">***</text>
<text x="705.71" y="1225.89" font-size="16.41" font-weight="bold" text-anchor="middle" letter-spacing="1.82" stroke="#000" stroke-width="0.35" style="font-family:'DejaVu Sans',sans-serif">***</text>
<text transform="translate(125.82 1106.8) scale(1 1)" font-size="57" stroke="#000" stroke-width="0.7">h</text>
</g>
<g>
<line x1="920" y1="1151.5" x2="920" y2="1559.4" stroke="#000" stroke-width="4"/>
<line x1="907" y1="1153.4" x2="922" y2="1153.4" stroke="#000" stroke-width="4"/>
<text x="903.5" y="1161.38" font-size="22.3" font-weight="bold" stroke="#000" stroke-width="0.67" text-anchor="end">5</text>
<line x1="907" y1="1234.6" x2="922" y2="1234.6" stroke="#000" stroke-width="4"/>
<text x="903.5" y="1242.58" font-size="22.3" font-weight="bold" stroke="#000" stroke-width="0.67" text-anchor="end">4</text>
<line x1="907" y1="1315.8" x2="922" y2="1315.8" stroke="#000" stroke-width="4"/>
<text x="903.5" y="1323.78" font-size="22.3" font-weight="bold" stroke="#000" stroke-width="0.67" text-anchor="end">3</text>
<line x1="907" y1="1397" x2="922" y2="1397" stroke="#000" stroke-width="4"/>
<text x="903.5" y="1404.98" font-size="22.3" font-weight="bold" stroke="#000" stroke-width="0.67" text-anchor="end">2</text>
<line x1="907" y1="1478.2" x2="922" y2="1478.2" stroke="#000" stroke-width="4"/>
<text x="903.5" y="1486.18" font-size="22.3" font-weight="bold" stroke="#000" stroke-width="0.67" text-anchor="end">1</text>
<line x1="907" y1="1559.4" x2="922" y2="1559.4" stroke="#000" stroke-width="4"/>
<text x="903.5" y="1567.38" font-size="22.3" font-weight="bold" stroke="#000" stroke-width="0.67" text-anchor="end">0</text>
<line x1="905" y1="1559.4" x2="1429.36" y2="1559.4" stroke="#000" stroke-width="4"/>
<line x1="920" y1="1559.4" x2="920" y2="1572.4" stroke="#000" stroke-width="4"/>
<text x="920" y="1596.98" font-size="22.3" font-weight="bold" stroke="#000" stroke-width="0.67" text-anchor="middle">0</text>
<line x1="983.42" y1="1559.4" x2="983.42" y2="1572.4" stroke="#000" stroke-width="4"/>
<line x1="1046.84" y1="1559.4" x2="1046.84" y2="1572.4" stroke="#000" stroke-width="4"/>
<line x1="1173.68" y1="1559.4" x2="1173.68" y2="1572.4" stroke="#000" stroke-width="4"/>
<text x="1173.68" y="1596.98" font-size="22.3" font-weight="bold" stroke="#000" stroke-width="0.67" text-anchor="middle">60</text>
<line x1="1427.36" y1="1559.4" x2="1427.36" y2="1572.4" stroke="#000" stroke-width="4"/>
<text x="1427.36" y="1596.98" font-size="22.3" font-weight="bold" stroke="#000" stroke-width="0.67" text-anchor="middle">120</text>
<text x="983.42" y="1594.58" font-size="22.3" font-weight="bold" stroke="#000" stroke-width="0.67" text-anchor="middle">15</text>
<text x="1046.84" y="1594.58" font-size="22.3" font-weight="bold" stroke="#000" stroke-width="0.67" text-anchor="middle">30</text>
<text x="1175" y="1636.09" font-size="24" font-weight="bold" stroke="#000" stroke-width="0.72" text-anchor="middle">Time (min)</text>
<text transform="translate(869 1358.5) rotate(-90)" x="0" y="8.59" font-size="24" font-weight="bold" stroke="#000" stroke-width="0.72" text-anchor="middle">Insulinemia during oGTT (ng/mL)</text>
<line x1="920" y1="1318.24" x2="920" y2="1388.07" stroke="#000" stroke-width="1.5"/>
<line x1="913" y1="1318.24" x2="927" y2="1318.24" stroke="#000" stroke-width="1.5"/>
<line x1="913" y1="1388.07" x2="927" y2="1388.07" stroke="#000" stroke-width="1.5"/>
<line x1="983.42" y1="1309.3" x2="983.42" y2="1384.01" stroke="#000" stroke-width="1.5"/>
<line x1="976.42" y1="1309.3" x2="990.42" y2="1309.3" stroke="#000" stroke-width="1.5"/>
<line x1="976.42" y1="1384.01" x2="990.42" y2="1384.01" stroke="#000" stroke-width="1.5"/>
<line x1="1046.84" y1="1358.84" x2="1046.84" y2="1404.31" stroke="#000" stroke-width="1.5"/>
<line x1="1039.84" y1="1358.84" x2="1053.84" y2="1358.84" stroke="#000" stroke-width="1.5"/>
<line x1="1039.84" y1="1404.31" x2="1053.84" y2="1404.31" stroke="#000" stroke-width="1.5"/>
<line x1="1173.68" y1="1357.21" x2="1173.68" y2="1407.56" stroke="#000" stroke-width="1.5"/>
<line x1="1166.68" y1="1357.21" x2="1180.68" y2="1357.21" stroke="#000" stroke-width="1.5"/>
<line x1="1166.68" y1="1407.56" x2="1180.68" y2="1407.56" stroke="#000" stroke-width="1.5"/>
<line x1="1427.36" y1="1386.44" x2="1427.36" y2="1423.8" stroke="#000" stroke-width="1.5"/>
<line x1="1420.36" y1="1386.44" x2="1434.36" y2="1386.44" stroke="#000" stroke-width="1.5"/>
<line x1="1420.36" y1="1423.8" x2="1434.36" y2="1423.8" stroke="#000" stroke-width="1.5"/>
<polyline points="920,1353.15 983.42,1346.66 1046.84,1381.57 1173.68,1382.38 1427.36,1405.12" fill="none" stroke="#000" stroke-width="1.5" stroke-linejoin="miter"/>
<polygon points="920,1345.21 927.35,1358.91 912.65,1358.91" fill="#86b7f5" stroke="#000" stroke-width="1.5" stroke-linejoin="miter"/>
<polygon points="983.42,1338.71 990.77,1352.41 976.07,1352.41" fill="#86b7f5" stroke="#000" stroke-width="1.5" stroke-linejoin="miter"/>
<polygon points="1046.84,1373.63 1054.19,1387.33 1039.49,1387.33" fill="#86b7f5" stroke="#000" stroke-width="1.5" stroke-linejoin="miter"/>
<polygon points="1173.68,1374.44 1181.03,1388.14 1166.33,1388.14" fill="#86b7f5" stroke="#000" stroke-width="1.5" stroke-linejoin="miter"/>
<polygon points="1427.36,1397.17 1434.71,1410.87 1420.01,1410.87" fill="#86b7f5" stroke="#000" stroke-width="1.5" stroke-linejoin="miter"/>
<line x1="920" y1="1275.2" x2="920" y2="1336.91" stroke="#000" stroke-width="1.5"/>
<line x1="913" y1="1275.2" x2="927" y2="1275.2" stroke="#000" stroke-width="1.5"/>
<line x1="913" y1="1336.91" x2="927" y2="1336.91" stroke="#000" stroke-width="1.5"/>
<line x1="983.42" y1="1194.81" x2="983.42" y2="1271.14" stroke="#000" stroke-width="1.5"/>
<line x1="976.42" y1="1194.81" x2="990.42" y2="1194.81" stroke="#000" stroke-width="1.5"/>
<line x1="976.42" y1="1271.14" x2="990.42" y2="1271.14" stroke="#000" stroke-width="1.5"/>
<line x1="1046.84" y1="1288.19" x2="1046.84" y2="1340.16" stroke="#000" stroke-width="1.5"/>
<line x1="1039.84" y1="1288.19" x2="1053.84" y2="1288.19" stroke="#000" stroke-width="1.5"/>
<line x1="1039.84" y1="1340.16" x2="1053.84" y2="1340.16" stroke="#000" stroke-width="1.5"/>
<line x1="1173.68" y1="1341.78" x2="1173.68" y2="1387.26" stroke="#000" stroke-width="1.5"/>
<line x1="1166.68" y1="1341.78" x2="1180.68" y2="1341.78" stroke="#000" stroke-width="1.5"/>
<line x1="1166.68" y1="1387.26" x2="1180.68" y2="1387.26" stroke="#000" stroke-width="1.5"/>
<line x1="1427.36" y1="1329.6" x2="1427.36" y2="1370.2" stroke="#000" stroke-width="1.5"/>
<line x1="1420.36" y1="1329.6" x2="1434.36" y2="1329.6" stroke="#000" stroke-width="1.5"/>
<line x1="1420.36" y1="1370.2" x2="1434.36" y2="1370.2" stroke="#000" stroke-width="1.5"/>
<polyline points="920,1306.06 983.42,1232.98 1046.84,1314.18 1173.68,1364.52 1427.36,1349.9" fill="none" stroke="#000" stroke-width="1.5" stroke-linejoin="miter"/>
<rect x="913.15" y="1299.21" width="13.7" height="13.7" fill="#fca0a0" stroke="#000" stroke-width="1.5"/>
<rect x="976.57" y="1226.13" width="13.7" height="13.7" fill="#fca0a0" stroke="#000" stroke-width="1.5"/>
<rect x="1039.99" y="1307.33" width="13.7" height="13.7" fill="#fca0a0" stroke="#000" stroke-width="1.5"/>
<rect x="1166.83" y="1357.67" width="13.7" height="13.7" fill="#fca0a0" stroke="#000" stroke-width="1.5"/>
<rect x="1420.51" y="1343.05" width="13.7" height="13.7" fill="#fca0a0" stroke="#000" stroke-width="1.5"/>
<line x1="920" y1="1497.69" x2="920" y2="1517.18" stroke="#000" stroke-width="1.5"/>
<line x1="913" y1="1497.69" x2="927" y2="1497.69" stroke="#000" stroke-width="1.5"/>
<line x1="913" y1="1517.18" x2="927" y2="1517.18" stroke="#000" stroke-width="1.5"/>
<line x1="983.42" y1="1463.58" x2="983.42" y2="1492.82" stroke="#000" stroke-width="1.5"/>
<line x1="976.42" y1="1463.58" x2="990.42" y2="1463.58" stroke="#000" stroke-width="1.5"/>
<line x1="976.42" y1="1492.82" x2="990.42" y2="1492.82" stroke="#000" stroke-width="1.5"/>
<line x1="1046.84" y1="1484.7" x2="1046.84" y2="1507.43" stroke="#000" stroke-width="1.5"/>
<line x1="1039.84" y1="1484.7" x2="1053.84" y2="1484.7" stroke="#000" stroke-width="1.5"/>
<line x1="1039.84" y1="1507.43" x2="1053.84" y2="1507.43" stroke="#000" stroke-width="1.5"/>
<line x1="1173.68" y1="1494.44" x2="1173.68" y2="1515.55" stroke="#000" stroke-width="1.5"/>
<line x1="1166.68" y1="1494.44" x2="1180.68" y2="1494.44" stroke="#000" stroke-width="1.5"/>
<line x1="1166.68" y1="1515.55" x2="1180.68" y2="1515.55" stroke="#000" stroke-width="1.5"/>
<line x1="1427.36" y1="1501.34" x2="1427.36" y2="1524.08" stroke="#000" stroke-width="1.5"/>
<line x1="1420.36" y1="1501.34" x2="1434.36" y2="1501.34" stroke="#000" stroke-width="1.5"/>
<line x1="1420.36" y1="1524.08" x2="1434.36" y2="1524.08" stroke="#000" stroke-width="1.5"/>
<polyline points="920,1507.43 983.42,1478.2 1046.84,1496.06 1173.68,1505 1427.36,1512.71" fill="none" stroke="#000" stroke-width="1.5" stroke-linejoin="miter"/>
<circle cx="920" cy="1507.43" r="7.1" fill="#fff" stroke="#000" stroke-width="1.5"/>
<circle cx="983.42" cy="1478.2" r="7.1" fill="#fff" stroke="#000" stroke-width="1.5"/>
<circle cx="1046.84" cy="1496.06" r="7.1" fill="#fff" stroke="#000" stroke-width="1.5"/>
<circle cx="1173.68" cy="1505" r="7.1" fill="#fff" stroke="#000" stroke-width="1.5"/>
<circle cx="1427.36" cy="1512.71" r="7.1" fill="#fff" stroke="#000" stroke-width="1.5"/>
<line x1="1225" y1="1175.6" x2="1256" y2="1175.6" stroke="#000" stroke-width="1.5"/>
<circle cx="1240.5" cy="1175.6" r="7.1" fill="#fff" stroke="#000" stroke-width="1.5"/>
<text x="1273.8" y="1182.4" font-size="19">C1</text>
<line x1="1225" y1="1205.6" x2="1256" y2="1205.6" stroke="#000" stroke-width="1.5"/>
<rect x="1233.65" y="1198.75" width="13.7" height="13.7" fill="#fca0a0" stroke="#000" stroke-width="1.5"/>
<text x="1273.8" y="1212.4" font-size="19">H1</text>
<line x1="1225" y1="1234.8" x2="1256" y2="1234.8" stroke="#000" stroke-width="1.5"/>
<polygon points="1240.5,1226.85 1247.85,1240.55 1233.15,1240.55" fill="#86b7f5" stroke="#000" stroke-width="1.5" stroke-linejoin="miter"/>
<text x="1273.8" y="1241.6" font-size="19">Y1</text>
<text x="985.11" y="1192.69" font-size="16.41" font-weight="bold" text-anchor="middle" letter-spacing="1.22" stroke="#000" stroke-width="0.35" style="font-family:'DejaVu Sans',sans-serif">***</text>
<text x="983.6" y="1410.14" font-size="20.5" font-weight="bold" stroke="#000" stroke-width="0.61" text-anchor="middle">#</text>
<text x="1047.6" y="1429.64" font-size="20.5" font-weight="bold" stroke="#000" stroke-width="0.61" text-anchor="middle">#</text>
<text transform="translate(858.4 1107) scale(1 1)" font-size="57" stroke="#000" stroke-width="0.7">i</text>
</g>
<g>
<line x1="1621.8" y1="1134.05" x2="1621.8" y2="1556.6" stroke="#000" stroke-width="3.3"/>
<line x1="1608.95" y1="1135.8" x2="1623.45" y2="1135.8" stroke="#000" stroke-width="2.6"/>
<text x="1604.95" y="1143.96" font-size="22.8" font-weight="bold" stroke="#000" stroke-width="0.68" text-anchor="end">4</text>
<line x1="1608.95" y1="1241" x2="1623.45" y2="1241" stroke="#000" stroke-width="2.6"/>
<text x="1604.95" y="1249.16" font-size="22.8" font-weight="bold" stroke="#000" stroke-width="0.68" text-anchor="end">3</text>
<line x1="1608.95" y1="1346.2" x2="1623.45" y2="1346.2" stroke="#000" stroke-width="2.6"/>
<text x="1604.95" y="1354.36" font-size="22.8" font-weight="bold" stroke="#000" stroke-width="0.68" text-anchor="end">2</text>
<line x1="1608.95" y1="1451.4" x2="1623.45" y2="1451.4" stroke="#000" stroke-width="2.6"/>
<text x="1604.95" y="1459.56" font-size="22.8" font-weight="bold" stroke="#000" stroke-width="0.68" text-anchor="end">1</text>
<line x1="1608.95" y1="1556.6" x2="1623.45" y2="1556.6" stroke="#000" stroke-width="2.6"/>
<text x="1604.95" y="1564.76" font-size="22.8" font-weight="bold" stroke="#000" stroke-width="0.68" text-anchor="end">0</text>
<line x1="1606.8" y1="1556.6" x2="1755.54" y2="1556.6" stroke="#000" stroke-width="3.3"/>
<line x1="1621.8" y1="1556.6" x2="1621.8" y2="1569.6" stroke="#000" stroke-width="3.3"/>
<text x="1621.8" y="1596.91" font-size="23.5" font-weight="bold" stroke="#000" stroke-width="0.7" text-anchor="middle">0</text>
<line x1="1687.85" y1="1556.6" x2="1687.85" y2="1569.6" stroke="#000" stroke-width="3.3"/>
<text x="1687.85" y="1596.91" font-size="23.5" font-weight="bold" stroke="#000" stroke-width="0.7" text-anchor="middle">15</text>
<line x1="1753.89" y1="1556.6" x2="1753.89" y2="1569.6" stroke="#000" stroke-width="3.3"/>
<text x="1753.89" y="1596.91" font-size="23.5" font-weight="bold" stroke="#000" stroke-width="0.7" text-anchor="middle">30</text>
<text x="1688" y="1634.45" font-size="25" font-weight="bold" stroke="#000" stroke-width="0.75" text-anchor="middle">Time (min)</text>
<text transform="translate(1569 1346) rotate(-90)" x="0" y="8.88" font-size="24.8" font-weight="bold" stroke="#000" stroke-width="0.74" text-anchor="middle">Plasma C-peptide during oGTT (ng/mL)</text>
<line x1="1621.8" y1="1302.54" x2="1621.8" y2="1355.14" stroke="#000" stroke-width="1.5"/>
<line x1="1614.3" y1="1302.54" x2="1629.3" y2="1302.54" stroke="#000" stroke-width="1.5"/>
<line x1="1614.3" y1="1355.14" x2="1629.3" y2="1355.14" stroke="#000" stroke-width="1.5"/>
<line x1="1687.85" y1="1312.01" x2="1687.85" y2="1371.97" stroke="#000" stroke-width="1.5"/>
<line x1="1680.35" y1="1312.01" x2="1695.35" y2="1312.01" stroke="#000" stroke-width="1.5"/>
<line x1="1680.35" y1="1371.97" x2="1695.35" y2="1371.97" stroke="#000" stroke-width="1.5"/>
<line x1="1753.89" y1="1336.21" x2="1753.89" y2="1381.44" stroke="#000" stroke-width="1.5"/>
<line x1="1746.39" y1="1336.21" x2="1761.39" y2="1336.21" stroke="#000" stroke-width="1.5"/>
<line x1="1746.39" y1="1381.44" x2="1761.39" y2="1381.44" stroke="#000" stroke-width="1.5"/>
<polyline points="1621.8,1328.84 1687.85,1341.99 1753.89,1358.82" fill="none" stroke="#000" stroke-width="1.5" stroke-linejoin="miter"/>
<polygon points="1621.8,1320.14 1629.8,1335.14 1613.8,1335.14" fill="#6fa8ee" stroke="#000" stroke-width="1.5" stroke-linejoin="miter"/>
<polygon points="1687.85,1333.29 1695.85,1348.29 1679.85,1348.29" fill="#6fa8ee" stroke="#000" stroke-width="1.5" stroke-linejoin="miter"/>
<polygon points="1753.89,1350.12 1761.89,1365.12 1745.89,1365.12" fill="#6fa8ee" stroke="#000" stroke-width="1.5" stroke-linejoin="miter"/>
<line x1="1621.8" y1="1231.01" x2="1621.8" y2="1315.17" stroke="#000" stroke-width="1.5"/>
<line x1="1614.3" y1="1231.01" x2="1629.3" y2="1231.01" stroke="#000" stroke-width="1.5"/>
<line x1="1614.3" y1="1315.17" x2="1629.3" y2="1315.17" stroke="#000" stroke-width="1.5"/>
<line x1="1687.85" y1="1205.76" x2="1687.85" y2="1284.66" stroke="#000" stroke-width="1.5"/>
<line x1="1680.35" y1="1205.76" x2="1695.35" y2="1205.76" stroke="#000" stroke-width="1.5"/>
<line x1="1680.35" y1="1284.66" x2="1695.35" y2="1284.66" stroke="#000" stroke-width="1.5"/>
<line x1="1753.89" y1="1239.42" x2="1753.89" y2="1306.75" stroke="#000" stroke-width="1.5"/>
<line x1="1746.39" y1="1239.42" x2="1761.39" y2="1239.42" stroke="#000" stroke-width="1.5"/>
<line x1="1746.39" y1="1306.75" x2="1761.39" y2="1306.75" stroke="#000" stroke-width="1.5"/>
<polyline points="1621.8,1273.09 1687.85,1245.21 1753.89,1273.09" fill="none" stroke="#000" stroke-width="1.5" stroke-linejoin="miter"/>
<rect x="1614.3" y="1265.59" width="15" height="15" fill="#f87a7a" stroke="#000" stroke-width="1.5"/>
<rect x="1680.35" y="1237.71" width="15" height="15" fill="#f87a7a" stroke="#000" stroke-width="1.5"/>
<rect x="1746.39" y="1265.59" width="15" height="15" fill="#f87a7a" stroke="#000" stroke-width="1.5"/>
<line x1="1621.8" y1="1451.93" x2="1621.8" y2="1474.02" stroke="#000" stroke-width="1.5"/>
<line x1="1614.3" y1="1451.93" x2="1629.3" y2="1451.93" stroke="#000" stroke-width="1.5"/>
<line x1="1614.3" y1="1474.02" x2="1629.3" y2="1474.02" stroke="#000" stroke-width="1.5"/>
<line x1="1687.85" y1="1431.73" x2="1687.85" y2="1455.29" stroke="#000" stroke-width="1.5"/>
<line x1="1680.35" y1="1431.73" x2="1695.35" y2="1431.73" stroke="#000" stroke-width="1.5"/>
<line x1="1680.35" y1="1455.29" x2="1695.35" y2="1455.29" stroke="#000" stroke-width="1.5"/>
<line x1="1753.89" y1="1437.93" x2="1753.89" y2="1463.81" stroke="#000" stroke-width="1.5"/>
<line x1="1746.39" y1="1437.93" x2="1761.39" y2="1437.93" stroke="#000" stroke-width="1.5"/>
<line x1="1746.39" y1="1463.81" x2="1761.39" y2="1463.81" stroke="#000" stroke-width="1.5"/>
<polyline points="1621.8,1462.97 1687.85,1443.51 1753.89,1450.87" fill="none" stroke="#000" stroke-width="1.5" stroke-linejoin="miter"/>
<circle cx="1621.8" cy="1462.97" r="7.75" fill="#fff" stroke="#000" stroke-width="1.5"/>
<circle cx="1687.85" cy="1443.51" r="7.75" fill="#fff" stroke="#000" stroke-width="1.5"/>
<circle cx="1753.89" cy="1450.87" r="7.75" fill="#fff" stroke="#000" stroke-width="1.5"/>
<line x1="1697.8" y1="1117.8" x2="1730.8" y2="1117.8" stroke="#000" stroke-width="1.5"/>
<circle cx="1714.3" cy="1117.8" r="7.75" fill="#fff" stroke="#000" stroke-width="1.5"/>
<text x="1749.5" y="1124.96" font-size="20">C1</text>
<line x1="1697.8" y1="1148.4" x2="1730.8" y2="1148.4" stroke="#000" stroke-width="1.5"/>
<rect x="1706.8" y="1140.9" width="15" height="15" fill="#f87a7a" stroke="#000" stroke-width="1.5"/>
<text x="1749.5" y="1155.56" font-size="20">H1</text>
<line x1="1697.8" y1="1178.9" x2="1730.8" y2="1178.9" stroke="#000" stroke-width="1.5"/>
<polygon points="1714.3,1170.2 1722.3,1185.2 1706.3,1185.2" fill="#6fa8ee" stroke="#000" stroke-width="1.5" stroke-linejoin="miter"/>
<text x="1749.5" y="1186.06" font-size="20">Y1</text>
<text x="1641.15" y="1261.92" font-size="23.33" font-weight="bold" text-anchor="middle" letter-spacing="3.1" stroke="#000" stroke-width="0.35" style="font-family:'DejaVu Sans',sans-serif">**</text>
<text transform="translate(1536.7 1106.5) scale(1 1)" font-size="57" stroke="#000" stroke-width="0.7">j</text>
</g>
<g>
<line x1="75.1" y1="1755.9" x2="75.1" y2="2117" stroke="#000" stroke-width="4"/>
<line x1="64.1" y1="1757.9" x2="77.1" y2="1757.9" stroke="#000" stroke-width="4"/>
<text x="61.1" y="1764.88" font-size="19.5" font-weight="bold" stroke="#000" stroke-width="0.58" text-anchor="end">30</text>
<line x1="64.1" y1="1817.75" x2="77.1" y2="1817.75" stroke="#000" stroke-width="4"/>
<text x="61.1" y="1824.73" font-size="19.5" font-weight="bold" stroke="#000" stroke-width="0.58" text-anchor="end">25</text>
<line x1="64.1" y1="1877.6" x2="77.1" y2="1877.6" stroke="#000" stroke-width="4"/>
<text x="61.1" y="1884.58" font-size="19.5" font-weight="bold" stroke="#000" stroke-width="0.58" text-anchor="end">20</text>
<line x1="64.1" y1="1937.45" x2="77.1" y2="1937.45" stroke="#000" stroke-width="4"/>
<text x="61.1" y="1944.43" font-size="19.5" font-weight="bold" stroke="#000" stroke-width="0.58" text-anchor="end">15</text>
<line x1="64.1" y1="1997.3" x2="77.1" y2="1997.3" stroke="#000" stroke-width="4"/>
<text x="61.1" y="2004.28" font-size="19.5" font-weight="bold" stroke="#000" stroke-width="0.58" text-anchor="end">10</text>
<line x1="64.1" y1="2057.15" x2="77.1" y2="2057.15" stroke="#000" stroke-width="4"/>
<text x="61.1" y="2064.13" font-size="19.5" font-weight="bold" stroke="#000" stroke-width="0.58" text-anchor="end">5</text>
<line x1="64.1" y1="2117" x2="77.1" y2="2117" stroke="#000" stroke-width="4"/>
<text x="61.1" y="2123.98" font-size="19.5" font-weight="bold" stroke="#000" stroke-width="0.58" text-anchor="end">0</text>
<line x1="62.1" y1="2117" x2="720.96" y2="2117" stroke="#000" stroke-width="4"/>
<line x1="75.1" y1="2117" x2="75.1" y2="2128" stroke="#000" stroke-width="4"/>
<text x="75.1" y="2150.98" font-size="19.5" font-weight="bold" stroke="#000" stroke-width="0.58" text-anchor="middle">0</text>
<line x1="128.75" y1="2117" x2="128.75" y2="2128" stroke="#000" stroke-width="4"/>
<text x="128.75" y="2150.98" font-size="19.5" font-weight="bold" stroke="#000" stroke-width="0.58" text-anchor="middle">10</text>
<line x1="182.41" y1="2117" x2="182.41" y2="2128" stroke="#000" stroke-width="4"/>
<text x="182.41" y="2150.98" font-size="19.5" font-weight="bold" stroke="#000" stroke-width="0.58" text-anchor="middle">20</text>
<line x1="236.06" y1="2117" x2="236.06" y2="2128" stroke="#000" stroke-width="4"/>
<text x="236.06" y="2150.98" font-size="19.5" font-weight="bold" stroke="#000" stroke-width="0.58" text-anchor="middle">30</text>
<line x1="289.72" y1="2117" x2="289.72" y2="2128" stroke="#000" stroke-width="4"/>
<text x="289.72" y="2150.98" font-size="19.5" font-weight="bold" stroke="#000" stroke-width="0.58" text-anchor="middle">40</text>
<line x1="343.38" y1="2117" x2="343.38" y2="2128" stroke="#000" stroke-width="4"/>
<text x="343.38" y="2150.98" font-size="19.5" font-weight="bold" stroke="#000" stroke-width="0.58" text-anchor="middle">50</text>
<line x1="397.03" y1="2117" x2="397.03" y2="2128" stroke="#000" stroke-width="4"/>
<text x="397.03" y="2150.98" font-size="19.5" font-weight="bold" stroke="#000" stroke-width="0.58" text-anchor="middle">60</text>
<line x1="450.68" y1="2117" x2="450.68" y2="2128" stroke="#000" stroke-width="4"/>
<text x="450.68" y="2150.98" font-size="19.5" font-weight="bold" stroke="#000" stroke-width="0.58" text-anchor="middle">70</text>
<line x1="504.34" y1="2117" x2="504.34" y2="2128" stroke="#000" stroke-width="4"/>
<text x="504.34" y="2150.98" font-size="19.5" font-weight="bold" stroke="#000" stroke-width="0.58" text-anchor="middle">80</text>
<line x1="558" y1="2117" x2="558" y2="2128" stroke="#000" stroke-width="4"/>
<text x="558" y="2150.98" font-size="19.5" font-weight="bold" stroke="#000" stroke-width="0.58" text-anchor="middle">90</text>
<line x1="611.65" y1="2117" x2="611.65" y2="2128" stroke="#000" stroke-width="4"/>
<text x="611.65" y="2150.98" font-size="19.5" font-weight="bold" stroke="#000" stroke-width="0.58" text-anchor="middle">100</text>
<line x1="665.31" y1="2117" x2="665.31" y2="2128" stroke="#000" stroke-width="4"/>
<text x="665.31" y="2150.98" font-size="19.5" font-weight="bold" stroke="#000" stroke-width="0.58" text-anchor="middle">110</text>
<line x1="718.96" y1="2117" x2="718.96" y2="2128" stroke="#000" stroke-width="4"/>
<text x="718.96" y="2150.98" font-size="19.5" font-weight="bold" stroke="#000" stroke-width="0.58" text-anchor="middle">120</text>
<text x="396.5" y="2185.2" font-size="21.5" font-weight="bold" stroke="#000" stroke-width="0.65" text-anchor="middle">Time (min)</text>
<text transform="translate(9 1936) rotate(-90)" x="0" y="7.66" font-size="21.4" font-weight="bold" stroke="#000" stroke-width="0.64" text-anchor="middle">Glucose infusion rate -GIR- (mg/min/kg)</text>
<line x1="128.75" y1="1911.71" x2="128.75" y2="1944.03" stroke="#151515" stroke-width="1.4"/>
<line x1="121.75" y1="1911.71" x2="135.75" y2="1911.71" stroke="#151515" stroke-width="1.4"/>
<line x1="121.75" y1="1944.03" x2="135.75" y2="1944.03" stroke="#151515" stroke-width="1.4"/>
<line x1="182.41" y1="1888.37" x2="182.41" y2="1912.31" stroke="#151515" stroke-width="1.4"/>
<line x1="175.41" y1="1888.37" x2="189.41" y2="1888.37" stroke="#151515" stroke-width="1.4"/>
<line x1="175.41" y1="1912.31" x2="189.41" y2="1912.31" stroke="#151515" stroke-width="1.4"/>
<line x1="236.06" y1="1875.21" x2="236.06" y2="1906.33" stroke="#151515" stroke-width="1.4"/>
<line x1="229.06" y1="1875.21" x2="243.06" y2="1875.21" stroke="#151515" stroke-width="1.4"/>
<line x1="229.06" y1="1906.33" x2="243.06" y2="1906.33" stroke="#151515" stroke-width="1.4"/>
<line x1="289.72" y1="1862.64" x2="289.72" y2="1896.15" stroke="#151515" stroke-width="1.4"/>
<line x1="282.72" y1="1862.64" x2="296.72" y2="1862.64" stroke="#151515" stroke-width="1.4"/>
<line x1="282.72" y1="1896.15" x2="296.72" y2="1896.15" stroke="#151515" stroke-width="1.4"/>
<line x1="343.38" y1="1838.7" x2="343.38" y2="1878.2" stroke="#151515" stroke-width="1.4"/>
<line x1="336.38" y1="1838.7" x2="350.38" y2="1838.7" stroke="#151515" stroke-width="1.4"/>
<line x1="336.38" y1="1878.2" x2="350.38" y2="1878.2" stroke="#151515" stroke-width="1.4"/>
<line x1="397.03" y1="1822.54" x2="397.03" y2="1863.24" stroke="#151515" stroke-width="1.4"/>
<line x1="390.03" y1="1822.54" x2="404.03" y2="1822.54" stroke="#151515" stroke-width="1.4"/>
<line x1="390.03" y1="1863.24" x2="404.03" y2="1863.24" stroke="#151515" stroke-width="1.4"/>
<line x1="450.68" y1="1813.56" x2="450.68" y2="1856.65" stroke="#151515" stroke-width="1.4"/>
<line x1="443.68" y1="1813.56" x2="457.68" y2="1813.56" stroke="#151515" stroke-width="1.4"/>
<line x1="443.68" y1="1856.65" x2="457.68" y2="1856.65" stroke="#151515" stroke-width="1.4"/>
<line x1="504.34" y1="1799.2" x2="504.34" y2="1845.88" stroke="#151515" stroke-width="1.4"/>
<line x1="497.34" y1="1799.2" x2="511.34" y2="1799.2" stroke="#151515" stroke-width="1.4"/>
<line x1="497.34" y1="1845.88" x2="511.34" y2="1845.88" stroke="#151515" stroke-width="1.4"/>
<line x1="558" y1="1789.62" x2="558" y2="1836.3" stroke="#151515" stroke-width="1.4"/>
<line x1="551" y1="1789.62" x2="565" y2="1789.62" stroke="#151515" stroke-width="1.4"/>
<line x1="551" y1="1836.3" x2="565" y2="1836.3" stroke="#151515" stroke-width="1.4"/>
<line x1="611.65" y1="1791.42" x2="611.65" y2="1840.49" stroke="#151515" stroke-width="1.4"/>
<line x1="604.65" y1="1791.42" x2="618.65" y2="1791.42" stroke="#151515" stroke-width="1.4"/>
<line x1="604.65" y1="1840.49" x2="618.65" y2="1840.49" stroke="#151515" stroke-width="1.4"/>
<line x1="665.31" y1="1784.83" x2="665.31" y2="1833.91" stroke="#151515" stroke-width="1.4"/>
<line x1="658.31" y1="1784.83" x2="672.31" y2="1784.83" stroke="#151515" stroke-width="1.4"/>
<line x1="658.31" y1="1833.91" x2="672.31" y2="1833.91" stroke="#151515" stroke-width="1.4"/>
<line x1="718.96" y1="1791.42" x2="718.96" y2="1840.49" stroke="#151515" stroke-width="1.4"/>
<line x1="711.96" y1="1791.42" x2="725.96" y2="1791.42" stroke="#151515" stroke-width="1.4"/>
<line x1="711.96" y1="1840.49" x2="725.96" y2="1840.49" stroke="#151515" stroke-width="1.4"/>
<polyline points="128.75,1927.87 182.41,1900.34 236.06,1890.77 289.72,1879.4 343.38,1858.45 397.03,1842.89 450.68,1835.11 504.34,1822.54 558,1812.96 611.65,1815.95 665.31,1809.37 718.96,1815.95" fill="none" stroke="#151515" stroke-width="1.4" stroke-linejoin="miter"/>
<circle cx="128.75" cy="1927.87" r="6.65" fill="#808080" stroke="#151515" stroke-width="1.4"/>
<circle cx="182.41" cy="1900.34" r="6.65" fill="#808080" stroke="#151515" stroke-width="1.4"/>
<circle cx="236.06" cy="1890.77" r="6.65" fill="#808080" stroke="#151515" stroke-width="1.4"/>
<circle cx="289.72" cy="1879.4" r="6.65" fill="#808080" stroke="#151515" stroke-width="1.4"/>
<circle cx="343.38" cy="1858.45" r="6.65" fill="#808080" stroke="#151515" stroke-width="1.4"/>
<circle cx="397.03" cy="1842.89" r="6.65" fill="#808080" stroke="#151515" stroke-width="1.4"/>
<circle cx="450.68" cy="1835.11" r="6.65" fill="#808080" stroke="#151515" stroke-width="1.4"/>
<circle cx="504.34" cy="1822.54" r="6.65" fill="#808080" stroke="#151515" stroke-width="1.4"/>
<circle cx="558" cy="1812.96" r="6.65" fill="#808080" stroke="#151515" stroke-width="1.4"/>
<circle cx="611.65" cy="1815.95" r="6.65" fill="#808080" stroke="#151515" stroke-width="1.4"/>
<circle cx="665.31" cy="1809.37" r="6.65" fill="#808080" stroke="#151515" stroke-width="1.4"/>
<circle cx="718.96" cy="1815.95" r="6.65" fill="#808080" stroke="#151515" stroke-width="1.4"/>
<line x1="128.75" y1="2053.56" x2="128.75" y2="2072.71" stroke="#151515" stroke-width="1.4"/>
<line x1="121.75" y1="2053.56" x2="135.75" y2="2053.56" stroke="#151515" stroke-width="1.4"/>
<line x1="121.75" y1="2072.71" x2="135.75" y2="2072.71" stroke="#151515" stroke-width="1.4"/>
<line x1="182.41" y1="2009.87" x2="182.41" y2="2030.22" stroke="#151515" stroke-width="1.4"/>
<line x1="175.41" y1="2009.87" x2="189.41" y2="2009.87" stroke="#151515" stroke-width="1.4"/>
<line x1="175.41" y1="2030.22" x2="189.41" y2="2030.22" stroke="#151515" stroke-width="1.4"/>
<line x1="236.06" y1="2020.88" x2="236.06" y2="2042.43" stroke="#151515" stroke-width="1.4"/>
<line x1="229.06" y1="2020.88" x2="243.06" y2="2020.88" stroke="#151515" stroke-width="1.4"/>
<line x1="229.06" y1="2042.43" x2="243.06" y2="2042.43" stroke="#151515" stroke-width="1.4"/>
<line x1="289.72" y1="2031.06" x2="289.72" y2="2052.6" stroke="#151515" stroke-width="1.4"/>
<line x1="282.72" y1="2031.06" x2="296.72" y2="2031.06" stroke="#151515" stroke-width="1.4"/>
<line x1="282.72" y1="2052.6" x2="296.72" y2="2052.6" stroke="#151515" stroke-width="1.4"/>
<line x1="343.38" y1="2025.31" x2="343.38" y2="2046.86" stroke="#151515" stroke-width="1.4"/>
<line x1="336.38" y1="2025.31" x2="350.38" y2="2025.31" stroke="#151515" stroke-width="1.4"/>
<line x1="336.38" y1="2046.86" x2="350.38" y2="2046.86" stroke="#151515" stroke-width="1.4"/>
<line x1="397.03" y1="2011.19" x2="397.03" y2="2032.73" stroke="#151515" stroke-width="1.4"/>
<line x1="390.03" y1="2011.19" x2="404.03" y2="2011.19" stroke="#151515" stroke-width="1.4"/>
<line x1="390.03" y1="2032.73" x2="404.03" y2="2032.73" stroke="#151515" stroke-width="1.4"/>
<line x1="450.68" y1="2005.8" x2="450.68" y2="2028.54" stroke="#151515" stroke-width="1.4"/>
<line x1="443.68" y1="2005.8" x2="457.68" y2="2005.8" stroke="#151515" stroke-width="1.4"/>
<line x1="443.68" y1="2028.54" x2="457.68" y2="2028.54" stroke="#151515" stroke-width="1.4"/>
<line x1="504.34" y1="2005.92" x2="504.34" y2="2027.46" stroke="#151515" stroke-width="1.4"/>
<line x1="497.34" y1="2005.92" x2="511.34" y2="2005.92" stroke="#151515" stroke-width="1.4"/>
<line x1="497.34" y1="2027.46" x2="511.34" y2="2027.46" stroke="#151515" stroke-width="1.4"/>
<line x1="558" y1="2010.59" x2="558" y2="2033.33" stroke="#151515" stroke-width="1.4"/>
<line x1="551" y1="2010.59" x2="565" y2="2010.59" stroke="#151515" stroke-width="1.4"/>
<line x1="551" y1="2033.33" x2="565" y2="2033.33" stroke="#151515" stroke-width="1.4"/>
<line x1="611.65" y1="2016.09" x2="611.65" y2="2037.64" stroke="#151515" stroke-width="1.4"/>
<line x1="604.65" y1="2016.09" x2="618.65" y2="2016.09" stroke="#151515" stroke-width="1.4"/>
<line x1="604.65" y1="2037.64" x2="618.65" y2="2037.64" stroke="#151515" stroke-width="1.4"/>
<line x1="665.31" y1="2016.21" x2="665.31" y2="2036.56" stroke="#151515" stroke-width="1.4"/>
<line x1="658.31" y1="2016.21" x2="672.31" y2="2016.21" stroke="#151515" stroke-width="1.4"/>
<line x1="658.31" y1="2036.56" x2="672.31" y2="2036.56" stroke="#151515" stroke-width="1.4"/>
<line x1="718.96" y1="2012.86" x2="718.96" y2="2033.21" stroke="#151515" stroke-width="1.4"/>
<line x1="711.96" y1="2012.86" x2="725.96" y2="2012.86" stroke="#151515" stroke-width="1.4"/>
<line x1="711.96" y1="2033.21" x2="725.96" y2="2033.21" stroke="#151515" stroke-width="1.4"/>
<polyline points="128.75,2063.14 182.41,2020.04 236.06,2031.65 289.72,2041.83 343.38,2036.08 397.03,2021.96 450.68,2017.17 504.34,2016.69 558,2021.96 611.65,2026.87 665.31,2026.39 718.96,2023.04" fill="none" stroke="#151515" stroke-width="1.4" stroke-linejoin="miter"/>
<rect x="122.35" y="2056.74" width="12.8" height="12.8" fill="#fe0000" stroke="#151515" stroke-width="1.4"/>
<rect x="176.01" y="2013.64" width="12.8" height="12.8" fill="#fe0000" stroke="#151515" stroke-width="1.4"/>
<rect x="229.66" y="2025.25" width="12.8" height="12.8" fill="#fe0000" stroke="#151515" stroke-width="1.4"/>
<rect x="283.32" y="2035.43" width="12.8" height="12.8" fill="#fe0000" stroke="#151515" stroke-width="1.4"/>
<rect x="336.98" y="2029.68" width="12.8" height="12.8" fill="#fe0000" stroke="#151515" stroke-width="1.4"/>
<rect x="390.63" y="2015.56" width="12.8" height="12.8" fill="#fe0000" stroke="#151515" stroke-width="1.4"/>
<rect x="444.28" y="2010.77" width="12.8" height="12.8" fill="#fe0000" stroke="#151515" stroke-width="1.4"/>
<rect x="497.94" y="2010.29" width="12.8" height="12.8" fill="#fe0000" stroke="#151515" stroke-width="1.4"/>
<rect x="551.6" y="2015.56" width="12.8" height="12.8" fill="#fe0000" stroke="#151515" stroke-width="1.4"/>
<rect x="605.25" y="2020.47" width="12.8" height="12.8" fill="#fe0000" stroke="#151515" stroke-width="1.4"/>
<rect x="658.91" y="2019.99" width="12.8" height="12.8" fill="#fe0000" stroke="#151515" stroke-width="1.4"/>
<rect x="712.56" y="2016.64" width="12.8" height="12.8" fill="#fe0000" stroke="#151515" stroke-width="1.4"/>
<line x1="128.75" y1="2003.88" x2="128.75" y2="2026.63" stroke="#151515" stroke-width="1.4"/>
<line x1="121.75" y1="2003.88" x2="135.75" y2="2003.88" stroke="#151515" stroke-width="1.4"/>
<line x1="121.75" y1="2026.63" x2="135.75" y2="2026.63" stroke="#151515" stroke-width="1.4"/>
<line x1="182.41" y1="1975.51" x2="182.41" y2="1995.86" stroke="#151515" stroke-width="1.4"/>
<line x1="175.41" y1="1975.51" x2="189.41" y2="1975.51" stroke="#151515" stroke-width="1.4"/>
<line x1="175.41" y1="1995.86" x2="189.41" y2="1995.86" stroke="#151515" stroke-width="1.4"/>
<line x1="236.06" y1="1978.75" x2="236.06" y2="2005.08" stroke="#151515" stroke-width="1.4"/>
<line x1="229.06" y1="1978.75" x2="243.06" y2="1978.75" stroke="#151515" stroke-width="1.4"/>
<line x1="229.06" y1="2005.08" x2="243.06" y2="2005.08" stroke="#151515" stroke-width="1.4"/>
<line x1="289.72" y1="1980.66" x2="289.72" y2="2012.98" stroke="#151515" stroke-width="1.4"/>
<line x1="282.72" y1="1980.66" x2="296.72" y2="1980.66" stroke="#151515" stroke-width="1.4"/>
<line x1="282.72" y1="2012.98" x2="296.72" y2="2012.98" stroke="#151515" stroke-width="1.4"/>
<line x1="343.38" y1="1974.32" x2="343.38" y2="2006.64" stroke="#151515" stroke-width="1.4"/>
<line x1="336.38" y1="1974.32" x2="350.38" y2="1974.32" stroke="#151515" stroke-width="1.4"/>
<line x1="336.38" y1="2006.64" x2="350.38" y2="2006.64" stroke="#151515" stroke-width="1.4"/>
<line x1="397.03" y1="1969.77" x2="397.03" y2="2003.29" stroke="#151515" stroke-width="1.4"/>
<line x1="390.03" y1="1969.77" x2="404.03" y2="1969.77" stroke="#151515" stroke-width="1.4"/>
<line x1="390.03" y1="2003.29" x2="404.03" y2="2003.29" stroke="#151515" stroke-width="1.4"/>
<line x1="450.68" y1="1962.83" x2="450.68" y2="1993.95" stroke="#151515" stroke-width="1.4"/>
<line x1="443.68" y1="1962.83" x2="457.68" y2="1962.83" stroke="#151515" stroke-width="1.4"/>
<line x1="443.68" y1="1993.95" x2="457.68" y2="1993.95" stroke="#151515" stroke-width="1.4"/>
<line x1="504.34" y1="1960.91" x2="504.34" y2="1992.03" stroke="#151515" stroke-width="1.4"/>
<line x1="497.34" y1="1960.91" x2="511.34" y2="1960.91" stroke="#151515" stroke-width="1.4"/>
<line x1="497.34" y1="1992.03" x2="511.34" y2="1992.03" stroke="#151515" stroke-width="1.4"/>
<line x1="558" y1="1965.46" x2="558" y2="1994.19" stroke="#151515" stroke-width="1.4"/>
<line x1="551" y1="1965.46" x2="565" y2="1965.46" stroke="#151515" stroke-width="1.4"/>
<line x1="551" y1="1994.19" x2="565" y2="1994.19" stroke="#151515" stroke-width="1.4"/>
<line x1="611.65" y1="1964.86" x2="611.65" y2="1994.79" stroke="#151515" stroke-width="1.4"/>
<line x1="604.65" y1="1964.86" x2="618.65" y2="1964.86" stroke="#151515" stroke-width="1.4"/>
<line x1="604.65" y1="1994.79" x2="618.65" y2="1994.79" stroke="#151515" stroke-width="1.4"/>
<line x1="665.31" y1="1964.26" x2="665.31" y2="1995.38" stroke="#151515" stroke-width="1.4"/>
<line x1="658.31" y1="1964.26" x2="672.31" y2="1964.26" stroke="#151515" stroke-width="1.4"/>
<line x1="658.31" y1="1995.38" x2="672.31" y2="1995.38" stroke="#151515" stroke-width="1.4"/>
<line x1="718.96" y1="1964.26" x2="718.96" y2="1995.38" stroke="#151515" stroke-width="1.4"/>
<line x1="711.96" y1="1964.26" x2="725.96" y2="1964.26" stroke="#151515" stroke-width="1.4"/>
<line x1="711.96" y1="1995.38" x2="725.96" y2="1995.38" stroke="#151515" stroke-width="1.4"/>
<polyline points="128.75,2015.26 182.41,1985.69 236.06,1991.91 289.72,1996.82 343.38,1990.48 397.03,1986.53 450.68,1978.39 504.34,1976.47 558,1979.82 611.65,1979.82 665.31,1979.82 718.96,1979.82" fill="none" stroke="#151515" stroke-width="1.4" stroke-linejoin="miter"/>
<polygon points="128.75,2007.83 135.66,2020.63 121.85,2020.63" fill="#0000fe" stroke="#151515" stroke-width="1.4" stroke-linejoin="miter"/>
<polygon points="182.41,1978.27 189.31,1991.07 175.51,1991.07" fill="#0000fe" stroke="#151515" stroke-width="1.4" stroke-linejoin="miter"/>
<polygon points="236.06,1984.49 242.97,1997.29 229.16,1997.29" fill="#0000fe" stroke="#151515" stroke-width="1.4" stroke-linejoin="miter"/>
<polygon points="289.72,1989.4 296.62,2002.2 282.82,2002.2" fill="#0000fe" stroke="#151515" stroke-width="1.4" stroke-linejoin="miter"/>
<polygon points="343.38,1983.05 350.27,1995.85 336.48,1995.85" fill="#0000fe" stroke="#151515" stroke-width="1.4" stroke-linejoin="miter"/>
<polygon points="397.03,1979.1 403.93,1991.9 390.13,1991.9" fill="#0000fe" stroke="#151515" stroke-width="1.4" stroke-linejoin="miter"/>
<polygon points="450.68,1970.96 457.58,1983.76 443.78,1983.76" fill="#0000fe" stroke="#151515" stroke-width="1.4" stroke-linejoin="miter"/>
<polygon points="504.34,1969.05 511.24,1981.85 497.44,1981.85" fill="#0000fe" stroke="#151515" stroke-width="1.4" stroke-linejoin="miter"/>
<polygon points="558,1972.4 564.89,1985.2 551.1,1985.2" fill="#0000fe" stroke="#151515" stroke-width="1.4" stroke-linejoin="miter"/>
<polygon points="611.65,1972.4 618.55,1985.2 604.75,1985.2" fill="#0000fe" stroke="#151515" stroke-width="1.4" stroke-linejoin="miter"/>
<polygon points="665.31,1972.4 672.21,1985.2 658.41,1985.2" fill="#0000fe" stroke="#151515" stroke-width="1.4" stroke-linejoin="miter"/>
<polygon points="718.96,1972.4 725.86,1985.2 712.06,1985.2" fill="#0000fe" stroke="#151515" stroke-width="1.4" stroke-linejoin="miter"/>
<line x1="91.6" y1="1777.3" x2="119.6" y2="1777.3" stroke="#151515" stroke-width="1.4"/>
<circle cx="105.6" cy="1777.3" r="6.65" fill="#808080" stroke="#151515" stroke-width="1.4"/>
<text x="135.7" y="1783.39" font-size="17" fill="#222">C3</text>
<line x1="91.6" y1="1808.3" x2="119.6" y2="1808.3" stroke="#151515" stroke-width="1.4"/>
<rect x="99.2" y="1801.9" width="12.8" height="12.8" fill="#fe0000" stroke="#151515" stroke-width="1.4"/>
<text x="135.7" y="1814.39" font-size="17" fill="#222">H3</text>
<line x1="91.6" y1="1839.8" x2="119.6" y2="1839.8" stroke="#151515" stroke-width="1.4"/>
<polygon points="105.6,1832.38 112.5,1845.18 98.7,1845.18" fill="#0000fe" stroke="#151515" stroke-width="1.4" stroke-linejoin="miter"/>
<text x="135.7" y="1845.89" font-size="17" fill="#222">Y3</text>
<polyline points="731.7,1814.6 786,1814.6 786,2023.4 731.7,2023.4" fill="none" stroke="#151515" stroke-width="1.4" stroke-linejoin="miter"/>
<polyline points="735.6,1981.3 753.5,1981.3 753.5,2023.4" fill="none" stroke="#151515" stroke-width="1.4" stroke-linejoin="miter"/>
<text x="818.69" y="1936.64" font-size="23.76" font-weight="bold" text-anchor="middle" letter-spacing="2.37" stroke="#000" stroke-width="0.6" style="font-family:'DejaVu Sans',sans-serif">***</text>
<text x="766.6" y="2011.38" font-size="22" stroke="#000" stroke-width="0.5" text-anchor="middle">#</text>
<text transform="translate(-0.97 1712.3) scale(0.88 1)" font-size="57" stroke="#000" stroke-width="0.7">k</text>
</g>
<g>
<rect x="1020.7" y="1887.4" width="41.5" height="216.5" fill="#808080" stroke="#222" stroke-width="1.9"/>
<rect x="1073.4" y="2046.5" width="41.5" height="57.4" fill="#808080" stroke="#222" stroke-width="1.9"/>
<rect x="1147.8" y="1925.7" width="41.6" height="178.2" fill="#fe0000" stroke="#222" stroke-width="1.9"/>
<rect x="1200.2" y="1982.3" width="41.5" height="121.6" fill="#fe0000" stroke="#222" stroke-width="1.9"/>
<rect x="1274.6" y="1928.3" width="41.6" height="175.6" fill="#0000fe" stroke="#222" stroke-width="1.9"/>
<rect x="1327.3" y="2000.1" width="41.6" height="103.8" fill="#0000fe" stroke="#222" stroke-width="1.9"/>
<path d="M1039.35 1782a2.1 2.1 0 1 0 4.2 0a2.1 2.1 0 1 0 -4.2 0M1039.35 1832.81a2.1 2.1 0 1 0 4.2 0a2.1 2.1 0 1 0 -4.2 0M1039.35 1837.22a2.1 2.1 0 1 0 4.2 0a2.1 2.1 0 1 0 -4.2 0M1039.35 1843.83a2.1 2.1 0 1 0 4.2 0a2.1 2.1 0 1 0 -4.2 0M1039.35 1854.85a2.1 2.1 0 1 0 4.2 0a2.1 2.1 0 1 0 -4.2 0M1039.35 1865.87a2.1 2.1 0 1 0 4.2 0a2.1 2.1 0 1 0 -4.2 0M1036.15 1876.89a2.1 2.1 0 1 0 4.2 0a2.1 2.1 0 1 0 -4.2 0M1042.55 1876.89a2.1 2.1 0 1 0 4.2 0a2.1 2.1 0 1 0 -4.2 0M1039.35 1880.75a2.1 2.1 0 1 0 4.2 0a2.1 2.1 0 1 0 -4.2 0M1036.15 1887.36a2.1 2.1 0 1 0 4.2 0a2.1 2.1 0 1 0 -4.2 0M1042.55 1887.36a2.1 2.1 0 1 0 4.2 0a2.1 2.1 0 1 0 -4.2 0M1036.15 1894.52a2.1 2.1 0 1 0 4.2 0a2.1 2.1 0 1 0 -4.2 0M1042.55 1894.52a2.1 2.1 0 1 0 4.2 0a2.1 2.1 0 1 0 -4.2 0M1036.15 1897.83a2.1 2.1 0 1 0 4.2 0a2.1 2.1 0 1 0 -4.2 0M1042.55 1897.83a2.1 2.1 0 1 0 4.2 0a2.1 2.1 0 1 0 -4.2 0M1039.35 1902.23a2.1 2.1 0 1 0 4.2 0a2.1 2.1 0 1 0 -4.2 0M1039.35 1922.07a2.1 2.1 0 1 0 4.2 0a2.1 2.1 0 1 0 -4.2 0M1039.35 1926.48a2.1 2.1 0 1 0 4.2 0a2.1 2.1 0 1 0 -4.2 0M1039.35 1931.44a2.1 2.1 0 1 0 4.2 0a2.1 2.1 0 1 0 -4.2 0M1036.15 1938.6a2.1 2.1 0 1 0 4.2 0a2.1 2.1 0 1 0 -4.2 0M1042.55 1938.6a2.1 2.1 0 1 0 4.2 0a2.1 2.1 0 1 0 -4.2 0M1039.35 1943.01a2.1 2.1 0 1 0 4.2 0a2.1 2.1 0 1 0 -4.2 0M1039.35 1949.07a2.1 2.1 0 1 0 4.2 0a2.1 2.1 0 1 0 -4.2 0M1039.35 1952.38a2.1 2.1 0 1 0 4.2 0a2.1 2.1 0 1 0 -4.2 0M1039.35 1956.23a2.1 2.1 0 1 0 4.2 0a2.1 2.1 0 1 0 -4.2 0" fill="#111"/>
<path d="M1092.05 1796.4a2.1 2.1 0 1 0 4.2 0a2.1 2.1 0 1 0 -4.2 0M1092.05 1969.46a2.1 2.1 0 1 0 4.2 0a2.1 2.1 0 1 0 -4.2 0M1092.05 1974.97a2.1 2.1 0 1 0 4.2 0a2.1 2.1 0 1 0 -4.2 0M1092.05 2001.41a2.1 2.1 0 1 0 4.2 0a2.1 2.1 0 1 0 -4.2 0M1088.85 2005.82a2.1 2.1 0 1 0 4.2 0a2.1 2.1 0 1 0 -4.2 0M1095.25 2005.82a2.1 2.1 0 1 0 4.2 0a2.1 2.1 0 1 0 -4.2 0M1085.65 2011.33a2.1 2.1 0 1 0 4.2 0a2.1 2.1 0 1 0 -4.2 0M1092.05 2011.33a2.1 2.1 0 1 0 4.2 0a2.1 2.1 0 1 0 -4.2 0M1098.45 2011.33a2.1 2.1 0 1 0 4.2 0a2.1 2.1 0 1 0 -4.2 0M1092.05 2014.64a2.1 2.1 0 1 0 4.2 0a2.1 2.1 0 1 0 -4.2 0M1092.05 2026.76a2.1 2.1 0 1 0 4.2 0a2.1 2.1 0 1 0 -4.2 0M1092.05 2030.07a2.1 2.1 0 1 0 4.2 0a2.1 2.1 0 1 0 -4.2 0M1092.05 2035.58a2.1 2.1 0 1 0 4.2 0a2.1 2.1 0 1 0 -4.2 0M1092.05 2055.41a2.1 2.1 0 1 0 4.2 0a2.1 2.1 0 1 0 -4.2 0M1092.05 2093.98a2.1 2.1 0 1 0 4.2 0a2.1 2.1 0 1 0 -4.2 0" fill="#111"/>
<path d="M1166.5 1798.9a2.1 2.1 0 1 0 4.2 0a2.1 2.1 0 1 0 -4.2 0M1166.5 1866.97a2.1 2.1 0 1 0 4.2 0a2.1 2.1 0 1 0 -4.2 0M1166.5 1881.3a2.1 2.1 0 1 0 4.2 0a2.1 2.1 0 1 0 -4.2 0M1163.3 1899.48a2.1 2.1 0 1 0 4.2 0a2.1 2.1 0 1 0 -4.2 0M1169.7 1899.48a2.1 2.1 0 1 0 4.2 0a2.1 2.1 0 1 0 -4.2 0M1166.5 1904.44a2.1 2.1 0 1 0 4.2 0a2.1 2.1 0 1 0 -4.2 0M1163.3 1911.05a2.1 2.1 0 1 0 4.2 0a2.1 2.1 0 1 0 -4.2 0M1169.7 1911.05a2.1 2.1 0 1 0 4.2 0a2.1 2.1 0 1 0 -4.2 0M1166.5 1919.87a2.1 2.1 0 1 0 4.2 0a2.1 2.1 0 1 0 -4.2 0M1160.1 1924.27a2.1 2.1 0 1 0 4.2 0a2.1 2.1 0 1 0 -4.2 0M1166.5 1924.27a2.1 2.1 0 1 0 4.2 0a2.1 2.1 0 1 0 -4.2 0M1172.9 1924.27a2.1 2.1 0 1 0 4.2 0a2.1 2.1 0 1 0 -4.2 0M1166.5 1933.09a2.1 2.1 0 1 0 4.2 0a2.1 2.1 0 1 0 -4.2 0M1160.1 1940.25a2.1 2.1 0 1 0 4.2 0a2.1 2.1 0 1 0 -4.2 0M1166.5 1940.25a2.1 2.1 0 1 0 4.2 0a2.1 2.1 0 1 0 -4.2 0M1172.9 1940.25a2.1 2.1 0 1 0 4.2 0a2.1 2.1 0 1 0 -4.2 0M1156.9 1944.11a2.1 2.1 0 1 0 4.2 0a2.1 2.1 0 1 0 -4.2 0M1163.3 1944.11a2.1 2.1 0 1 0 4.2 0a2.1 2.1 0 1 0 -4.2 0M1169.7 1944.11a2.1 2.1 0 1 0 4.2 0a2.1 2.1 0 1 0 -4.2 0M1176.1 1944.11a2.1 2.1 0 1 0 4.2 0a2.1 2.1 0 1 0 -4.2 0M1163.3 1949.07a2.1 2.1 0 1 0 4.2 0a2.1 2.1 0 1 0 -4.2 0M1169.7 1949.07a2.1 2.1 0 1 0 4.2 0a2.1 2.1 0 1 0 -4.2 0M1156.9 1954.03a2.1 2.1 0 1 0 4.2 0a2.1 2.1 0 1 0 -4.2 0M1163.3 1954.03a2.1 2.1 0 1 0 4.2 0a2.1 2.1 0 1 0 -4.2 0M1169.7 1954.03a2.1 2.1 0 1 0 4.2 0a2.1 2.1 0 1 0 -4.2 0M1176.1 1954.03a2.1 2.1 0 1 0 4.2 0a2.1 2.1 0 1 0 -4.2 0M1166.5 1957.33a2.1 2.1 0 1 0 4.2 0a2.1 2.1 0 1 0 -4.2 0M1166.5 1980.48a2.1 2.1 0 1 0 4.2 0a2.1 2.1 0 1 0 -4.2 0M1166.5 1988.19a2.1 2.1 0 1 0 4.2 0a2.1 2.1 0 1 0 -4.2 0" fill="#111"/>
<path d="M1218.85 1799.94a2.1 2.1 0 1 0 4.2 0a2.1 2.1 0 1 0 -4.2 0M1218.85 1923.17a2.1 2.1 0 1 0 4.2 0a2.1 2.1 0 1 0 -4.2 0M1218.85 1931.44a2.1 2.1 0 1 0 4.2 0a2.1 2.1 0 1 0 -4.2 0M1215.65 1956.23a2.1 2.1 0 1 0 4.2 0a2.1 2.1 0 1 0 -4.2 0M1222.05 1956.23a2.1 2.1 0 1 0 4.2 0a2.1 2.1 0 1 0 -4.2 0M1218.85 1959.54a2.1 2.1 0 1 0 4.2 0a2.1 2.1 0 1 0 -4.2 0M1212.45 1982.68a2.1 2.1 0 1 0 4.2 0a2.1 2.1 0 1 0 -4.2 0M1218.85 1982.68a2.1 2.1 0 1 0 4.2 0a2.1 2.1 0 1 0 -4.2 0M1225.25 1982.68a2.1 2.1 0 1 0 4.2 0a2.1 2.1 0 1 0 -4.2 0M1212.45 1989.29a2.1 2.1 0 1 0 4.2 0a2.1 2.1 0 1 0 -4.2 0M1218.85 1989.29a2.1 2.1 0 1 0 4.2 0a2.1 2.1 0 1 0 -4.2 0M1225.25 1989.29a2.1 2.1 0 1 0 4.2 0a2.1 2.1 0 1 0 -4.2 0M1215.65 1995.35a2.1 2.1 0 1 0 4.2 0a2.1 2.1 0 1 0 -4.2 0M1222.05 1995.35a2.1 2.1 0 1 0 4.2 0a2.1 2.1 0 1 0 -4.2 0M1212.45 2003.62a2.1 2.1 0 1 0 4.2 0a2.1 2.1 0 1 0 -4.2 0M1218.85 2003.62a2.1 2.1 0 1 0 4.2 0a2.1 2.1 0 1 0 -4.2 0M1225.25 2003.62a2.1 2.1 0 1 0 4.2 0a2.1 2.1 0 1 0 -4.2 0M1218.85 2005.82a2.1 2.1 0 1 0 4.2 0a2.1 2.1 0 1 0 -4.2 0M1218.85 2011.33a2.1 2.1 0 1 0 4.2 0a2.1 2.1 0 1 0 -4.2 0M1215.65 2036.68a2.1 2.1 0 1 0 4.2 0a2.1 2.1 0 1 0 -4.2 0M1222.05 2036.68a2.1 2.1 0 1 0 4.2 0a2.1 2.1 0 1 0 -4.2 0M1218.85 2045.49a2.1 2.1 0 1 0 4.2 0a2.1 2.1 0 1 0 -4.2 0M1218.85 2066.43a2.1 2.1 0 1 0 4.2 0a2.1 2.1 0 1 0 -4.2 0" fill="#111"/>
<path d="M1293.2 1870.72h4.4l-2.2 3.74zM1286.8 1885.6h4.4l-2.2 3.74zM1293.2 1885.6h4.4l-2.2 3.74zM1299.6 1885.6h4.4l-2.2 3.74zM1286.8 1903.78h4.4l-2.2 3.74zM1293.2 1903.78h4.4l-2.2 3.74zM1299.6 1903.78h4.4l-2.2 3.74zM1286.8 1910.39h4.4l-2.2 3.74zM1293.2 1910.39h4.4l-2.2 3.74zM1299.6 1910.39h4.4l-2.2 3.74zM1293.2 1923.62h4.4l-2.2 3.74zM1290 1928.02h4.4l-2.2 3.74zM1296.4 1928.02h4.4l-2.2 3.74zM1286.8 1938.49h4.4l-2.2 3.74zM1293.2 1938.49h4.4l-2.2 3.74zM1299.6 1938.49h4.4l-2.2 3.74zM1293.2 1947.31h4.4l-2.2 3.74zM1293.2 1955.57h4.4l-2.2 3.74zM1293.2 1959.98h4.4l-2.2 3.74zM1293.2 1973.21h4.4l-2.2 3.74zM1293.2 1975.41h4.4l-2.2 3.74z" fill="#000"/>
<path d="M1342.7 1934.64h4.4l-2.2 3.74zM1349.1 1934.64h4.4l-2.2 3.74zM1342.7 1947.86h4.4l-2.2 3.74zM1349.1 1947.86h4.4l-2.2 3.74zM1345.9 1955.57h4.4l-2.2 3.74zM1342.7 1958.33h4.4l-2.2 3.74zM1349.1 1958.33h4.4l-2.2 3.74zM1345.9 1973.21h4.4l-2.2 3.74zM1339.5 1979.27h4.4l-2.2 3.74zM1345.9 1979.27h4.4l-2.2 3.74zM1352.3 1979.27h4.4l-2.2 3.74zM1345.9 1990.84h4.4l-2.2 3.74zM1342.7 2001.86h4.4l-2.2 3.74zM1349.1 2001.86h4.4l-2.2 3.74zM1345.9 2005.16h4.4l-2.2 3.74zM1345.9 2013.98h4.4l-2.2 3.74zM1345.9 2030.51h4.4l-2.2 3.74zM1345.9 2037.67h4.4l-2.2 3.74zM1345.9 2065.77h4.4l-2.2 3.74zM1345.9 2098.28h4.4l-2.2 3.74z" fill="#000"/>
<line x1="1041.45" y1="1873.4" x2="1041.45" y2="1888.4" stroke="#000" stroke-width="3.2"/>
<line x1="1030.95" y1="1873.4" x2="1051.95" y2="1873.4" stroke="#000" stroke-width="3.2"/>
<line x1="1094.15" y1="2022.5" x2="1094.15" y2="2047.5" stroke="#000" stroke-width="3.2"/>
<line x1="1083.65" y1="2022.5" x2="1104.65" y2="2022.5" stroke="#000" stroke-width="3.2"/>
<line x1="1168.6" y1="1915.5" x2="1168.6" y2="1926.7" stroke="#000" stroke-width="3.2"/>
<line x1="1158.1" y1="1915.5" x2="1179.1" y2="1915.5" stroke="#000" stroke-width="3.2"/>
<line x1="1220.95" y1="1970.4" x2="1220.95" y2="1983.3" stroke="#000" stroke-width="3.2"/>
<line x1="1210.45" y1="1970.4" x2="1231.45" y2="1970.4" stroke="#000" stroke-width="3.2"/>
<line x1="1295.4" y1="1921.3" x2="1295.4" y2="1929.3" stroke="#000" stroke-width="3.2"/>
<line x1="1284.9" y1="1921.3" x2="1305.9" y2="1921.3" stroke="#000" stroke-width="3.2"/>
<line x1="1348.1" y1="1988.3" x2="1348.1" y2="2001.1" stroke="#000" stroke-width="3.2"/>
<line x1="1337.6" y1="1988.3" x2="1358.6" y2="1988.3" stroke="#000" stroke-width="3.2"/>
<line x1="999" y1="1770.6" x2="999" y2="1805.5" stroke="#000" stroke-width="3.3"/>
<line x1="999" y1="1826.5" x2="999" y2="2103.9" stroke="#000" stroke-width="3.3"/>
<line x1="988.95" y1="1828.4" x2="999" y2="1828.4" stroke="#000" stroke-width="3.3"/>
<text x="985.65" y="1837.67" font-size="24.5" stroke="#000" stroke-width="0.45" text-anchor="end">25</text>
<line x1="988.95" y1="1883.5" x2="999" y2="1883.5" stroke="#000" stroke-width="3.3"/>
<text x="985.65" y="1892.77" font-size="24.5" stroke="#000" stroke-width="0.45" text-anchor="end">20</text>
<line x1="988.95" y1="1938.6" x2="999" y2="1938.6" stroke="#000" stroke-width="3.3"/>
<text x="985.65" y="1947.87" font-size="24.5" stroke="#000" stroke-width="0.45" text-anchor="end">15</text>
<line x1="988.95" y1="1993.7" x2="999" y2="1993.7" stroke="#000" stroke-width="3.3"/>
<text x="985.65" y="2002.97" font-size="24.5" stroke="#000" stroke-width="0.45" text-anchor="end">10</text>
<line x1="988.95" y1="2048.8" x2="999" y2="2048.8" stroke="#000" stroke-width="3.3"/>
<text x="985.65" y="2058.07" font-size="24.5" stroke="#000" stroke-width="0.45" text-anchor="end">5</text>
<line x1="988.95" y1="2103.9" x2="999" y2="2103.9" stroke="#000" stroke-width="3.3"/>
<text x="985.65" y="2113.17" font-size="24.5" stroke="#000" stroke-width="0.45" text-anchor="end">0</text>
<line x1="988.95" y1="1772.4" x2="999" y2="1772.4" stroke="#000" stroke-width="3.3"/>
<text x="985.65" y="1781.67" font-size="24.5" stroke="#000" stroke-width="0.45" text-anchor="end">45</text>
<line x1="988.95" y1="1803.7" x2="999" y2="1803.7" stroke="#000" stroke-width="3.3"/>
<text x="985.65" y="1812.97" font-size="24.5" stroke="#000" stroke-width="0.45" text-anchor="end">30</text>
<line x1="988.95" y1="1803.7" x2="1007" y2="1803.7" stroke="#000" stroke-width="3.3"/>
<line x1="988.95" y1="1828.3" x2="1007" y2="1828.3" stroke="#000" stroke-width="3.3"/>
<line x1="989.4" y1="2103.9" x2="1392" y2="2103.9" stroke="#000" stroke-width="3.3"/>
<line x1="1041.45" y1="2103.9" x2="1041.45" y2="2113.9" stroke="#000" stroke-width="3.3"/>
<text transform="translate(1042.95 2128.9) rotate(-45)" x="0" y="9.06" font-size="25.3" stroke="#000" stroke-width="0.4" text-anchor="end">Basal</text>
<line x1="1094.15" y1="2103.9" x2="1094.15" y2="2113.9" stroke="#000" stroke-width="3.3"/>
<text transform="translate(1095.65 2128.9) rotate(-45)" x="0" y="9.06" font-size="25.3" stroke="#000" stroke-width="0.4" text-anchor="end">Clamped</text>
<line x1="1168.6" y1="2103.9" x2="1168.6" y2="2113.9" stroke="#000" stroke-width="3.3"/>
<text transform="translate(1170.1 2128.9) rotate(-45)" x="0" y="9.06" font-size="25.3" stroke="#000" stroke-width="0.4" text-anchor="end">Basal</text>
<line x1="1220.95" y1="2103.9" x2="1220.95" y2="2113.9" stroke="#000" stroke-width="3.3"/>
<text transform="translate(1222.45 2128.9) rotate(-45)" x="0" y="9.06" font-size="25.3" stroke="#000" stroke-width="0.4" text-anchor="end">Clamped</text>
<line x1="1295.4" y1="2103.9" x2="1295.4" y2="2113.9" stroke="#000" stroke-width="3.3"/>
<text transform="translate(1296.9 2128.9) rotate(-45)" x="0" y="9.06" font-size="25.3" stroke="#000" stroke-width="0.4" text-anchor="end">Basal</text>
<line x1="1348.1" y1="2103.9" x2="1348.1" y2="2113.9" stroke="#000" stroke-width="3.3"/>
<text transform="translate(1349.6 2128.9) rotate(-45)" x="0" y="9.06" font-size="25.3" stroke="#000" stroke-width="0.4" text-anchor="end">Clamped</text>
<text transform="translate(927 1939.5) rotate(-90)" x="0" y="9.67" font-size="27" font-weight="bold" stroke="#000" stroke-width="0.81" text-anchor="middle">Ra (mg/min/kg)</text>
<polyline points="1044,1718.9 1044,1711.4 1166.7,1711.4 1166.7,1718.9" fill="none" stroke="#000" stroke-width="1.5" stroke-linejoin="miter"/>
<polyline points="1228.6,1718.9 1228.6,1711.4 1350.9,1711.4 1350.9,1718.9" fill="none" stroke="#000" stroke-width="1.5" stroke-linejoin="miter"/>
<polyline points="1042.3,1767.4 1042.3,1760.3 1093.6,1760.3 1093.6,1767.4" fill="none" stroke="#000" stroke-width="1.5" stroke-linejoin="miter"/>
<polyline points="1099.8,1767.4 1099.8,1760.3 1222,1760.3 1222,1767.4" fill="none" stroke="#000" stroke-width="1.5" stroke-linejoin="miter"/>
<polyline points="1168.7,1851 1168.7,1844.4 1222.5,1844.4 1222.5,1851" fill="none" stroke="#000" stroke-width="1.5" stroke-linejoin="miter"/>
<polyline points="1296.7,1851 1296.7,1844.4 1347.6,1844.4 1347.6,1851" fill="none" stroke="#000" stroke-width="1.5" stroke-linejoin="miter"/>
<text x="1107.06" y="1704.46" font-size="26.35" font-weight="bold" text-anchor="middle" letter-spacing="2.12" stroke="#000" stroke-width="0.35" style="font-family:'DejaVu Sans',sans-serif">**</text>
<text x="1162.26" y="1753.46" font-size="26.35" font-weight="bold" text-anchor="middle" letter-spacing="2.12" stroke="#000" stroke-width="0.35" style="font-family:'DejaVu Sans',sans-serif">***</text>
<text x="1289.9" y="1697.43" font-size="23" stroke="#000" stroke-width="0.4" text-anchor="middle">p=0.06</text>
<text x="1068.3" y="1747.33" font-size="23" stroke="#000" stroke-width="0.4" text-anchor="middle">@@@</text>
<text x="1196" y="1829.83" font-size="23" stroke="#000" stroke-width="0.4" text-anchor="middle">@@</text>
<text x="1322.4" y="1829.83" font-size="23" stroke="#000" stroke-width="0.4" text-anchor="middle">@@@</text>
<rect x="1394.6" y="1738.6" width="28.5" height="14" fill="#808080" stroke="#444" stroke-width="1.4"/>
<text x="1440" y="1754.51" font-size="23.5" fill="#333">C3</text>
<rect x="1394.6" y="1767" width="28.5" height="14" fill="#fe0000" stroke="#444" stroke-width="1.4"/>
<text x="1440" y="1782.91" font-size="23.5" fill="#333">H3</text>
<rect x="1394.6" y="1794.5" width="28.5" height="14" fill="#0000fe" stroke="#444" stroke-width="1.4"/>
<text x="1440" y="1810.41" font-size="23.5" fill="#333">Y3</text>
<text transform="translate(919.55 1712.7) scale(1 1)" font-size="57" stroke="#000" stroke-width="0.7">l</text>
</g>
<g>
<rect x="1573.2" y="1967.5" width="44" height="136.1" fill="#808080" stroke="#222" stroke-width="1.9"/>
<rect x="1629.4" y="1890.6" width="44.3" height="213" fill="#808080" stroke="#222" stroke-width="1.9"/>
<rect x="1708.3" y="1991.8" width="44.1" height="111.8" fill="#fe0000" stroke="#222" stroke-width="1.9"/>
<rect x="1764.2" y="1974.3" width="44.4" height="129.3" fill="#fe0000" stroke="#222" stroke-width="1.9"/>
<rect x="1842.8" y="1993.3" width="44.4" height="110.3" fill="#0000fe" stroke="#222" stroke-width="1.9"/>
<rect x="1899" y="1958.7" width="44.7" height="144.9" fill="#0000fe" stroke="#222" stroke-width="1.9"/>
<path d="M1593.1 1800.88a2.1 2.1 0 1 0 4.2 0a2.1 2.1 0 1 0 -4.2 0M1593.1 1932.18a2.1 2.1 0 1 0 4.2 0a2.1 2.1 0 1 0 -4.2 0M1593.1 1937.02a2.1 2.1 0 1 0 4.2 0a2.1 2.1 0 1 0 -4.2 0M1593.1 1942.55a2.1 2.1 0 1 0 4.2 0a2.1 2.1 0 1 0 -4.2 0M1593.1 1947.39a2.1 2.1 0 1 0 4.2 0a2.1 2.1 0 1 0 -4.2 0M1593.1 1959.14a2.1 2.1 0 1 0 4.2 0a2.1 2.1 0 1 0 -4.2 0M1589.9 1961.9a2.1 2.1 0 1 0 4.2 0a2.1 2.1 0 1 0 -4.2 0M1596.3 1961.9a2.1 2.1 0 1 0 4.2 0a2.1 2.1 0 1 0 -4.2 0M1593.1 1967.43a2.1 2.1 0 1 0 4.2 0a2.1 2.1 0 1 0 -4.2 0M1586.7 1970.89a2.1 2.1 0 1 0 4.2 0a2.1 2.1 0 1 0 -4.2 0M1593.1 1970.89a2.1 2.1 0 1 0 4.2 0a2.1 2.1 0 1 0 -4.2 0M1599.5 1970.89a2.1 2.1 0 1 0 4.2 0a2.1 2.1 0 1 0 -4.2 0M1586.7 1975.04a2.1 2.1 0 1 0 4.2 0a2.1 2.1 0 1 0 -4.2 0M1593.1 1975.04a2.1 2.1 0 1 0 4.2 0a2.1 2.1 0 1 0 -4.2 0M1599.5 1975.04a2.1 2.1 0 1 0 4.2 0a2.1 2.1 0 1 0 -4.2 0M1589.9 1977.8a2.1 2.1 0 1 0 4.2 0a2.1 2.1 0 1 0 -4.2 0M1596.3 1977.8a2.1 2.1 0 1 0 4.2 0a2.1 2.1 0 1 0 -4.2 0M1589.9 1988.17a2.1 2.1 0 1 0 4.2 0a2.1 2.1 0 1 0 -4.2 0M1596.3 1988.17a2.1 2.1 0 1 0 4.2 0a2.1 2.1 0 1 0 -4.2 0M1593.1 1993.01a2.1 2.1 0 1 0 4.2 0a2.1 2.1 0 1 0 -4.2 0M1586.7 1999.92a2.1 2.1 0 1 0 4.2 0a2.1 2.1 0 1 0 -4.2 0M1593.1 1999.92a2.1 2.1 0 1 0 4.2 0a2.1 2.1 0 1 0 -4.2 0M1599.5 1999.92a2.1 2.1 0 1 0 4.2 0a2.1 2.1 0 1 0 -4.2 0M1593.1 2003.38a2.1 2.1 0 1 0 4.2 0a2.1 2.1 0 1 0 -4.2 0M1593.1 2007.52a2.1 2.1 0 1 0 4.2 0a2.1 2.1 0 1 0 -4.2 0M1593.1 2010.98a2.1 2.1 0 1 0 4.2 0a2.1 2.1 0 1 0 -4.2 0" fill="#111"/>
<path d="M1649.45 1779.39a2.1 2.1 0 1 0 4.2 0a2.1 2.1 0 1 0 -4.2 0M1649.45 1789.4a2.1 2.1 0 1 0 4.2 0a2.1 2.1 0 1 0 -4.2 0M1649.45 1792.95a2.1 2.1 0 1 0 4.2 0a2.1 2.1 0 1 0 -4.2 0M1649.45 1796.5a2.1 2.1 0 1 0 4.2 0a2.1 2.1 0 1 0 -4.2 0M1649.45 1799.21a2.1 2.1 0 1 0 4.2 0a2.1 2.1 0 1 0 -4.2 0M1649.45 1846.47a2.1 2.1 0 1 0 4.2 0a2.1 2.1 0 1 0 -4.2 0M1649.45 1864.44a2.1 2.1 0 1 0 4.2 0a2.1 2.1 0 1 0 -4.2 0M1646.25 1866.52a2.1 2.1 0 1 0 4.2 0a2.1 2.1 0 1 0 -4.2 0M1652.65 1866.52a2.1 2.1 0 1 0 4.2 0a2.1 2.1 0 1 0 -4.2 0M1639.85 1895.55a2.1 2.1 0 1 0 4.2 0a2.1 2.1 0 1 0 -4.2 0M1646.25 1895.55a2.1 2.1 0 1 0 4.2 0a2.1 2.1 0 1 0 -4.2 0M1652.65 1895.55a2.1 2.1 0 1 0 4.2 0a2.1 2.1 0 1 0 -4.2 0M1659.05 1895.55a2.1 2.1 0 1 0 4.2 0a2.1 2.1 0 1 0 -4.2 0M1646.25 1903.15a2.1 2.1 0 1 0 4.2 0a2.1 2.1 0 1 0 -4.2 0M1652.65 1903.15a2.1 2.1 0 1 0 4.2 0a2.1 2.1 0 1 0 -4.2 0M1643.05 1914.21a2.1 2.1 0 1 0 4.2 0a2.1 2.1 0 1 0 -4.2 0M1649.45 1914.21a2.1 2.1 0 1 0 4.2 0a2.1 2.1 0 1 0 -4.2 0M1655.85 1914.21a2.1 2.1 0 1 0 4.2 0a2.1 2.1 0 1 0 -4.2 0M1643.05 1937.02a2.1 2.1 0 1 0 4.2 0a2.1 2.1 0 1 0 -4.2 0M1649.45 1937.02a2.1 2.1 0 1 0 4.2 0a2.1 2.1 0 1 0 -4.2 0M1655.85 1937.02a2.1 2.1 0 1 0 4.2 0a2.1 2.1 0 1 0 -4.2 0M1643.05 1944.62a2.1 2.1 0 1 0 4.2 0a2.1 2.1 0 1 0 -4.2 0M1649.45 1944.62a2.1 2.1 0 1 0 4.2 0a2.1 2.1 0 1 0 -4.2 0M1655.85 1944.62a2.1 2.1 0 1 0 4.2 0a2.1 2.1 0 1 0 -4.2 0M1643.05 1955.68a2.1 2.1 0 1 0 4.2 0a2.1 2.1 0 1 0 -4.2 0M1649.45 1955.68a2.1 2.1 0 1 0 4.2 0a2.1 2.1 0 1 0 -4.2 0M1655.85 1955.68a2.1 2.1 0 1 0 4.2 0a2.1 2.1 0 1 0 -4.2 0M1649.45 1958.45a2.1 2.1 0 1 0 4.2 0a2.1 2.1 0 1 0 -4.2 0M1649.45 1975.73a2.1 2.1 0 1 0 4.2 0a2.1 2.1 0 1 0 -4.2 0" fill="#111"/>
<path d="M1730.35 1878.44l1.9 1.9l-1.9 1.9l-1.9 -1.9zM1730.35 1952.4l1.9 1.9l-1.9 1.9l-1.9 -1.9zM1730.35 1962.08l1.9 1.9l-1.9 1.9l-1.9 -1.9zM1723.95 1973.83l1.9 1.9l-1.9 1.9l-1.9 -1.9zM1730.35 1973.83l1.9 1.9l-1.9 1.9l-1.9 -1.9zM1736.75 1973.83l1.9 1.9l-1.9 1.9l-1.9 -1.9zM1723.95 1977.28l1.9 1.9l-1.9 1.9l-1.9 -1.9zM1730.35 1977.28l1.9 1.9l-1.9 1.9l-1.9 -1.9zM1736.75 1977.28l1.9 1.9l-1.9 1.9l-1.9 -1.9zM1723.95 1982.12l1.9 1.9l-1.9 1.9l-1.9 -1.9zM1730.35 1982.12l1.9 1.9l-1.9 1.9l-1.9 -1.9zM1736.75 1982.12l1.9 1.9l-1.9 1.9l-1.9 -1.9zM1720.75 1986.27l1.9 1.9l-1.9 1.9l-1.9 -1.9zM1727.15 1986.27l1.9 1.9l-1.9 1.9l-1.9 -1.9zM1733.55 1986.27l1.9 1.9l-1.9 1.9l-1.9 -1.9zM1739.95 1986.27l1.9 1.9l-1.9 1.9l-1.9 -1.9zM1723.95 1993.87l1.9 1.9l-1.9 1.9l-1.9 -1.9zM1730.35 1993.87l1.9 1.9l-1.9 1.9l-1.9 -1.9zM1736.75 1993.87l1.9 1.9l-1.9 1.9l-1.9 -1.9zM1714.35 2001.48l1.9 1.9l-1.9 1.9l-1.9 -1.9zM1720.75 2001.48l1.9 1.9l-1.9 1.9l-1.9 -1.9zM1727.15 2001.48l1.9 1.9l-1.9 1.9l-1.9 -1.9zM1733.55 2001.48l1.9 1.9l-1.9 1.9l-1.9 -1.9zM1739.95 2001.48l1.9 1.9l-1.9 1.9l-1.9 -1.9zM1746.35 2001.48l1.9 1.9l-1.9 1.9l-1.9 -1.9zM1717.55 2008.39l1.9 1.9l-1.9 1.9l-1.9 -1.9zM1723.95 2008.39l1.9 1.9l-1.9 1.9l-1.9 -1.9zM1730.35 2008.39l1.9 1.9l-1.9 1.9l-1.9 -1.9zM1736.75 2008.39l1.9 1.9l-1.9 1.9l-1.9 -1.9zM1743.15 2008.39l1.9 1.9l-1.9 1.9l-1.9 -1.9zM1730.35 2023.59l1.9 1.9l-1.9 1.9l-1.9 -1.9zM1730.35 2029.12l1.9 1.9l-1.9 1.9l-1.9 -1.9z" fill="#000"/>
<path d="M1786.4 1846.65l1.9 1.9l-1.9 1.9l-1.9 -1.9zM1786.4 1924.75l1.9 1.9l-1.9 1.9l-1.9 -1.9zM1783.2 1933.05l1.9 1.9l-1.9 1.9l-1.9 -1.9zM1789.6 1933.05l1.9 1.9l-1.9 1.9l-1.9 -1.9zM1786.4 1937.89l1.9 1.9l-1.9 1.9l-1.9 -1.9zM1783.2 1943.42l1.9 1.9l-1.9 1.9l-1.9 -1.9zM1789.6 1943.42l1.9 1.9l-1.9 1.9l-1.9 -1.9zM1783.2 1951.71l1.9 1.9l-1.9 1.9l-1.9 -1.9zM1789.6 1951.71l1.9 1.9l-1.9 1.9l-1.9 -1.9zM1786.4 1960l1.9 1.9l-1.9 1.9l-1.9 -1.9zM1783.2 1975.9l1.9 1.9l-1.9 1.9l-1.9 -1.9zM1789.6 1975.9l1.9 1.9l-1.9 1.9l-1.9 -1.9zM1783.2 1982.12l1.9 1.9l-1.9 1.9l-1.9 -1.9zM1789.6 1982.12l1.9 1.9l-1.9 1.9l-1.9 -1.9zM1783.2 1991.11l1.9 1.9l-1.9 1.9l-1.9 -1.9zM1789.6 1991.11l1.9 1.9l-1.9 1.9l-1.9 -1.9zM1786.4 1993.87l1.9 1.9l-1.9 1.9l-1.9 -1.9zM1783.2 2001.48l1.9 1.9l-1.9 1.9l-1.9 -1.9zM1789.6 2001.48l1.9 1.9l-1.9 1.9l-1.9 -1.9zM1786.4 2005.62l1.9 1.9l-1.9 1.9l-1.9 -1.9zM1783.2 2014.61l1.9 1.9l-1.9 1.9l-1.9 -1.9zM1789.6 2014.61l1.9 1.9l-1.9 1.9l-1.9 -1.9zM1783.2 2026.36l1.9 1.9l-1.9 1.9l-1.9 -1.9zM1789.6 2026.36l1.9 1.9l-1.9 1.9l-1.9 -1.9zM1786.4 2036.04l1.9 1.9l-1.9 1.9l-1.9 -1.9z" fill="#000"/>
<path d="M1862.8 1955.31h4.4l-2.2 3.74zM1859.6 1964.29h4.4l-2.2 3.74zM1866 1964.29h4.4l-2.2 3.74zM1856.4 1976.04h4.4l-2.2 3.74zM1862.8 1976.04h4.4l-2.2 3.74zM1869.2 1976.04h4.4l-2.2 3.74zM1859.6 1979.5h4.4l-2.2 3.74zM1866 1979.5h4.4l-2.2 3.74zM1856.4 1983.64h4.4l-2.2 3.74zM1862.8 1983.64h4.4l-2.2 3.74zM1869.2 1983.64h4.4l-2.2 3.74zM1856.4 1992.63h4.4l-2.2 3.74zM1862.8 1992.63h4.4l-2.2 3.74zM1869.2 1992.63h4.4l-2.2 3.74zM1859.6 1995.4h4.4l-2.2 3.74zM1866 1995.4h4.4l-2.2 3.74zM1856.4 2001.62h4.4l-2.2 3.74zM1862.8 2001.62h4.4l-2.2 3.74zM1869.2 2001.62h4.4l-2.2 3.74zM1859.6 2007.15h4.4l-2.2 3.74zM1866 2007.15h4.4l-2.2 3.74zM1859.6 2011.98h4.4l-2.2 3.74zM1866 2011.98h4.4l-2.2 3.74zM1859.6 2020.62h4.4l-2.2 3.74zM1866 2020.62h4.4l-2.2 3.74zM1862.8 2023.04h4.4l-2.2 3.74z" fill="#000"/>
<path d="M1919.15 1857.85h4.4l-2.2 3.74zM1919.15 1920.05h4.4l-2.2 3.74zM1906.35 1926.28h4.4l-2.2 3.74zM1912.75 1926.28h4.4l-2.2 3.74zM1919.15 1926.28h4.4l-2.2 3.74zM1925.55 1926.28h4.4l-2.2 3.74zM1931.95 1926.28h4.4l-2.2 3.74zM1915.95 1928.35h4.4l-2.2 3.74zM1922.35 1928.35h4.4l-2.2 3.74zM1912.75 1938.03h4.4l-2.2 3.74zM1919.15 1938.03h4.4l-2.2 3.74zM1925.55 1938.03h4.4l-2.2 3.74zM1912.75 1958.76h4.4l-2.2 3.74zM1919.15 1958.76h4.4l-2.2 3.74zM1925.55 1958.76h4.4l-2.2 3.74zM1912.75 1967.75h4.4l-2.2 3.74zM1919.15 1967.75h4.4l-2.2 3.74zM1925.55 1967.75h4.4l-2.2 3.74zM1915.95 1989.87h4.4l-2.2 3.74zM1922.35 1989.87h4.4l-2.2 3.74zM1915.95 1996.78h4.4l-2.2 3.74zM1922.35 1996.78h4.4l-2.2 3.74zM1915.95 2003h4.4l-2.2 3.74zM1922.35 2003h4.4l-2.2 3.74zM1912.75 2010.6h4.4l-2.2 3.74zM1919.15 2010.6h4.4l-2.2 3.74zM1925.55 2010.6h4.4l-2.2 3.74zM1919.15 2013.37h4.4l-2.2 3.74zM1919.15 2021.66h4.4l-2.2 3.74z" fill="#000"/>
<line x1="1595.2" y1="1958.1" x2="1595.2" y2="1968.5" stroke="#000" stroke-width="3.2"/>
<line x1="1584.2" y1="1958.1" x2="1606.2" y2="1958.1" stroke="#000" stroke-width="3.2"/>
<line x1="1651.55" y1="1877.6" x2="1651.55" y2="1891.6" stroke="#000" stroke-width="3.2"/>
<line x1="1640.55" y1="1877.6" x2="1662.55" y2="1877.6" stroke="#000" stroke-width="3.2"/>
<line x1="1730.35" y1="1985.3" x2="1730.35" y2="1992.8" stroke="#000" stroke-width="3.2"/>
<line x1="1719.35" y1="1985.3" x2="1741.35" y2="1985.3" stroke="#000" stroke-width="3.2"/>
<line x1="1786.4" y1="1965.5" x2="1786.4" y2="1975.3" stroke="#000" stroke-width="3.2"/>
<line x1="1775.4" y1="1965.5" x2="1797.4" y2="1965.5" stroke="#000" stroke-width="3.2"/>
<line x1="1865" y1="1988.2" x2="1865" y2="1994.3" stroke="#000" stroke-width="3.2"/>
<line x1="1854" y1="1988.2" x2="1876" y2="1988.2" stroke="#000" stroke-width="3.2"/>
<line x1="1921.35" y1="1949.8" x2="1921.35" y2="1959.7" stroke="#000" stroke-width="3.2"/>
<line x1="1910.35" y1="1949.8" x2="1932.35" y2="1949.8" stroke="#000" stroke-width="3.2"/>
<line x1="1561.3" y1="1768.2" x2="1561.3" y2="1803.1" stroke="#000" stroke-width="3.3"/>
<line x1="1561.3" y1="1825.3" x2="1561.3" y2="2103.6" stroke="#000" stroke-width="3.3"/>
<line x1="1551.25" y1="1827.12" x2="1561.3" y2="1827.12" stroke="#000" stroke-width="3.3"/>
<text x="1547.95" y="1836.39" font-size="24.5" stroke="#000" stroke-width="0.45" text-anchor="end">40</text>
<line x1="1551.25" y1="1861.68" x2="1561.3" y2="1861.68" stroke="#000" stroke-width="3.3"/>
<text x="1547.95" y="1870.95" font-size="24.5" stroke="#000" stroke-width="0.45" text-anchor="end">35</text>
<line x1="1551.25" y1="1896.24" x2="1561.3" y2="1896.24" stroke="#000" stroke-width="3.3"/>
<text x="1547.95" y="1905.51" font-size="24.5" stroke="#000" stroke-width="0.45" text-anchor="end">30</text>
<line x1="1551.25" y1="1930.8" x2="1561.3" y2="1930.8" stroke="#000" stroke-width="3.3"/>
<text x="1547.95" y="1940.07" font-size="24.5" stroke="#000" stroke-width="0.45" text-anchor="end">25</text>
<line x1="1551.25" y1="1965.36" x2="1561.3" y2="1965.36" stroke="#000" stroke-width="3.3"/>
<text x="1547.95" y="1974.63" font-size="24.5" stroke="#000" stroke-width="0.45" text-anchor="end">20</text>
<line x1="1551.25" y1="1999.92" x2="1561.3" y2="1999.92" stroke="#000" stroke-width="3.3"/>
<text x="1547.95" y="2009.19" font-size="24.5" stroke="#000" stroke-width="0.45" text-anchor="end">15</text>
<line x1="1551.25" y1="2034.48" x2="1561.3" y2="2034.48" stroke="#000" stroke-width="3.3"/>
<text x="1547.95" y="2043.75" font-size="24.5" stroke="#000" stroke-width="0.45" text-anchor="end">10</text>
<line x1="1551.25" y1="2069.04" x2="1561.3" y2="2069.04" stroke="#000" stroke-width="3.3"/>
<text x="1547.95" y="2078.31" font-size="24.5" stroke="#000" stroke-width="0.45" text-anchor="end">5</text>
<line x1="1551.25" y1="2103.6" x2="1561.3" y2="2103.6" stroke="#000" stroke-width="3.3"/>
<text x="1547.95" y="2112.87" font-size="24.5" stroke="#000" stroke-width="0.45" text-anchor="end">0</text>
<line x1="1551.25" y1="1770" x2="1561.3" y2="1770" stroke="#000" stroke-width="3.3"/>
<text x="1547.95" y="1779.27" font-size="24.5" stroke="#000" stroke-width="0.45" text-anchor="end">55</text>
<line x1="1551.25" y1="1801.3" x2="1561.3" y2="1801.3" stroke="#000" stroke-width="3.3"/>
<text x="1547.95" y="1810.57" font-size="24.5" stroke="#000" stroke-width="0.45" text-anchor="end">40</text>
<line x1="1551.25" y1="1801.3" x2="1569.3" y2="1801.3" stroke="#000" stroke-width="3.3"/>
<line x1="1551.25" y1="1827.1" x2="1569.3" y2="1827.1" stroke="#000" stroke-width="3.3"/>
<line x1="1551.6" y1="2103.6" x2="1957" y2="2103.6" stroke="#000" stroke-width="3.3"/>
<line x1="1595.2" y1="2103.6" x2="1595.2" y2="2113.6" stroke="#000" stroke-width="3.3"/>
<text transform="translate(1596.7 2128.6) rotate(-45)" x="0" y="9.06" font-size="25.3" stroke="#000" stroke-width="0.4" text-anchor="end">Basal</text>
<line x1="1651.55" y1="2103.6" x2="1651.55" y2="2113.6" stroke="#000" stroke-width="3.3"/>
<text transform="translate(1653.05 2128.6) rotate(-45)" x="0" y="9.06" font-size="25.3" stroke="#000" stroke-width="0.4" text-anchor="end">Clamped</text>
<line x1="1730.35" y1="2103.6" x2="1730.35" y2="2113.6" stroke="#000" stroke-width="3.3"/>
<text transform="translate(1731.85 2128.6) rotate(-45)" x="0" y="9.06" font-size="25.3" stroke="#000" stroke-width="0.4" text-anchor="end">Basal</text>
<line x1="1786.4" y1="2103.6" x2="1786.4" y2="2113.6" stroke="#000" stroke-width="3.3"/>
<text transform="translate(1787.9 2128.6) rotate(-45)" x="0" y="9.06" font-size="25.3" stroke="#000" stroke-width="0.4" text-anchor="end">Clamped</text>
<line x1="1865" y1="2103.6" x2="1865" y2="2113.6" stroke="#000" stroke-width="3.3"/>
<text transform="translate(1866.5 2128.6) rotate(-45)" x="0" y="9.06" font-size="25.3" stroke="#000" stroke-width="0.4" text-anchor="end">Basal</text>
<line x1="1921.35" y1="2103.6" x2="1921.35" y2="2113.6" stroke="#000" stroke-width="3.3"/>
<text transform="translate(1922.85 2128.6) rotate(-45)" x="0" y="9.06" font-size="25.3" stroke="#000" stroke-width="0.4" text-anchor="end">Clamped</text>
<text transform="translate(1486.5 1936.5) rotate(-90)" x="0" y="9.67" font-size="27" font-weight="bold" stroke="#000" stroke-width="0.81" text-anchor="middle">Rd (mg/min/kg)</text>
<polyline points="1597.4,1714.7 1597.4,1707.3 1721,1707.3 1721,1714.7" fill="none" stroke="#000" stroke-width="1.5" stroke-linejoin="miter"/>
<polyline points="1592.4,1767.3 1592.4,1760.5 1647.7,1760.5 1647.7,1767.3" fill="none" stroke="#000" stroke-width="1.5" stroke-linejoin="miter"/>
<polyline points="1656.6,1767.3 1656.6,1760.5 1779.9,1760.5 1779.9,1767.3" fill="none" stroke="#000" stroke-width="1.5" stroke-linejoin="miter"/>
<polyline points="1860,1767.3 1860,1760.5 1921.8,1760.5 1921.8,1767.3" fill="none" stroke="#000" stroke-width="1.5" stroke-linejoin="miter"/>
<text x="1660.56" y="1700.06" font-size="26.35" font-weight="bold" text-anchor="middle" letter-spacing="2.12" stroke="#000" stroke-width="0.35" style="font-family:'DejaVu Sans',sans-serif">**</text>
<text x="1719.76" y="1752.66" font-size="26.35" font-weight="bold" text-anchor="middle" letter-spacing="2.12" stroke="#000" stroke-width="0.35" style="font-family:'DejaVu Sans',sans-serif">***</text>
<text x="1620.2" y="1746.23" font-size="23" stroke="#000" stroke-width="0.4" text-anchor="middle">@@@</text>
<text x="1891" y="1746.23" font-size="23" stroke="#000" stroke-width="0.4" text-anchor="middle">@@</text>
<text transform="translate(1465.04 1713.2) scale(1 1)" font-size="57" stroke="#000" stroke-width="0.7">m</text>
</g>
</svg>
</body></html>
